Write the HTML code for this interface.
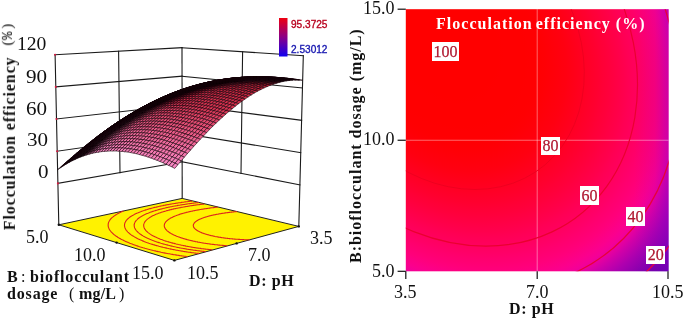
<!DOCTYPE html>
<html><head><meta charset="utf-8"><style>
html,body{margin:0;padding:0;background:#fff;}
body{width:685px;height:322px;position:relative;overflow:hidden;font-family:"Liberation Serif",serif;color:#111;}
svg{position:absolute;left:0;top:0;}
.t{position:absolute;white-space:nowrap;line-height:1;font-size:18px;will-change:transform;}
.b{font-weight:bold;}
.lab{will-change:transform;position:absolute;background:#fff;color:#b01830;-webkit-text-stroke:0.25px #b01830;font-size:16px;line-height:1;text-align:center;white-space:nowrap;}
</style></head><body>
<svg width="685" height="322" viewBox="0 0 685 322">
<defs><linearGradient id="cb" x1="0" y1="0" x2="0" y2="1"><stop offset="0" stop-color="#ee0010"/><stop offset="0.5" stop-color="#8a0088"/><stop offset="1" stop-color="#1000f0"/></linearGradient></defs>
<g stroke-linecap="square">
<line x1="57.9" y1="183.4" x2="182.2" y2="161.8" stroke="#1a1a1a" stroke-width="1.1"/>
<line x1="182.2" y1="161.8" x2="299.9" y2="184.9" stroke="#1a1a1a" stroke-width="1.1"/>
<line x1="57.2" y1="151.2" x2="182.1" y2="133.3" stroke="#1a1a1a" stroke-width="1.1"/>
<line x1="182.1" y1="133.3" x2="300.7" y2="152.6" stroke="#1a1a1a" stroke-width="1.1"/>
<line x1="56.5" y1="119" x2="182.1" y2="104.8" stroke="#1a1a1a" stroke-width="1.1"/>
<line x1="182.1" y1="104.8" x2="301.6" y2="120.3" stroke="#1a1a1a" stroke-width="1.1"/>
<line x1="55.8" y1="86.9" x2="182.1" y2="76.2" stroke="#1a1a1a" stroke-width="1.1"/>
<line x1="182.1" y1="76.2" x2="302.4" y2="88" stroke="#1a1a1a" stroke-width="1.1"/>
<line x1="55.1" y1="54.7" x2="182" y2="47.7" stroke="#1a1a1a" stroke-width="1.1"/>
<line x1="182" y1="47.7" x2="303.3" y2="55.7" stroke="#1a1a1a" stroke-width="1.1"/>
<line x1="120" y1="172.6" x2="118.6" y2="51.2" stroke="#1a1a1a" stroke-width="1.1"/>
<line x1="241" y1="173.4" x2="242.6" y2="51.7" stroke="#1a1a1a" stroke-width="1.1"/>
<line x1="58.8" y1="224.8" x2="55.1" y2="54.7" stroke="#1a1a1a" stroke-width="1.1"/>
<line x1="182.2" y1="198.4" x2="182" y2="47.7" stroke="#1a1a1a" stroke-width="1.1"/>
<line x1="298.8" y1="226.4" x2="303.3" y2="55.7" stroke="#1a1a1a" stroke-width="1.1"/>
</g>
<circle cx="57.9" cy="183.4" r="1.05" fill="#d81840"/>
<circle cx="57.2" cy="151.2" r="1.05" fill="#d81840"/>
<circle cx="56.5" cy="119" r="1.05" fill="#d81840"/>
<circle cx="55.8" cy="86.9" r="1.05" fill="#d81840"/>
<circle cx="55.1" cy="54.7" r="1.05" fill="#d81840"/>
<polygon points="58.8,224.8 174.4,260.4 298.8,226.4 182.2,198.4" fill="#fff200" stroke="#222" stroke-width="1"/>
<polyline fill="none" stroke="#dc241c" stroke-width="1.1" points="158.1,251.6 159.1,251.8 160.1,252 161.1,252.3 162.1,252.5 163.1,252.7 164.1,252.9 165.2,253.1 166.2,253.3 167.2,253.5 168.2,253.7 169.3,253.8 170.3,254 171.4,254.2 172.4,254.4 173.5,254.6 174.5,254.7 175.6,254.9 176.6,255.1 177.7,255.3 178.8,255.4 179.8,255.6 180.9,255.7 182,255.9 183.1,256 184.1,256.2 185.2,256.3 186.3,256.5 187.4,256.6"/>
<polyline fill="none" stroke="#dc241c" stroke-width="1.1" points="123.5,211 122.8,211.3 122.2,211.5 121.6,211.8 121,212.1 120.4,212.4 119.8,212.6 119.2,212.9 118.7,213.2 118.1,213.5 117.6,213.8 117.1,214.1 116.6,214.4 116.1,214.7 115.6,215 115.2,215.3 114.7,215.6 114.3,215.9 113.8,216.2 113.4,216.5 113,216.8 112.7,217.1 112.3,217.4 112,217.7 111.6,218.1 111.3,218.4 111,218.7 110.7,219 110.4,219.3 110.2,219.7 109.9,220 109.7,220.3 109.5,220.7 109.3,221 109.1,221.3 108.9,221.7 108.8,222 108.6,222.3 108.5,222.7 108.4,223 108.3,223.3 108.3,223.7 108.2,224 108.2,224.4 108.2,224.7 108.1,225.1 108.2,225.4 108.2,225.8 108.2,226.1 108.3,226.4 108.3,226.8 108.4,227.1 108.5,227.5 108.7,227.8 108.8,228.2 109,228.5 109.1,228.9 109.3,229.2 109.5,229.6 109.7,229.9 110,230.3 110.2,230.6 110.5,231 110.7,231.3 111,231.7 111.3,232 111.7,232.4 112,232.7 112.4,233.1 112.7,233.4 113.1,233.8 113.5,234.1 113.9,234.5 114.3,234.8 114.8,235.1 115.2,235.5 115.7,235.8 116.2,236.2 116.7,236.5 117.2,236.8 117.7,237.2 118.2,237.5 118.8,237.8 119.3,238.2 119.9,238.5 120.5,238.8 121.1,239.2 121.7,239.5 122.3,239.8 123,240.1 123.6,240.5 124.3,240.8 124.9,241.1 125.6,241.4 126.3,241.7 127,242 127.7,242.3 128.4,242.6 129.2,242.9 129.9,243.2 130.7,243.5 131.4,243.8 132.2,244.1 133,244.4 133.8,244.7 134.6,245 135.4,245.3 136.2,245.6 137,245.9 137.9,246.1 138.7,246.4 139.6,246.7 140.4,247 141.3,247.2 142.2,247.5 143.1,247.8 144,248 144.9,248.3 145.8,248.5 146.7,248.8 147.6,249 148.5,249.3 149.5,249.5 150.4,249.8 151.3,250 152.3,250.2 153.3,250.5 154.2,250.7 155.2,250.9 156.2,251.2 157.1,251.4 158.1,251.6"/>
<polyline fill="none" stroke="#dc241c" stroke-width="1.1" points="169.2,248.7 170.1,248.9 171,249.1 171.9,249.3 172.8,249.5 173.7,249.6 174.6,249.8 175.5,250 176.4,250.2 177.3,250.3 178.2,250.5 179.2,250.7 180.1,250.8 181,251 182,251.1 182.9,251.3 183.8,251.5 184.8,251.6 185.7,251.7 186.7,251.9 187.6,252 188.6,252.2 189.6,252.3 190.5,252.4 191.5,252.6 192.4,252.7 193.4,252.8 194.4,253 195.4,253.1 196.3,253.2 197.3,253.3 198.3,253.4 199.3,253.6"/>
<polyline fill="none" stroke="#dc241c" stroke-width="1.1" points="192,201.1 191,201.2 190.1,201.3 189.1,201.4 188.2,201.5 187.2,201.7 186.3,201.8 185.3,201.9 184.4,202 183.5,202.2 182.5,202.3 181.6,202.4 180.7,202.6 179.7,202.7 178.8,202.8 177.9,203 177,203.1 176,203.2 175.1,203.4 174.2,203.5 173.3,203.7 172.4,203.8 171.5,204 170.7,204.1 169.8,204.3 168.9,204.5 168,204.6 167.1,204.8 166.3,204.9 165.4,205.1 164.6,205.3 163.7,205.4 162.9,205.6 162,205.8 161.2,206 160.4,206.1 159.5,206.3 158.7,206.5 157.9,206.7 157.1,206.9 156.3,207.1 155.5,207.2 154.7,207.4 153.9,207.6 153.2,207.8 152.4,208 151.6,208.2 150.9,208.4 150.1,208.6 149.4,208.8 148.7,209 148,209.2 147.2,209.5 146.5,209.7 145.8,209.9 145.2,210.1 144.5,210.3 143.8,210.6 143.2,210.8 142.5,211 141.9,211.2 141.2,211.5 140.6,211.7 140,211.9 139.4,212.2 138.8,212.4 138.2,212.7 137.6,212.9 137.1,213.1 136.5,213.4 136,213.6 135.4,213.9 134.9,214.1 134.4,214.4 133.9,214.7 133.4,214.9 133,215.2 132.5,215.4 132,215.7 131.6,216 131.2,216.2 130.8,216.5 130.4,216.8 130,217.1 129.6,217.3 129.2,217.6 128.9,217.9 128.5,218.2 128.2,218.5 127.9,218.7 127.6,219 127.3,219.3 127,219.6 126.8,219.9 126.5,220.2 126.3,220.5 126.1,220.8 125.9,221.1 125.7,221.4 125.5,221.7 125.4,222 125.2,222.3 125.1,222.6 124.9,222.9 124.8,223.2 124.8,223.5 124.7,223.8 124.6,224.1 124.6,224.4 124.5,224.7 124.5,225 124.5,225.3 124.5,225.6 124.5,225.9 124.6,226.2 124.6,226.5 124.7,226.8 124.8,227.2 124.9,227.5 125,227.8 125.1,228.1 125.2,228.4 125.4,228.7 125.5,229 125.7,229.3 125.9,229.6 126.1,230 126.3,230.3 126.6,230.6 126.8,230.9 127.1,231.2 127.4,231.5 127.6,231.8 127.9,232.1 128.3,232.4 128.6,232.7 128.9,233 129.3,233.3 129.7,233.7 130,234 130.4,234.3 130.8,234.6 131.2,234.9 131.7,235.2 132.1,235.5 132.6,235.8 133,236.1 133.5,236.3 134,236.6 134.5,236.9 135,237.2 135.5,237.5 136.1,237.8 136.6,238.1 137.2,238.4 137.7,238.7 138.3,238.9 138.9,239.2 139.5,239.5 140.1,239.8 140.7,240 141.4,240.3 142,240.6 142.6,240.9 143.3,241.1 144,241.4 144.6,241.7 145.3,241.9 146,242.2 146.7,242.4 147.4,242.7 148.1,242.9 148.9,243.2 149.6,243.4 150.3,243.7 151.1,243.9 151.8,244.2 152.6,244.4 153.4,244.7 154.2,244.9 154.9,245.1 155.7,245.4 156.5,245.6 157.3,245.8 158.1,246 159,246.3 159.8,246.5 160.6,246.7 161.4,246.9 162.3,247.1 163.1,247.3 164,247.5 164.8,247.7 165.7,247.9 166.6,248.1 167.4,248.3 168.3,248.5 169.2,248.7"/>
<polyline fill="none" stroke="#dc241c" stroke-width="1.1" points="175.7,247 176.6,247.2 177.4,247.4 178.2,247.5 179.1,247.7 179.9,247.9 180.7,248 181.6,248.2 182.4,248.3 183.3,248.5 184.2,248.6 185,248.8 185.9,248.9 186.7,249.1 187.6,249.2 188.5,249.4 189.4,249.5 190.2,249.6 191.1,249.8 192,249.9 192.9,250 193.8,250.2 194.7,250.3 195.6,250.4 196.5,250.5 197.4,250.7 198.3,250.8 199.2,250.9 200.1,251 201,251.1 201.9,251.2 202.8,251.3 203.7,251.4 204.6,251.5 205.5,251.6"/>
<polyline fill="none" stroke="#dc241c" stroke-width="1.1" points="198.7,202.5 197.8,202.6 197,202.7 196.1,202.8 195.2,202.9 194.3,203 193.4,203.1 192.5,203.2 191.6,203.4 190.8,203.5 189.9,203.6 189,203.7 188.1,203.8 187.3,204 186.4,204.1 185.5,204.2 184.7,204.4 183.8,204.5 183,204.6 182.1,204.8 181.3,204.9 180.4,205 179.6,205.2 178.8,205.3 177.9,205.4 177.1,205.6 176.3,205.7 175.5,205.9 174.6,206 173.8,206.2 173,206.3 172.2,206.5 171.4,206.7 170.6,206.8 169.9,207 169.1,207.1 168.3,207.3 167.5,207.5 166.8,207.6 166,207.8 165.2,208 164.5,208.2 163.8,208.3 163,208.5 162.3,208.7 161.6,208.9 160.8,209.1 160.1,209.3 159.4,209.4 158.7,209.6 158,209.8 157.4,210 156.7,210.2 156,210.4 155.3,210.6 154.7,210.8 154,211 153.4,211.2 152.8,211.4 152.1,211.6 151.5,211.9 150.9,212.1 150.3,212.3 149.7,212.5 149.2,212.7 148.6,212.9 148,213.2 147.5,213.4 146.9,213.6 146.4,213.8 145.9,214.1 145.4,214.3 144.9,214.5 144.4,214.8 143.9,215 143.4,215.2 142.9,215.5 142.5,215.7 142.1,216 141.6,216.2 141.2,216.5 140.8,216.7 140.4,217 140,217.2 139.6,217.5 139.3,217.7 138.9,218 138.6,218.3 138.3,218.5 137.9,218.8 137.6,219 137.4,219.3 137.1,219.6 136.8,219.8 136.6,220.1 136.3,220.4 136.1,220.6 135.9,220.9 135.7,221.2 135.5,221.5 135.3,221.7 135.1,222 135,222.3 134.8,222.6 134.7,222.9 134.6,223.1 134.5,223.4 134.4,223.7 134.4,224 134.3,224.3 134.2,224.5 134.2,224.8 134.2,225.1 134.2,225.4 134.2,225.7 134.2,226 134.3,226.3 134.3,226.6 134.4,226.8 134.4,227.1 134.5,227.4 134.6,227.7 134.7,228 134.9,228.3 135,228.6 135.2,228.9 135.3,229.1 135.5,229.4 135.7,229.7 135.9,230 136.1,230.3 136.3,230.6 136.6,230.9 136.8,231.2 137.1,231.4 137.4,231.7 137.7,232 138,232.3 138.3,232.6 138.6,232.9 139,233.1 139.3,233.4 139.7,233.7 140.1,234 140.5,234.3 140.9,234.5 141.3,234.8 141.7,235.1 142.1,235.4 142.6,235.6 143,235.9 143.5,236.2 144,236.4 144.5,236.7 145,237 145.5,237.2 146,237.5 146.5,237.8 147,238 147.6,238.3 148.1,238.5 148.7,238.8 149.3,239 149.9,239.3 150.5,239.5 151.1,239.8 151.7,240 152.3,240.3 152.9,240.5 153.6,240.8 154.2,241 154.8,241.2 155.5,241.5 156.2,241.7 156.8,241.9 157.5,242.2 158.2,242.4 158.9,242.6 159.6,242.8 160.3,243.1 161,243.3 161.8,243.5 162.5,243.7 163.2,243.9 164,244.1 164.7,244.3 165.5,244.5 166.2,244.7 167,244.9 167.8,245.1 168.5,245.3 169.3,245.5 170.1,245.7 170.9,245.9 171.7,246.1 172.5,246.3 173.3,246.5 174.1,246.7 174.9,246.8 175.7,247"/>
<polyline fill="none" stroke="#dc241c" stroke-width="1.1" points="182.2,245.3 182.9,245.5 183.7,245.6 184.5,245.8 185.2,245.9 186,246.1 186.8,246.2 187.6,246.4 188.4,246.5 189.2,246.7 190,246.8 190.8,247 191.6,247.1 192.4,247.2 193.2,247.4 194,247.5 194.8,247.6 195.6,247.7 196.4,247.9 197.2,248 198,248.1 198.9,248.2 199.7,248.3 200.5,248.4 201.3,248.6 202.2,248.7 203,248.8 203.8,248.9 204.7,249 205.5,249.1 206.4,249.2 207.2,249.3 208,249.4 208.9,249.5 209.7,249.5 210.6,249.6 211.4,249.7 212.3,249.8"/>
<polyline fill="none" stroke="#dc241c" stroke-width="1.1" points="204.3,204 203.5,204.1 202.6,204.2 201.8,204.3 201,204.4 200.1,204.5 199.3,204.6 198.5,204.7 197.7,204.8 196.9,204.9 196.1,205 195.2,205.1 194.4,205.3 193.6,205.4 192.8,205.5 192,205.6 191.2,205.7 190.4,205.8 189.6,206 188.9,206.1 188.1,206.2 187.3,206.4 186.5,206.5 185.7,206.6 185,206.7 184.2,206.9 183.4,207 182.7,207.2 181.9,207.3 181.1,207.4 180.4,207.6 179.7,207.7 178.9,207.9 178.2,208 177.4,208.2 176.7,208.3 176,208.5 175.3,208.6 174.6,208.8 173.8,208.9 173.1,209.1 172.4,209.3 171.8,209.4 171.1,209.6 170.4,209.8 169.7,209.9 169,210.1 168.4,210.3 167.7,210.5 167.1,210.6 166.4,210.8 165.8,211 165.1,211.2 164.5,211.4 163.9,211.5 163.3,211.7 162.7,211.9 162.1,212.1 161.5,212.3 160.9,212.5 160.3,212.7 159.8,212.9 159.2,213.1 158.6,213.3 158.1,213.5 157.6,213.7 157,213.9 156.5,214.1 156,214.3 155.5,214.5 155,214.7 154.5,215 154,215.2 153.6,215.4 153.1,215.6 152.7,215.8 152.2,216.1 151.8,216.3 151.4,216.5 151,216.7 150.6,217 150.2,217.2 149.8,217.4 149.4,217.7 149.1,217.9 148.7,218.1 148.4,218.4 148.1,218.6 147.8,218.9 147.5,219.1 147.2,219.3 146.9,219.6 146.6,219.8 146.4,220.1 146.1,220.3 145.9,220.6 145.7,220.8 145.4,221.1 145.2,221.3 145.1,221.6 144.9,221.8 144.7,222.1 144.6,222.4 144.4,222.6 144.3,222.9 144.2,223.1 144.1,223.4 144,223.6 143.9,223.9 143.8,224.2 143.8,224.4 143.7,224.7 143.7,225 143.7,225.2 143.7,225.5 143.7,225.8 143.7,226 143.8,226.3 143.8,226.5 143.9,226.8 143.9,227.1 144,227.3 144.1,227.6 144.2,227.9 144.3,228.1 144.4,228.4 144.6,228.7 144.7,228.9 144.9,229.2 145.1,229.5 145.3,229.7 145.5,230 145.7,230.3 145.9,230.5 146.2,230.8 146.4,231.1 146.7,231.3 146.9,231.6 147.2,231.8 147.5,232.1 147.8,232.4 148.1,232.6 148.5,232.9 148.8,233.1 149.1,233.4 149.5,233.6 149.9,233.9 150.3,234.2 150.6,234.4 151.1,234.7 151.5,234.9 151.9,235.2 152.3,235.4 152.8,235.7 153.2,235.9 153.7,236.1 154.1,236.4 154.6,236.6 155.1,236.9 155.6,237.1 156.1,237.3 156.6,237.6 157.1,237.8 157.7,238 158.2,238.3 158.8,238.5 159.3,238.7 159.9,239 160.5,239.2 161,239.4 161.6,239.6 162.2,239.8 162.8,240.1 163.4,240.3 164,240.5 164.7,240.7 165.3,240.9 165.9,241.1 166.6,241.3 167.2,241.5 167.9,241.7 168.6,241.9 169.2,242.1 169.9,242.3 170.6,242.5 171.3,242.7 172,242.9 172.7,243.1 173.4,243.3 174.1,243.4 174.8,243.6 175.5,243.8 176.2,244 177,244.2 177.7,244.3 178.4,244.5 179.2,244.7 179.9,244.8 180.7,245 181.4,245.2 182.2,245.3"/>
<polyline fill="none" stroke="#dc241c" stroke-width="1.1" points="196.1,241.7 196.7,241.8 197.3,241.9 198,242.1 198.6,242.2 199.3,242.3 199.9,242.4 200.6,242.5 201.2,242.7 201.9,242.8 202.5,242.9 203.2,243 203.8,243.1 204.5,243.2 205.2,243.3 205.8,243.4 206.5,243.5 207.2,243.6 207.8,243.7 208.5,243.8 209.2,243.9 209.9,244 210.6,244.1 211.2,244.2 211.9,244.3 212.6,244.4 213.3,244.4 214,244.5 214.7,244.6 215.4,244.7 216.1,244.8 216.8,244.8 217.5,244.9 218.2,245 218.9,245.1 219.6,245.1 220.3,245.2 221,245.3 221.7,245.3 222.4,245.4 223.1,245.4 223.8,245.5 224.5,245.6 225.2,245.6 225.9,245.7 226.6,245.7 227.3,245.8"/>
<polyline fill="none" stroke="#dc241c" stroke-width="1.1" points="217.8,207.1 217.1,207.2 216.4,207.2 215.7,207.3 215,207.4 214.4,207.5 213.7,207.6 213,207.7 212.3,207.7 211.6,207.8 210.9,207.9 210.3,208 209.6,208.1 208.9,208.2 208.2,208.3 207.6,208.4 206.9,208.5 206.2,208.6 205.5,208.7 204.9,208.8 204.2,208.9 203.6,209 202.9,209.1 202.3,209.2 201.6,209.3 201,209.4 200.3,209.5 199.7,209.6 199,209.7 198.4,209.9 197.7,210 197.1,210.1 196.5,210.2 195.9,210.3 195.2,210.5 194.6,210.6 194,210.7 193.4,210.8 192.8,211 192.2,211.1 191.6,211.2 191,211.3 190.4,211.5 189.8,211.6 189.2,211.7 188.6,211.9 188,212 187.5,212.2 186.9,212.3 186.3,212.4 185.8,212.6 185.2,212.7 184.7,212.9 184.1,213 183.6,213.2 183.1,213.3 182.5,213.5 182,213.6 181.5,213.8 181,213.9 180.5,214.1 180,214.3 179.5,214.4 179,214.6 178.5,214.7 178,214.9 177.6,215.1 177.1,215.2 176.6,215.4 176.2,215.6 175.7,215.8 175.3,215.9 174.9,216.1 174.5,216.3 174,216.5 173.6,216.6 173.2,216.8 172.8,217 172.5,217.2 172.1,217.4 171.7,217.6 171.3,217.7 171,217.9 170.6,218.1 170.3,218.3 170,218.5 169.7,218.7 169.3,218.9 169,219.1 168.7,219.3 168.5,219.5 168.2,219.7 167.9,219.9 167.7,220.1 167.4,220.3 167.2,220.5 166.9,220.7 166.7,220.9 166.5,221.1 166.3,221.3 166.1,221.5 165.9,221.7 165.7,221.9 165.6,222.1 165.4,222.4 165.3,222.6 165.1,222.8 165,223 164.9,223.2 164.8,223.4 164.7,223.6 164.6,223.8 164.5,224.1 164.5,224.3 164.4,224.5 164.4,224.7 164.3,224.9 164.3,225.1 164.3,225.4 164.3,225.6 164.3,225.8 164.3,226 164.3,226.2 164.4,226.5 164.4,226.7 164.5,226.9 164.5,227.1 164.6,227.3 164.7,227.5 164.8,227.8 164.9,228 165,228.2 165.2,228.4 165.3,228.6 165.4,228.9 165.6,229.1 165.8,229.3 165.9,229.5 166.1,229.7 166.3,229.9 166.5,230.2 166.7,230.4 167,230.6 167.2,230.8 167.4,231 167.7,231.2 168,231.4 168.2,231.6 168.5,231.8 168.8,232.1 169.1,232.3 169.4,232.5 169.7,232.7 170,232.9 170.4,233.1 170.7,233.3 171.1,233.5 171.4,233.7 171.8,233.9 172.1,234.1 172.5,234.3 172.9,234.5 173.3,234.7 173.7,234.9 174.1,235.1 174.5,235.3 175,235.5 175.4,235.6 175.8,235.8 176.3,236 176.7,236.2 177.2,236.4 177.7,236.6 178.1,236.7 178.6,236.9 179.1,237.1 179.6,237.3 180.1,237.5 180.6,237.6 181.1,237.8 181.6,238 182.1,238.1 182.7,238.3 183.2,238.5 183.7,238.6 184.3,238.8 184.8,239 185.4,239.1 185.9,239.3 186.5,239.4 187.1,239.6 187.6,239.7 188.2,239.9 188.8,240 189.4,240.2 190,240.3 190.6,240.5 191.2,240.6 191.8,240.8 192.4,240.9 193,241 193.6,241.2 194.2,241.3 194.8,241.4 195.5,241.6 196.1,241.7"/>
<polyline fill="none" stroke="#dc241c" stroke-width="1.1" points="215.7,236.6 216.1,236.7 216.6,236.7 217,236.8 217.5,236.9 217.9,237 218.4,237.1 218.8,237.1 219.3,237.2 219.7,237.3 220.2,237.4 220.7,237.4 221.1,237.5 221.6,237.6 222.1,237.7 222.5,237.7 223,237.8 223.5,237.9 223.9,237.9 224.4,238 224.9,238.1 225.4,238.1 225.9,238.2 226.3,238.2 226.8,238.3 227.3,238.4 227.8,238.4 228.3,238.5 228.8,238.5 229.2,238.6 229.7,238.6 230.2,238.7 230.7,238.7 231.2,238.8 231.7,238.8 232.2,238.9 232.7,238.9 233.2,239 233.7,239 234.2,239 234.6,239.1 235.1,239.1 235.6,239.2 236.1,239.2 236.6,239.2 237.1,239.3 237.6,239.3 238.1,239.3 238.6,239.4 239.1,239.4 239.6,239.4 240.1,239.5 240.6,239.5 241.1,239.5 241.6,239.5 242.2,239.6 242.7,239.6 243.2,239.6 243.7,239.6 244.2,239.7 244.7,239.7 245.2,239.7 245.7,239.7 246.2,239.7 246.7,239.7 247.2,239.8 247.7,239.8 248.2,239.8 248.7,239.8 249.2,239.8 249.7,239.8"/>
<polyline fill="none" stroke="#dc241c" stroke-width="1.1" points="236.9,211.6 236.4,211.6 235.9,211.7 235.4,211.7 234.9,211.8 234.4,211.8 233.9,211.9 233.4,211.9 232.9,212 232.4,212 231.9,212.1 231.4,212.1 231,212.2 230.5,212.2 230,212.3 229.5,212.4 229,212.4 228.5,212.5 228,212.6 227.6,212.6 227.1,212.7 226.6,212.7 226.1,212.8 225.6,212.9 225.2,212.9 224.7,213 224.2,213.1 223.7,213.2 223.3,213.2 222.8,213.3 222.3,213.4 221.9,213.4 221.4,213.5 220.9,213.6 220.5,213.7 220,213.8 219.6,213.8 219.1,213.9 218.6,214 218.2,214.1 217.7,214.2 217.3,214.2 216.8,214.3 216.4,214.4 216,214.5 215.5,214.6 215.1,214.7 214.6,214.8 214.2,214.9 213.8,214.9 213.4,215 212.9,215.1 212.5,215.2 212.1,215.3 211.7,215.4 211.3,215.5 210.8,215.6 210.4,215.7 210,215.8 209.6,215.9 209.2,216 208.8,216.1 208.4,216.2 208,216.3 207.7,216.4 207.3,216.6 206.9,216.7 206.5,216.8 206.2,216.9 205.8,217 205.4,217.1 205.1,217.2 204.7,217.3 204.3,217.5 204,217.6 203.7,217.7 203.3,217.8 203,217.9 202.7,218 202.3,218.2 202,218.3 201.7,218.4 201.4,218.5 201.1,218.7 200.8,218.8 200.5,218.9 200.2,219 199.9,219.2 199.6,219.3 199.3,219.4 199.1,219.6 198.8,219.7 198.5,219.8 198.3,220 198,220.1 197.8,220.2 197.6,220.4 197.3,220.5 197.1,220.7 196.9,220.8 196.7,220.9 196.5,221.1 196.3,221.2 196.1,221.4 195.9,221.5 195.7,221.6 195.5,221.8 195.3,221.9 195.2,222.1 195,222.2 194.9,222.4 194.7,222.5 194.6,222.7 194.5,222.8 194.3,223 194.2,223.1 194.1,223.3 194,223.4 193.9,223.5 193.8,223.7 193.7,223.9 193.7,224 193.6,224.2 193.5,224.3 193.5,224.5 193.4,224.6 193.4,224.8 193.4,224.9 193.4,225.1 193.3,225.2 193.3,225.4 193.3,225.5 193.3,225.7 193.3,225.8 193.4,226 193.4,226.1 193.4,226.3 193.5,226.4 193.5,226.6 193.6,226.7 193.6,226.9 193.7,227 193.8,227.2 193.8,227.4 193.9,227.5 194,227.7 194.1,227.8 194.2,228 194.4,228.1 194.5,228.3 194.6,228.4 194.8,228.6 194.9,228.7 195.1,228.9 195.2,229 195.4,229.1 195.5,229.3 195.7,229.4 195.9,229.6 196.1,229.7 196.3,229.9 196.5,230 196.7,230.2 196.9,230.3 197.1,230.4 197.4,230.6 197.6,230.7 197.8,230.9 198.1,231 198.3,231.1 198.6,231.3 198.9,231.4 199.1,231.6 199.4,231.7 199.7,231.8 200,232 200.2,232.1 200.5,232.2 200.8,232.3 201.1,232.5 201.5,232.6 201.8,232.7 202.1,232.9 202.4,233 202.7,233.1 203.1,233.2 203.4,233.3 203.7,233.5 204.1,233.6 204.4,233.7 204.8,233.8 205.2,233.9 205.5,234.1 205.9,234.2 206.3,234.3 206.6,234.4 207,234.5 207.4,234.6 207.8,234.7 208.2,234.8 208.6,234.9 209,235 209.3,235.2 209.8,235.3 210.2,235.4 210.6,235.5 211,235.6 211.4,235.7 211.8,235.8 212.2,235.8 212.7,235.9 213.1,236 213.5,236.1 213.9,236.2 214.4,236.3 214.8,236.4 215.2,236.5 215.7,236.6"/>
<circle cx="58.8" cy="224.8" r="1.2" fill="#111"/>
<circle cx="116.6" cy="242.6" r="1.2" fill="#111"/>
<circle cx="174.4" cy="260.4" r="1.2" fill="#111"/>
<circle cx="236.6" cy="243.4" r="1.2" fill="#111"/>
<circle cx="298.8" cy="226.4" r="1.2" fill="#111"/>
<g stroke="#140008" stroke-width="0.58" stroke-linejoin="round">
<path d="M182.1 104.2L185.1 102.1L181.9 101.9L178.9 104z" fill="#ea5884"/>
<path d="M178.9 104L181.9 101.9L178.8 101.8L175.8 103.9z" fill="#ea5782"/>
<path d="M185.1 102.1L188.1 100.2L184.9 99.9L181.9 101.9z" fill="#e8537d"/>
<path d="M175.8 103.9L178.8 101.8L175.6 101.9L172.7 104z" fill="#e95681"/>
<path d="M181.9 101.9L184.9 99.9L181.8 99.8L178.8 101.8z" fill="#e7527b"/>
<path d="M188.1 100.2L191.1 98.3L187.9 98L184.9 99.9z" fill="#e64e76"/>
<path d="M178.8 101.8L181.8 99.8L178.6 99.9L175.6 101.9z" fill="#e7517a"/>
<path d="M184.9 99.9L187.9 98L184.8 97.9L181.8 99.8z" fill="#e54d75"/>
<path d="M172.7 104L175.6 101.9L172.5 102L169.5 104.2z" fill="#e95581"/>
<path d="M191.1 98.3L194.1 96.5L190.9 96.2L187.9 98z" fill="#e44970"/>
<path d="M169.5 104.2L172.5 102L169.4 102.3L166.4 104.4z" fill="#cb4a70"/>
<path d="M175.6 101.9L178.6 99.9L175.5 100L172.5 102z" fill="#dc4d74"/>
<path d="M181.8 99.8L184.8 97.9L181.6 97.9L178.6 99.9z" fill="#e54c73"/>
<path d="M187.9 98L190.9 96.2L187.8 96.1L184.8 97.9z" fill="#e3486e"/>
<path d="M194.1 96.5L197.1 94.7L193.9 94.5L190.9 96.2z" fill="#e24569"/>
<path d="M172.5 102L175.5 100L172.3 100.3L169.4 102.3z" fill="#b03d5d"/>
<path d="M190.9 96.2L193.9 94.5L190.8 94.4L187.8 96.1z" fill="#e14468"/>
<path d="M166.4 104.4L169.4 102.3L166.2 102.7L163.2 104.9z" fill="#a13b59"/>
<path d="M178.6 99.9L181.6 97.9L178.5 98.1L175.5 100z" fill="#c14061"/>
<path d="M184.8 97.9L187.8 96.1L184.6 96.1L181.6 97.9z" fill="#d44366"/>
<path d="M197.1 94.7L200.1 93.1L196.9 92.9L193.9 94.5z" fill="#e04164"/>
<path d="M163.2 104.9L166.2 102.7L163.1 103.2L160.1 105.4z" fill="#772c42"/>
<path d="M169.4 102.3L172.3 100.3L169.2 100.7L166.2 102.7z" fill="#852e46"/>
<path d="M175.5 100L178.5 98.1L175.3 98.3L172.3 100.3z" fill="#95314a"/>
<path d="M181.6 97.9L184.6 96.1L181.5 96.2L178.5 98.1z" fill="#a6344f"/>
<path d="M187.8 96.1L190.8 94.4L187.6 94.4L184.6 96.1z" fill="#b93755"/>
<path d="M193.9 94.5L196.9 92.9L193.8 92.7L190.8 94.4z" fill="#ce3b5a"/>
<path d="M200.1 93.1L203.1 91.6L199.9 91.3L196.9 92.9z" fill="#de3d5e"/>
<path d="M160.1 105.4L163.1 103.2L159.9 103.9L157 106z" fill="#4f1d2c"/>
<path d="M166.2 102.7L169.2 100.7L166.1 101.2L163.1 103.2z" fill="#5b2030"/>
<path d="M172.3 100.3L175.3 98.3L172.2 98.7L169.2 100.7z" fill="#692234"/>
<path d="M178.5 98.1L181.5 96.2L178.3 96.5L175.3 98.3z" fill="#792639"/>
<path d="M184.6 96.1L187.6 94.4L184.5 94.5L181.5 96.2z" fill="#8a293f"/>
<path d="M190.8 94.4L193.8 92.7L190.6 92.7L187.6 94.4z" fill="#9e2c45"/>
<path d="M196.9 92.9L199.9 91.3L196.8 91.2L193.8 92.7z" fill="#b3304b"/>
<path d="M203.1 91.6L206.1 90.1L202.9 89.9L199.9 91.3z" fill="#ca3451"/>
<path d="M163.1 103.2L166.1 101.2L162.9 101.8L159.9 103.9z" fill="#31111a"/>
<path d="M181.5 96.2L184.5 94.5L181.3 94.8L178.3 96.5z" fill="#5c1b2a"/>
<path d="M199.9 91.3L202.9 89.9L199.8 89.7L196.8 91.2z" fill="#97263c"/>
<path d="M157 106L159.9 103.9L156.8 104.6L153.8 106.8z" fill="#260e15"/>
<path d="M169.2 100.7L172.2 98.7L169 99.2L166.1 101.2z" fill="#3e141f"/>
<path d="M175.3 98.3L178.3 96.5L175.2 96.9L172.2 98.7z" fill="#4c1824"/>
<path d="M187.6 94.4L190.6 92.7L187.5 92.9L184.5 94.5z" fill="#6e1f30"/>
<path d="M193.8 92.7L196.8 91.2L193.6 91.2L190.6 92.7z" fill="#822236"/>
<path d="M206.1 90.1L209.1 88.8L205.9 88.5L202.9 89.9z" fill="#af2b43"/>
<path d="M153.8 106.8L156.8 104.6L153.7 105.5L150.7 107.6z" fill="#000000"/>
<path d="M159.9 103.9L162.9 101.8L159.8 102.6L156.8 104.6z" fill="#090305"/>
<path d="M166.1 101.2L169 99.2L165.9 99.9L162.9 101.8z" fill="#14070a"/>
<path d="M172.2 98.7L175.2 96.9L172 97.4L169 99.2z" fill="#210a10"/>
<path d="M178.3 96.5L181.3 94.8L178.2 95.1L175.2 96.9z" fill="#2f0e15"/>
<path d="M184.5 94.5L187.5 92.9L184.3 93.1L181.3 94.8z" fill="#40121b"/>
<path d="M190.6 92.7L193.6 91.2L190.5 91.3L187.5 92.9z" fill="#521622"/>
<path d="M196.8 91.2L199.8 89.7L196.6 89.7L193.6 91.2z" fill="#661928"/>
<path d="M202.9 89.9L205.9 88.5L202.8 88.4L199.8 89.7z" fill="#7c1e2f"/>
<path d="M209.1 88.8L212.1 87.5L208.9 87.2L205.9 88.5z" fill="#942337"/>
<path d="M156.8 104.6L159.8 102.6L156.6 103.4L153.7 105.5z" fill="#000000"/>
<path d="M205.9 88.5L208.9 87.2L205.8 87.1L202.8 88.4z" fill="#601623"/>
<path d="M150.7 107.6L153.7 105.5L150.5 106.4L147.6 108.6z" fill="#000000"/>
<path d="M162.9 101.8L165.9 99.9L162.7 100.6L159.8 102.6z" fill="#000000"/>
<path d="M169 99.2L172 97.4L168.9 98L165.9 99.9z" fill="#000000"/>
<path d="M175.2 96.9L178.2 95.1L175 95.6L172 97.4z" fill="#030101"/>
<path d="M181.3 94.8L184.3 93.1L181.1 93.5L178.2 95.1z" fill="#120508"/>
<path d="M187.5 92.9L190.5 91.3L187.3 91.5L184.3 93.1z" fill="#23090e"/>
<path d="M193.6 91.2L196.6 89.7L193.5 89.8L190.5 91.3z" fill="#350d15"/>
<path d="M199.8 89.7L202.8 88.4L199.6 88.3L196.6 89.7z" fill="#4a111c"/>
<path d="M212.1 87.5L215.1 86.3L212 86L208.9 87.2z" fill="#781c2c"/>
<path d="M147.6 108.6L150.5 106.4L147.4 107.5L144.4 109.7z" fill="#000000"/>
<path d="M153.7 105.5L156.6 103.4L153.5 104.4L150.5 106.4z" fill="#000000"/>
<path d="M159.8 102.6L162.7 100.6L159.6 101.5L156.6 103.4z" fill="#000000"/>
<path d="M165.9 99.9L168.9 98L165.7 98.7L162.7 100.6z" fill="#000000"/>
<path d="M172 97.4L175 95.6L171.9 96.3L168.9 98z" fill="#000000"/>
<path d="M178.2 95.1L181.1 93.5L178 94L175 95.6z" fill="#000000"/>
<path d="M184.3 93.1L187.3 91.5L184.1 91.9L181.1 93.5z" fill="#000000"/>
<path d="M190.5 91.3L193.5 89.8L190.3 90.1L187.3 91.5z" fill="#050102"/>
<path d="M196.6 89.7L199.6 88.3L196.5 88.5L193.5 89.8z" fill="#180609"/>
<path d="M202.8 88.4L205.8 87.1L202.6 87.1L199.6 88.3z" fill="#2d0a10"/>
<path d="M208.9 87.2L212 86L208.8 85.9L205.8 87.1z" fill="#440f18"/>
<path d="M215.1 86.3L218.1 85.2L215 84.9L212 86z" fill="#5d1521"/>
<path d="M150.5 106.4L153.5 104.4L150.3 105.4L147.4 107.5z" fill="#000000"/>
<path d="M156.6 103.4L159.6 101.5L156.5 102.4L153.5 104.4z" fill="#000000"/>
<path d="M162.7 100.6L165.7 98.7L162.6 99.6L159.6 101.5z" fill="#000000"/>
<path d="M168.9 98L171.9 96.3L168.7 97L165.7 98.7z" fill="#000000"/>
<path d="M175 95.6L178 94L174.8 94.6L171.9 96.3z" fill="#000000"/>
<path d="M187.3 91.5L190.3 90.1L187.1 90.4L184.1 91.9z" fill="#000000"/>
<path d="M193.5 89.8L196.5 88.5L193.3 88.7L190.3 90.1z" fill="#000000"/>
<path d="M199.6 88.3L202.6 87.1L199.5 87.2L196.5 88.5z" fill="#000000"/>
<path d="M205.8 87.1L208.8 85.9L205.6 85.8L202.6 87.1z" fill="#100406"/>
<path d="M212 86L215 84.9L211.8 84.8L208.8 85.9z" fill="#28090e"/>
<path d="M144.4 109.7L147.4 107.5L144.2 108.7L141.3 110.8z" fill="#000000"/>
<path d="M181.1 93.5L184.1 91.9L181 92.4L178 94z" fill="#000000"/>
<path d="M218.1 85.2L221.1 84.2L218 83.9L215 84.9z" fill="#410e17"/>
<path d="M147.4 107.5L150.3 105.4L147.2 106.6L144.2 108.7z" fill="#000000"/>
<path d="M165.7 98.7L168.7 97L165.6 97.8L162.6 99.6z" fill="#000000"/>
<path d="M196.5 88.5L199.5 87.2L196.3 87.4L193.3 88.7z" fill="#000000"/>
<path d="M215 84.9L218 83.9L214.8 83.7L211.8 84.8z" fill="#0b0204"/>
<path d="M141.3 110.8L144.2 108.7L141.1 109.9L138.2 112.1z" fill="#000000"/>
<path d="M153.5 104.4L156.5 102.4L153.3 103.5L150.3 105.4z" fill="#000000"/>
<path d="M159.6 101.5L162.6 99.6L159.4 100.5L156.5 102.4z" fill="#000000"/>
<path d="M171.9 96.3L174.8 94.6L171.7 95.3L168.7 97z" fill="#000000"/>
<path d="M178 94L181 92.4L177.8 93L174.8 94.6z" fill="#000000"/>
<path d="M184.1 91.9L187.1 90.4L184 90.9L181 92.4z" fill="#000000"/>
<path d="M190.3 90.1L193.3 88.7L190.1 89.1L187.1 90.4z" fill="#000000"/>
<path d="M202.6 87.1L205.6 85.8L202.5 86L199.5 87.2z" fill="#000000"/>
<path d="M208.8 85.9L211.8 84.8L208.6 84.7L205.6 85.8z" fill="#000000"/>
<path d="M221.1 84.2L224.2 83.2L221 82.9L218 83.9z" fill="#24080c"/>
<path d="M138.2 112.1L141.1 109.9L138 111.3L135 113.5z" fill="#000000"/>
<path d="M144.2 108.7L147.2 106.6L144.1 107.9L141.1 109.9z" fill="#000000"/>
<path d="M150.3 105.4L153.3 103.5L150.2 104.6L147.2 106.6z" fill="#000000"/>
<path d="M156.5 102.4L159.4 100.5L156.3 101.6L153.3 103.5z" fill="#000000"/>
<path d="M162.6 99.6L165.6 97.8L162.4 98.8L159.4 100.5z" fill="#000000"/>
<path d="M168.7 97L171.7 95.3L168.5 96.2L165.6 97.8z" fill="#000000"/>
<path d="M174.8 94.6L177.8 93L174.7 93.8L171.7 95.3z" fill="#000000"/>
<path d="M181 92.4L184 90.9L180.8 91.5L177.8 93z" fill="#000000"/>
<path d="M187.1 90.4L190.1 89.1L187 89.6L184 90.9z" fill="#000000"/>
<path d="M193.3 88.7L196.3 87.4L193.2 87.8L190.1 89.1z" fill="#000000"/>
<path d="M199.5 87.2L202.5 86L199.3 86.2L196.3 87.4z" fill="#000000"/>
<path d="M205.6 85.8L208.6 84.7L205.5 84.8L202.5 86z" fill="#000000"/>
<path d="M211.8 84.8L214.8 83.7L211.7 83.7L208.6 84.7z" fill="#000000"/>
<path d="M218 83.9L221 82.9L217.8 82.8L214.8 83.7z" fill="#000000"/>
<path d="M224.2 83.2L227.2 82.4L224 82L221 82.9z" fill="#050102"/>
<path d="M135 113.5L138 111.3L134.9 112.8L131.9 114.9z" fill="#000000"/>
<path d="M141.1 109.9L144.1 107.9L140.9 109.2L138 111.3z" fill="#000000"/>
<path d="M147.2 106.6L150.2 104.6L147 105.9L144.1 107.9z" fill="#000000"/>
<path d="M153.3 103.5L156.3 101.6L153.1 102.8L150.2 104.6z" fill="#000000"/>
<path d="M159.4 100.5L162.4 98.8L159.3 99.8L156.3 101.6z" fill="#000000"/>
<path d="M165.6 97.8L168.5 96.2L165.4 97.1L162.4 98.8z" fill="#000000"/>
<path d="M171.7 95.3L174.7 93.8L171.5 94.6L168.5 96.2z" fill="#000000"/>
<path d="M177.8 93L180.8 91.5L177.7 92.3L174.7 93.8z" fill="#000000"/>
<path d="M184 90.9L187 89.6L183.8 90.2L180.8 91.5z" fill="#000000"/>
<path d="M190.1 89.1L193.2 87.8L190 88.3L187 89.6z" fill="#000000"/>
<path d="M196.3 87.4L199.3 86.2L196.2 86.6L193.2 87.8z" fill="#000000"/>
<path d="M202.5 86L205.5 84.8L202.3 85.1L199.3 86.2z" fill="#000000"/>
<path d="M208.6 84.7L211.7 83.7L208.5 83.8L205.5 84.8z" fill="#000000"/>
<path d="M214.8 83.7L217.8 82.8L214.7 82.7L211.7 83.7z" fill="#000000"/>
<path d="M221 82.9L224 82L220.9 81.9L217.8 82.8z" fill="#000000"/>
<path d="M227.2 82.4L230.2 81.6L227 81.2L224 82z" fill="#000000"/>
<path d="M131.9 114.9L134.9 112.8L131.7 114.3L128.8 116.5z" fill="#000000"/>
<path d="M138 111.3L140.9 109.2L137.8 110.7L134.9 112.8z" fill="#000000"/>
<path d="M144.1 107.9L147 105.9L143.9 107.3L140.9 109.2z" fill="#000000"/>
<path d="M150.2 104.6L153.1 102.8L150 104L147 105.9z" fill="#000000"/>
<path d="M156.3 101.6L159.3 99.8L156.1 101L153.1 102.8z" fill="#000000"/>
<path d="M162.4 98.8L165.4 97.1L162.2 98.2L159.3 99.8z" fill="#000000"/>
<path d="M168.5 96.2L171.5 94.6L168.4 95.5L165.4 97.1z" fill="#000000"/>
<path d="M174.7 93.8L177.7 92.3L174.5 93.1L171.5 94.6z" fill="#000000"/>
<path d="M180.8 91.5L183.8 90.2L180.7 90.9L177.7 92.3z" fill="#000000"/>
<path d="M187 89.6L190 88.3L186.8 88.9L183.8 90.2z" fill="#000000"/>
<path d="M193.2 87.8L196.2 86.6L193 87L190 88.3z" fill="#000000"/>
<path d="M199.3 86.2L202.3 85.1L199.2 85.4L196.2 86.6z" fill="#000000"/>
<path d="M205.5 84.8L208.5 83.8L205.3 84L202.3 85.1z" fill="#000000"/>
<path d="M211.7 83.7L214.7 82.7L211.5 82.8L208.5 83.8z" fill="#000000"/>
<path d="M217.8 82.8L220.9 81.9L217.7 81.8L214.7 82.7z" fill="#000000"/>
<path d="M224 82L227 81.2L223.9 81.1L220.9 81.9z" fill="#000000"/>
<path d="M230.2 81.6L233.2 80.8L230.1 80.5L227 81.2z" fill="#000000"/>
<path d="M134.9 112.8L137.8 110.7L134.7 112.2L131.7 114.3z" fill="#000000"/>
<path d="M140.9 109.2L143.9 107.3L140.8 108.7L137.8 110.7z" fill="#000000"/>
<path d="M153.1 102.8L156.1 101L153 102.3L150 104z" fill="#000000"/>
<path d="M171.5 94.6L174.5 93.1L171.4 94.1L168.4 95.5z" fill="#000000"/>
<path d="M177.7 92.3L180.7 90.9L177.5 91.7L174.5 93.1z" fill="#000000"/>
<path d="M183.8 90.2L186.8 88.9L183.7 89.6L180.7 90.9z" fill="#000000"/>
<path d="M190 88.3L193 87L189.8 87.7L186.8 88.9z" fill="#000000"/>
<path d="M208.5 83.8L211.5 82.8L208.4 83.1L205.3 84z" fill="#000000"/>
<path d="M220.9 81.9L223.9 81.1L220.7 81L217.7 81.8z" fill="#000000"/>
<path d="M227 81.2L230.1 80.5L226.9 80.3L223.9 81.1z" fill="#000000"/>
<path d="M128.8 116.5L131.7 114.3L128.6 115.9L125.7 118.1z" fill="#000000"/>
<path d="M147 105.9L150 104L146.9 105.4L143.9 107.3z" fill="#000000"/>
<path d="M159.3 99.8L162.2 98.2L159.1 99.3L156.1 101z" fill="#000000"/>
<path d="M165.4 97.1L168.4 95.5L165.2 96.6L162.2 98.2z" fill="#000000"/>
<path d="M196.2 86.6L199.2 85.4L196 85.9L193 87z" fill="#000000"/>
<path d="M202.3 85.1L205.3 84L202.2 84.4L199.2 85.4z" fill="#000000"/>
<path d="M214.7 82.7L217.7 81.8L214.5 82L211.5 82.8z" fill="#000000"/>
<path d="M233.2 80.8L236.2 80.2L233.1 79.9L230.1 80.5z" fill="#000000"/>
<path d="M131.7 114.3L134.7 112.2L131.5 113.9L128.6 115.9z" fill="#000000"/>
<path d="M150 104L153 102.3L149.8 103.6L146.9 105.4z" fill="#000000"/>
<path d="M180.7 90.9L183.7 89.6L180.5 90.4L177.5 91.7z" fill="#000000"/>
<path d="M211.5 82.8L214.5 82L211.4 82.2L208.4 83.1z" fill="#000000"/>
<path d="M230.1 80.5L233.1 79.9L229.9 79.7L226.9 80.3z" fill="#000000"/>
<path d="M125.7 118.1L128.6 115.9L125.5 117.7L122.5 119.8z" fill="#000000"/>
<path d="M137.8 110.7L140.8 108.7L137.6 110.3L134.7 112.2z" fill="#000000"/>
<path d="M143.9 107.3L146.9 105.4L143.7 106.9L140.8 108.7z" fill="#000000"/>
<path d="M156.1 101L159.1 99.3L156 100.6L153 102.3z" fill="#000000"/>
<path d="M162.2 98.2L165.2 96.6L162.1 97.8L159.1 99.3z" fill="#000000"/>
<path d="M168.4 95.5L171.4 94.1L168.2 95.1L165.2 96.6z" fill="#000000"/>
<path d="M174.5 93.1L177.5 91.7L174.4 92.7L171.4 94.1z" fill="#000000"/>
<path d="M186.8 88.9L189.8 87.7L186.7 88.4L183.7 89.6z" fill="#000000"/>
<path d="M193 87L196 85.9L192.8 86.5L189.8 87.7z" fill="#000000"/>
<path d="M199.2 85.4L202.2 84.4L199 84.9L196 85.9z" fill="#000000"/>
<path d="M205.3 84L208.4 83.1L205.2 83.4L202.2 84.4z" fill="#000000"/>
<path d="M217.7 81.8L220.7 81L217.5 81.1L214.5 82z" fill="#000000"/>
<path d="M223.9 81.1L226.9 80.3L223.7 80.3L220.7 81z" fill="#000000"/>
<path d="M236.2 80.2L239.3 79.6L236.1 79.3L233.1 79.9z" fill="#000000"/>
<path d="M122.5 119.8L125.5 117.7L122.4 119.5L119.4 121.6z" fill="#000000"/>
<path d="M128.6 115.9L131.5 113.9L128.4 115.6L125.5 117.7z" fill="#000000"/>
<path d="M134.7 112.2L137.6 110.3L134.5 111.9L131.5 113.9z" fill="#000000"/>
<path d="M146.9 105.4L149.8 103.6L146.7 105.1L143.7 106.9z" fill="#000000"/>
<path d="M153 102.3L156 100.6L152.8 102L149.8 103.6z" fill="#000000"/>
<path d="M165.2 96.6L168.2 95.1L165.1 96.3L162.1 97.8z" fill="#000000"/>
<path d="M177.5 91.7L180.5 90.4L177.4 91.4L174.4 92.7z" fill="#000000"/>
<path d="M183.7 89.6L186.7 88.4L183.5 89.2L180.5 90.4z" fill="#000000"/>
<path d="M196 85.9L199 84.9L195.8 85.5L192.8 86.5z" fill="#000000"/>
<path d="M208.4 83.1L211.4 82.2L208.2 82.6L205.2 83.4z" fill="#000000"/>
<path d="M214.5 82L217.5 81.1L214.4 81.4L211.4 82.2z" fill="#000000"/>
<path d="M226.9 80.3L229.9 79.7L226.7 79.7L223.7 80.3z" fill="#000000"/>
<path d="M233.1 79.9L236.1 79.3L232.9 79.1L229.9 79.7z" fill="#000000"/>
<path d="M239.3 79.6L242.3 79.1L239.1 78.8L236.1 79.3z" fill="#000000"/>
<path d="M140.8 108.7L143.7 106.9L140.6 108.4L137.6 110.3z" fill="#000000"/>
<path d="M159.1 99.3L162.1 97.8L158.9 99L156 100.6z" fill="#000000"/>
<path d="M171.4 94.1L174.4 92.7L171.2 93.8L168.2 95.1z" fill="#000000"/>
<path d="M189.8 87.7L192.8 86.5L189.7 87.3L186.7 88.4z" fill="#000000"/>
<path d="M202.2 84.4L205.2 83.4L202 83.9L199 84.9z" fill="#000000"/>
<path d="M220.7 81L223.7 80.3L220.6 80.4L217.5 81.1z" fill="#000000"/>
<path d="M119.4 121.6L122.4 119.5L119.2 121.3L116.3 123.5z" fill="#000000"/>
<path d="M125.5 117.7L128.4 115.6L125.3 117.4L122.4 119.5z" fill="#000000"/>
<path d="M131.5 113.9L134.5 111.9L131.4 113.6L128.4 115.6z" fill="#000000"/>
<path d="M137.6 110.3L140.6 108.4L137.5 110.1L134.5 111.9z" fill="#000000"/>
<path d="M143.7 106.9L146.7 105.1L143.6 106.7L140.6 108.4z" fill="#000000"/>
<path d="M149.8 103.6L152.8 102L149.7 103.4L146.7 105.1z" fill="#000000"/>
<path d="M156 100.6L158.9 99L155.8 100.4L152.8 102z" fill="#000000"/>
<path d="M162.1 97.8L165.1 96.3L161.9 97.6L158.9 99z" fill="#000000"/>
<path d="M168.2 95.1L171.2 93.8L168.1 94.9L165.1 96.3z" fill="#000000"/>
<path d="M174.4 92.7L177.4 91.4L174.2 92.5L171.2 93.8z" fill="#000000"/>
<path d="M180.5 90.4L183.5 89.2L180.4 90.2L177.4 91.4z" fill="#000000"/>
<path d="M186.7 88.4L189.7 87.3L186.5 88.1L183.5 89.2z" fill="#000000"/>
<path d="M192.8 86.5L195.8 85.5L192.7 86.2L189.7 87.3z" fill="#000000"/>
<path d="M199 84.9L202 83.9L198.9 84.5L195.8 85.5z" fill="#000000"/>
<path d="M205.2 83.4L208.2 82.6L205 83L202 83.9z" fill="#000000"/>
<path d="M211.4 82.2L214.4 81.4L211.2 81.8L208.2 82.6z" fill="#000000"/>
<path d="M217.5 81.1L220.6 80.4L217.4 80.7L214.4 81.4z" fill="#000000"/>
<path d="M223.7 80.3L226.7 79.7L223.6 79.8L220.6 80.4z" fill="#000000"/>
<path d="M229.9 79.7L232.9 79.1L229.8 79.1L226.7 79.7z" fill="#000000"/>
<path d="M236.1 79.3L239.1 78.8L236 78.6L232.9 79.1z" fill="#000000"/>
<path d="M242.3 79.1L245.3 78.6L242.1 78.3L239.1 78.8z" fill="#000000"/>
<path d="M122.4 119.5L125.3 117.4L122.2 119.3L119.2 121.3z" fill="#000000"/>
<path d="M239.1 78.8L242.1 78.3L239 78.2L236 78.6z" fill="#000000"/>
<path d="M116.3 123.5L119.2 121.3L116.1 123.3L113.2 125.5z" fill="#000000"/>
<path d="M128.4 115.6L131.4 113.6L128.2 115.4L125.3 117.4z" fill="#000000"/>
<path d="M134.5 111.9L137.5 110.1L134.3 111.8L131.4 113.6z" fill="#000000"/>
<path d="M140.6 108.4L143.6 106.7L140.4 108.3L137.5 110.1z" fill="#000000"/>
<path d="M146.7 105.1L149.7 103.4L146.5 105L143.6 106.7z" fill="#000000"/>
<path d="M152.8 102L155.8 100.4L152.6 101.9L149.7 103.4z" fill="#000000"/>
<path d="M158.9 99L161.9 97.6L158.8 99L155.8 100.4z" fill="#000000"/>
<path d="M165.1 96.3L168.1 94.9L164.9 96.2L161.9 97.6z" fill="#000000"/>
<path d="M171.2 93.8L174.2 92.5L171 93.6L168.1 94.9z" fill="#000000"/>
<path d="M177.4 91.4L180.4 90.2L177.2 91.3L174.2 92.5z" fill="#000000"/>
<path d="M183.5 89.2L186.5 88.1L183.4 89.1L180.4 90.2z" fill="#000000"/>
<path d="M189.7 87.3L192.7 86.2L189.5 87.1L186.5 88.1z" fill="#000000"/>
<path d="M195.8 85.5L198.9 84.5L195.7 85.3L192.7 86.2z" fill="#000000"/>
<path d="M202 83.9L205 83L201.9 83.7L198.9 84.5z" fill="#000000"/>
<path d="M208.2 82.6L211.2 81.8L208 82.2L205 83z" fill="#000000"/>
<path d="M214.4 81.4L217.4 80.7L214.2 81L211.2 81.8z" fill="#000000"/>
<path d="M220.6 80.4L223.6 79.8L220.4 80L217.4 80.7z" fill="#000000"/>
<path d="M226.7 79.7L229.8 79.1L226.6 79.2L223.6 79.8z" fill="#000000"/>
<path d="M232.9 79.1L236 78.6L232.8 78.6L229.8 79.1z" fill="#000000"/>
<path d="M245.3 78.6L248.3 78.2L245.2 77.9L242.1 78.3z" fill="#000000"/>
<path d="M119.2 121.3L122.2 119.3L119.1 121.2L116.1 123.3z" fill="#000000"/>
<path d="M125.3 117.4L128.2 115.4L125.1 117.3L122.2 119.3z" fill="#000000"/>
<path d="M137.5 110.1L140.4 108.3L137.3 110L134.3 111.8z" fill="#000000"/>
<path d="M155.8 100.4L158.8 99L155.6 100.4L152.6 101.9z" fill="#000000"/>
<path d="M168.1 94.9L171 93.6L167.9 94.9L164.9 96.2z" fill="#000000"/>
<path d="M192.7 86.2L195.7 85.3L192.5 86.1L189.5 87.1z" fill="#000000"/>
<path d="M205 83L208 82.2L204.9 82.9L201.9 83.7z" fill="#000000"/>
<path d="M223.6 79.8L226.6 79.2L223.4 79.4L220.4 80z" fill="#000000"/>
<path d="M236 78.6L239 78.2L235.8 78.1L232.8 78.6z" fill="#000000"/>
<path d="M242.1 78.3L245.2 77.9L242 77.8L239 78.2z" fill="#000000"/>
<path d="M113.2 125.5L116.1 123.3L113 125.3L110.1 127.5z" fill="#000000"/>
<path d="M131.4 113.6L134.3 111.8L131.2 113.6L128.2 115.4z" fill="#000000"/>
<path d="M143.6 106.7L146.5 105L143.4 106.7L140.4 108.3z" fill="#000000"/>
<path d="M149.7 103.4L152.6 101.9L149.5 103.4L146.5 105z" fill="#000000"/>
<path d="M161.9 97.6L164.9 96.2L161.7 97.6L158.8 99z" fill="#000000"/>
<path d="M174.2 92.5L177.2 91.3L174 92.4L171 93.6z" fill="#000000"/>
<path d="M180.4 90.2L183.4 89.1L180.2 90.1L177.2 91.3z" fill="#000000"/>
<path d="M186.5 88.1L189.5 87.1L186.4 88L183.4 89.1z" fill="#000000"/>
<path d="M198.9 84.5L201.9 83.7L198.7 84.4L195.7 85.3z" fill="#000000"/>
<path d="M211.2 81.8L214.2 81L211.1 81.5L208 82.2z" fill="#000000"/>
<path d="M217.4 80.7L220.4 80L217.2 80.4L214.2 81z" fill="#000000"/>
<path d="M229.8 79.1L232.8 78.6L229.6 78.7L226.6 79.2z" fill="#000000"/>
<path d="M248.3 78.2L251.3 77.9L248.2 77.6L245.2 77.9z" fill="#000000"/>
<path d="M134.3 111.8L137.3 110L134.1 111.9L131.2 113.6z" fill="#000000"/>
<path d="M164.9 96.2L167.9 94.9L164.7 96.3L161.7 97.6z" fill="#000000"/>
<path d="M195.7 85.3L198.7 84.4L195.5 85.3L192.5 86.1z" fill="#000000"/>
<path d="M226.6 79.2L229.6 78.7L226.4 78.9L223.4 79.4z" fill="#000000"/>
<path d="M116.1 123.3L119.1 121.2L115.9 123.3L113 125.3z" fill="#000000"/>
<path d="M122.2 119.3L125.1 117.3L122 119.3L119.1 121.2z" fill="#000000"/>
<path d="M128.2 115.4L131.2 113.6L128.1 115.5L125.1 117.3z" fill="#000000"/>
<path d="M140.4 108.3L143.4 106.7L140.2 108.4L137.3 110z" fill="#000000"/>
<path d="M152.6 101.9L155.6 100.4L152.5 102L149.5 103.4z" fill="#000000"/>
<path d="M158.8 99L161.7 97.6L158.6 99.1L155.6 100.4z" fill="#000000"/>
<path d="M171 93.6L174 92.4L170.9 93.7L167.9 94.9z" fill="#000000"/>
<path d="M189.5 87.1L192.5 86.1L189.4 87.1L186.4 88z" fill="#000000"/>
<path d="M201.9 83.7L204.9 82.9L201.7 83.6L198.7 84.4z" fill="#000000"/>
<path d="M208 82.2L211.1 81.5L207.9 82.2L204.9 82.9z" fill="#000000"/>
<path d="M220.4 80L223.4 79.4L220.3 79.8L217.2 80.4z" fill="#000000"/>
<path d="M232.8 78.6L235.8 78.1L232.6 78.2L229.6 78.7z" fill="#000000"/>
<path d="M239 78.2L242 77.8L238.8 77.7L235.8 78.1z" fill="#000000"/>
<path d="M245.2 77.9L248.2 77.6L245 77.5L242 77.8z" fill="#000000"/>
<path d="M110.1 127.5L113 125.3L109.9 127.4L107 129.6z" fill="#000000"/>
<path d="M146.5 105L149.5 103.4L146.4 105.1L143.4 106.7z" fill="#000000"/>
<path d="M177.2 91.3L180.2 90.1L177 91.3L174 92.4z" fill="#000000"/>
<path d="M183.4 89.1L186.4 88L183.2 89.1L180.2 90.1z" fill="#000000"/>
<path d="M214.2 81L217.2 80.4L214.1 80.9L211.1 81.5z" fill="#000000"/>
<path d="M251.3 77.9L254.4 77.7L251.2 77.4L248.2 77.6z" fill="#000000"/>
<path d="M131.2 113.6L134.1 111.9L131 113.8L128.1 115.5z" fill="#000000"/>
<path d="M137.3 110L140.2 108.4L137.1 110.2L134.1 111.9z" fill="#000000"/>
<path d="M149.5 103.4L152.5 102L149.3 103.6L146.4 105.1z" fill="#000000"/>
<path d="M161.7 97.6L164.7 96.3L161.6 97.8L158.6 99.1z" fill="#000000"/>
<path d="M167.9 94.9L170.9 93.7L167.7 95.1L164.7 96.3z" fill="#000000"/>
<path d="M192.5 86.1L195.5 85.3L192.4 86.2L189.4 87.1z" fill="#000000"/>
<path d="M198.7 84.4L201.7 83.6L198.5 84.5L195.5 85.3z" fill="#000000"/>
<path d="M211.1 81.5L214.1 80.9L210.9 81.5L207.9 82.2z" fill="#000000"/>
<path d="M223.4 79.4L226.4 78.9L223.3 79.3L220.3 79.8z" fill="#000000"/>
<path d="M229.6 78.7L232.6 78.2L229.5 78.5L226.4 78.9z" fill="#000000"/>
<path d="M107 129.6L109.9 127.4L106.8 129.6L103.9 131.7z" fill="#000000"/>
<path d="M113 125.3L115.9 123.3L112.8 125.4L109.9 127.4z" fill="#000000"/>
<path d="M119.1 121.2L122 119.3L118.9 121.3L115.9 123.3z" fill="#000000"/>
<path d="M125.1 117.3L128.1 115.5L124.9 117.5L122 119.3z" fill="#000000"/>
<path d="M143.4 106.7L146.4 105.1L143.2 106.8L140.2 108.4z" fill="#000000"/>
<path d="M155.6 100.4L158.6 99.1L155.4 100.6L152.5 102z" fill="#000000"/>
<path d="M174 92.4L177 91.3L173.9 92.6L170.9 93.7z" fill="#000000"/>
<path d="M180.2 90.1L183.2 89.1L180 90.3L177 91.3z" fill="#000000"/>
<path d="M186.4 88L189.4 87.1L186.2 88.2L183.2 89.1z" fill="#000000"/>
<path d="M204.9 82.9L207.9 82.2L204.7 82.9L201.7 83.6z" fill="#000000"/>
<path d="M217.2 80.4L220.3 79.8L217.1 80.3L214.1 80.9z" fill="#000000"/>
<path d="M235.8 78.1L238.8 77.7L235.7 77.9L232.6 78.2z" fill="#000000"/>
<path d="M242 77.8L245 77.5L241.8 77.4L238.8 77.7z" fill="#000000"/>
<path d="M248.2 77.6L251.2 77.4L248 77.2L245 77.5z" fill="#000000"/>
<path d="M254.4 77.7L257.4 77.5L254.2 77.2L251.2 77.4z" fill="#000000"/>
<path d="M103.9 131.7L106.8 129.6L103.7 131.8L100.8 134z" fill="#000000"/>
<path d="M109.9 127.4L112.8 125.4L109.7 127.5L106.8 129.6z" fill="#000000"/>
<path d="M128.1 115.5L131 113.8L127.9 115.7L124.9 117.5z" fill="#000000"/>
<path d="M134.1 111.9L137.1 110.2L134 112.1L131 113.8z" fill="#000000"/>
<path d="M140.2 108.4L143.2 106.8L140.1 108.7L137.1 110.2z" fill="#000000"/>
<path d="M146.4 105.1L149.3 103.6L146.2 105.4L143.2 106.8z" fill="#000000"/>
<path d="M152.5 102L155.4 100.6L152.3 102.3L149.3 103.6z" fill="#000000"/>
<path d="M158.6 99.1L161.6 97.8L158.4 99.4L155.4 100.6z" fill="#000000"/>
<path d="M164.7 96.3L167.7 95.1L164.6 96.6L161.6 97.8z" fill="#000000"/>
<path d="M170.9 93.7L173.9 92.6L170.7 94L167.7 95.1z" fill="#000000"/>
<path d="M177 91.3L180 90.3L176.9 91.6L173.9 92.6z" fill="#000000"/>
<path d="M183.2 89.1L186.2 88.2L183 89.4L180 90.3z" fill="#000000"/>
<path d="M189.4 87.1L192.4 86.2L189.2 87.3L186.2 88.2z" fill="#000000"/>
<path d="M195.5 85.3L198.5 84.5L195.4 85.5L192.4 86.2z" fill="#000000"/>
<path d="M201.7 83.6L204.7 82.9L201.5 83.8L198.5 84.5z" fill="#000000"/>
<path d="M207.9 82.2L210.9 81.5L207.7 82.3L204.7 82.9z" fill="#000000"/>
<path d="M214.1 80.9L217.1 80.3L213.9 81L210.9 81.5z" fill="#000000"/>
<path d="M220.3 79.8L223.3 79.3L220.1 79.8L217.1 80.3z" fill="#000000"/>
<path d="M226.4 78.9L229.5 78.5L226.3 78.9L223.3 79.3z" fill="#000000"/>
<path d="M232.6 78.2L235.7 77.9L232.5 78.1L229.5 78.5z" fill="#000000"/>
<path d="M251.2 77.4L254.2 77.2L251.1 77L248 77.2z" fill="#000000"/>
<path d="M257.4 77.5L260.4 77.3L257.2 77L254.2 77.2z" fill="#000000"/>
<path d="M115.9 123.3L118.9 121.3L115.8 123.4L112.8 125.4z" fill="#000000"/>
<path d="M122 119.3L124.9 117.5L121.8 119.5L118.9 121.3z" fill="#000000"/>
<path d="M238.8 77.7L241.8 77.4L238.7 77.6L235.7 77.9z" fill="#000000"/>
<path d="M245 77.5L248 77.2L244.9 77.2L241.8 77.4z" fill="#000000"/>
<path d="M106.8 129.6L109.7 127.5L106.6 129.8L103.7 131.8z" fill="#000000"/>
<path d="M254.2 77.2L257.2 77L254.1 76.9L251.1 77z" fill="#000000"/>
<path d="M100.8 134L103.7 131.8L100.6 134.1L97.7 136.2z" fill="#000000"/>
<path d="M112.8 125.4L115.8 123.4L112.6 125.6L109.7 127.5z" fill="#000000"/>
<path d="M124.9 117.5L127.9 115.7L124.8 117.8L121.8 119.5z" fill="#000000"/>
<path d="M131 113.8L134 112.1L130.8 114.1L127.9 115.7z" fill="#000000"/>
<path d="M137.1 110.2L140.1 108.7L136.9 110.6L134 112.1z" fill="#000000"/>
<path d="M143.2 106.8L146.2 105.4L143 107.2L140.1 108.7z" fill="#000000"/>
<path d="M149.3 103.6L152.3 102.3L149.2 104L146.2 105.4z" fill="#000000"/>
<path d="M155.4 100.6L158.4 99.4L155.3 101L152.3 102.3z" fill="#000000"/>
<path d="M161.6 97.8L164.6 96.6L161.4 98.2L158.4 99.4z" fill="#000000"/>
<path d="M167.7 95.1L170.7 94L167.6 95.5L164.6 96.6z" fill="#000000"/>
<path d="M173.9 92.6L176.9 91.6L173.7 93L170.7 94z" fill="#000000"/>
<path d="M180 90.3L183 89.4L179.9 90.7L176.9 91.6z" fill="#000000"/>
<path d="M186.2 88.2L189.2 87.3L186 88.5L183 89.4z" fill="#000000"/>
<path d="M192.4 86.2L195.4 85.5L192.2 86.6L189.2 87.3z" fill="#000000"/>
<path d="M198.5 84.5L201.5 83.8L198.4 84.8L195.4 85.5z" fill="#000000"/>
<path d="M204.7 82.9L207.7 82.3L204.6 83.1L201.5 83.8z" fill="#000000"/>
<path d="M210.9 81.5L213.9 81L210.7 81.7L207.7 82.3z" fill="#000000"/>
<path d="M217.1 80.3L220.1 79.8L216.9 80.5L213.9 81z" fill="#000000"/>
<path d="M223.3 79.3L226.3 78.9L223.1 79.4L220.1 79.8z" fill="#000000"/>
<path d="M229.5 78.5L232.5 78.1L229.3 78.5L226.3 78.9z" fill="#000000"/>
<path d="M235.7 77.9L238.7 77.6L235.5 77.8L232.5 78.1z" fill="#000000"/>
<path d="M248 77.2L251.1 77L247.9 77L244.9 77.2z" fill="#000000"/>
<path d="M260.4 77.3L263.4 77.2L260.3 76.9L257.2 77z" fill="#000000"/>
<path d="M118.9 121.3L121.8 119.5L118.7 121.6L115.8 123.4z" fill="#000000"/>
<path d="M241.8 77.4L244.9 77.2L241.7 77.3L238.7 77.6z" fill="#000000"/>
<path d="M103.7 131.8L106.6 129.8L103.5 132.1L100.6 134.1z" fill="#000000"/>
<path d="M109.7 127.5L112.6 125.6L109.5 127.9L106.6 129.8z" fill="#000000"/>
<path d="M140.1 108.7L143 107.2L139.9 109.1L136.9 110.6z" fill="#000000"/>
<path d="M152.3 102.3L155.3 101L152.1 102.8L149.2 104z" fill="#000000"/>
<path d="M207.7 82.3L210.7 81.7L207.6 82.6L204.6 83.1z" fill="#000000"/>
<path d="M220.1 79.8L223.1 79.4L219.9 80L216.9 80.5z" fill="#000000"/>
<path d="M251.1 77L254.1 76.9L250.9 76.9L247.9 77z" fill="#000000"/>
<path d="M257.2 77L260.3 76.9L257.1 76.8L254.1 76.9z" fill="#000000"/>
<path d="M97.7 136.2L100.6 134.1L97.5 136.4L94.6 138.6z" fill="#000000"/>
<path d="M115.8 123.4L118.7 121.6L115.6 123.8L112.6 125.6z" fill="#000000"/>
<path d="M121.8 119.5L124.8 117.8L121.6 119.9L118.7 121.6z" fill="#000000"/>
<path d="M127.9 115.7L130.8 114.1L127.7 116.2L124.8 117.8z" fill="#000000"/>
<path d="M134 112.1L136.9 110.6L133.8 112.6L130.8 114.1z" fill="#000000"/>
<path d="M146.2 105.4L149.2 104L146 105.9L143 107.2z" fill="#000000"/>
<path d="M158.4 99.4L161.4 98.2L158.3 99.9L155.3 101z" fill="#000000"/>
<path d="M164.6 96.6L167.6 95.5L164.4 97.1L161.4 98.2z" fill="#000000"/>
<path d="M170.7 94L173.7 93L170.5 94.5L167.6 95.5z" fill="#000000"/>
<path d="M176.9 91.6L179.9 90.7L176.7 92.1L173.7 93z" fill="#000000"/>
<path d="M183 89.4L186 88.5L182.9 89.8L179.9 90.7z" fill="#000000"/>
<path d="M189.2 87.3L192.2 86.6L189 87.8L186 88.5z" fill="#000000"/>
<path d="M195.4 85.5L198.4 84.8L195.2 85.9L192.2 86.6z" fill="#000000"/>
<path d="M201.5 83.8L204.6 83.1L201.4 84.1L198.4 84.8z" fill="#000000"/>
<path d="M213.9 81L216.9 80.5L213.8 81.2L210.7 81.7z" fill="#000000"/>
<path d="M226.3 78.9L229.3 78.5L226.1 79L223.1 79.4z" fill="#000000"/>
<path d="M232.5 78.1L235.5 77.8L232.3 78.2L229.3 78.5z" fill="#000000"/>
<path d="M238.7 77.6L241.7 77.3L238.5 77.6L235.5 77.8z" fill="#000000"/>
<path d="M244.9 77.2L247.9 77L244.7 77.1L241.7 77.3z" fill="#000000"/>
<path d="M263.4 77.2L266.4 77.2L263.3 76.9L260.3 76.9z" fill="#000000"/>
<path d="M149.2 104L152.1 102.8L149 104.6L146 105.9z" fill="#000000"/>
<path d="M210.7 81.7L213.8 81.2L210.6 82.1L207.6 82.6z" fill="#000000"/>
<path d="M100.6 134.1L103.5 132.1L100.4 134.4L97.5 136.4z" fill="#000000"/>
<path d="M106.6 129.8L109.5 127.9L106.4 130.2L103.5 132.1z" fill="#000000"/>
<path d="M112.6 125.6L115.6 123.8L112.5 126.1L109.5 127.9z" fill="#000000"/>
<path d="M118.7 121.6L121.6 119.9L118.5 122.1L115.6 123.8z" fill="#000000"/>
<path d="M136.9 110.6L139.9 109.1L136.8 111.1L133.8 112.6z" fill="#000000"/>
<path d="M143 107.2L146 105.9L142.9 107.8L139.9 109.1z" fill="#000000"/>
<path d="M155.3 101L158.3 99.9L155.1 101.6L152.1 102.8z" fill="#000000"/>
<path d="M173.7 93L176.7 92.1L173.5 93.6L170.5 94.5z" fill="#000000"/>
<path d="M179.9 90.7L182.9 89.8L179.7 91.3L176.7 92.1z" fill="#000000"/>
<path d="M186 88.5L189 87.8L185.9 89.1L182.9 89.8z" fill="#000000"/>
<path d="M204.6 83.1L207.6 82.6L204.4 83.6L201.4 84.1z" fill="#000000"/>
<path d="M216.9 80.5L219.9 80L216.8 80.8L213.8 81.2z" fill="#000000"/>
<path d="M223.1 79.4L226.1 79L223 79.7L219.9 80z" fill="#000000"/>
<path d="M241.7 77.3L244.7 77.1L241.5 77.4L238.5 77.6z" fill="#000000"/>
<path d="M247.9 77L250.9 76.9L247.7 77L244.7 77.1z" fill="#000000"/>
<path d="M254.1 76.9L257.1 76.8L253.9 76.8L250.9 76.9z" fill="#000000"/>
<path d="M260.3 76.9L263.3 76.9L260.1 76.8L257.1 76.8z" fill="#000000"/>
<path d="M94.6 138.6L97.5 136.4L94.4 138.8L91.5 141z" fill="#000000"/>
<path d="M124.8 117.8L127.7 116.2L124.6 118.3L121.6 119.9z" fill="#000000"/>
<path d="M130.8 114.1L133.8 112.6L130.7 114.6L127.7 116.2z" fill="#000000"/>
<path d="M161.4 98.2L164.4 97.1L161.2 98.8L158.3 99.9z" fill="#000000"/>
<path d="M167.6 95.5L170.5 94.5L167.4 96.1L164.4 97.1z" fill="#000000"/>
<path d="M192.2 86.6L195.2 85.9L192 87.1L189 87.8z" fill="#000000"/>
<path d="M198.4 84.8L201.4 84.1L198.2 85.3L195.2 85.9z" fill="#000000"/>
<path d="M229.3 78.5L232.3 78.2L229.1 78.7L226.1 79z" fill="#000000"/>
<path d="M235.5 77.8L238.5 77.6L235.3 78L232.3 78.2z" fill="#000000"/>
<path d="M266.4 77.2L269.5 77.2L266.3 76.9L263.3 76.9z" fill="#000000"/>
<path d="M115.6 123.8L118.5 122.1L115.4 124.3L112.5 126.1z" fill="#000000"/>
<path d="M146 105.9L149 104.6L145.8 106.6L142.9 107.8z" fill="#000000"/>
<path d="M213.8 81.2L216.8 80.8L213.6 81.7L210.6 82.1z" fill="#000000"/>
<path d="M244.7 77.1L247.7 77L244.6 77.3L241.5 77.4z" fill="#000000"/>
<path d="M152.1 102.8L155.1 101.6L152 103.5L149 104.6z" fill="#000000"/>
<path d="M176.7 92.1L179.7 91.3L176.5 92.8L173.5 93.6z" fill="#000000"/>
<path d="M182.9 89.8L185.9 89.1L182.7 90.5L179.7 91.3z" fill="#000000"/>
<path d="M207.6 82.6L210.6 82.1L207.4 83.1L204.4 83.6z" fill="#000000"/>
<path d="M91.5 141L94.4 138.8L91.3 141.3L88.4 143.4z" fill="#000000"/>
<path d="M97.5 136.4L100.4 134.4L97.3 136.8L94.4 138.8z" fill="#000000"/>
<path d="M103.5 132.1L106.4 130.2L103.3 132.5L100.4 134.4z" fill="#000000"/>
<path d="M109.5 127.9L112.5 126.1L109.4 128.4L106.4 130.2z" fill="#000000"/>
<path d="M121.6 119.9L124.6 118.3L121.5 120.5L118.5 122.1z" fill="#000000"/>
<path d="M133.8 112.6L136.8 111.1L133.6 113.2L130.7 114.6z" fill="#000000"/>
<path d="M139.9 109.1L142.9 107.8L139.7 109.8L136.8 111.1z" fill="#000000"/>
<path d="M158.3 99.9L161.2 98.8L158.1 100.6L155.1 101.6z" fill="#000000"/>
<path d="M164.4 97.1L167.4 96.1L164.2 97.8L161.2 98.8z" fill="#000000"/>
<path d="M170.5 94.5L173.5 93.6L170.4 95.2L167.4 96.1z" fill="#000000"/>
<path d="M189 87.8L192 87.1L188.9 88.4L185.9 89.1z" fill="#000000"/>
<path d="M195.2 85.9L198.2 85.3L195 86.5L192 87.1z" fill="#000000"/>
<path d="M201.4 84.1L204.4 83.6L201.2 84.7L198.2 85.3z" fill="#000000"/>
<path d="M219.9 80L223 79.7L219.8 80.5L216.8 80.8z" fill="#000000"/>
<path d="M226.1 79L229.1 78.7L226 79.4L223 79.7z" fill="#000000"/>
<path d="M238.5 77.6L241.5 77.4L238.4 77.8L235.3 78z" fill="#000000"/>
<path d="M250.9 76.9L253.9 76.8L250.7 76.9L247.7 77z" fill="#000000"/>
<path d="M257.1 76.8L260.1 76.8L256.9 76.8L253.9 76.8z" fill="#000000"/>
<path d="M263.3 76.9L266.3 76.9L263.1 76.8L260.1 76.8z" fill="#000000"/>
<path d="M269.5 77.2L272.5 77.3L269.3 77L266.3 76.9z" fill="#000000"/>
<path d="M127.7 116.2L130.7 114.6L127.5 116.8L124.6 118.3z" fill="#000000"/>
<path d="M232.3 78.2L235.3 78L232.2 78.5L229.1 78.7z" fill="#000000"/>
<path d="M88.4 143.4L91.3 141.3L88.2 143.8L85.3 145.9z" fill="#000000"/>
<path d="M94.4 138.8L97.3 136.8L94.2 139.3L91.3 141.3z" fill="#000000"/>
<path d="M112.5 126.1L115.4 124.3L112.3 126.7L109.4 128.4z" fill="#000000"/>
<path d="M118.5 122.1L121.5 120.5L118.3 122.8L115.4 124.3z" fill="#000000"/>
<path d="M142.9 107.8L145.8 106.6L142.7 108.6L139.7 109.8z" fill="#000000"/>
<path d="M149 104.6L152 103.5L148.8 105.4L145.8 106.6z" fill="#000000"/>
<path d="M179.7 91.3L182.7 90.5L179.5 92L176.5 92.8z" fill="#000000"/>
<path d="M210.6 82.1L213.6 81.7L210.4 82.7L207.4 83.1z" fill="#000000"/>
<path d="M216.8 80.8L219.8 80.5L216.6 81.4L213.6 81.7z" fill="#000000"/>
<path d="M241.5 77.4L244.6 77.3L241.4 77.7L238.4 77.8z" fill="#000000"/>
<path d="M247.7 77L250.7 76.9L247.6 77.2L244.6 77.3z" fill="#000000"/>
<path d="M266.3 76.9L269.3 77L266.2 76.9L263.1 76.8z" fill="#000000"/>
<path d="M272.5 77.3L275.5 77.4L272.3 77.1L269.3 77z" fill="#000000"/>
<path d="M155.1 101.6L158.1 100.6L154.9 102.4L152 103.5z" fill="#000000"/>
<path d="M161.2 98.8L164.2 97.8L161.1 99.6L158.1 100.6z" fill="#000000"/>
<path d="M167.4 96.1L170.4 95.2L167.2 96.9L164.2 97.8z" fill="#000000"/>
<path d="M173.5 93.6L176.5 92.8L173.4 94.4L170.4 95.2z" fill="#000000"/>
<path d="M185.9 89.1L188.9 88.4L185.7 89.8L182.7 90.5z" fill="#000000"/>
<path d="M192 87.1L195 86.5L191.9 87.8L188.9 88.4z" fill="#000000"/>
<path d="M198.2 85.3L201.2 84.7L198 86L195 86.5z" fill="#000000"/>
<path d="M204.4 83.6L207.4 83.1L204.2 84.3L201.2 84.7z" fill="#000000"/>
<path d="M100.4 134.4L103.3 132.5L100.2 134.9L97.3 136.8z" fill="#000000"/>
<path d="M106.4 130.2L109.4 128.4L106.2 130.7L103.3 132.5z" fill="#000000"/>
<path d="M124.6 118.3L127.5 116.8L124.4 119L121.5 120.5z" fill="#000000"/>
<path d="M130.7 114.6L133.6 113.2L130.5 115.4L127.5 116.8z" fill="#000000"/>
<path d="M136.8 111.1L139.7 109.8L136.6 111.9L133.6 113.2z" fill="#000000"/>
<path d="M223 79.7L226 79.4L222.8 80.2L219.8 80.5z" fill="#000000"/>
<path d="M229.1 78.7L232.2 78.5L229 79.2L226 79.4z" fill="#000000"/>
<path d="M235.3 78L238.4 77.8L235.2 78.4L232.2 78.5z" fill="#000000"/>
<path d="M253.9 76.8L256.9 76.8L253.8 76.9L250.7 76.9z" fill="#000000"/>
<path d="M260.1 76.8L263.1 76.8L260 76.8L256.9 76.8z" fill="#000000"/>
<path d="M91.3 141.3L94.2 139.3L91.1 141.8L88.2 143.8z" fill="#000000"/>
<path d="M269.3 77L272.3 77.1L269.2 77L266.2 76.9z" fill="#000000"/>
<path d="M85.3 145.9L88.2 143.8L85.1 146.3L82.2 148.4z" fill="#000000"/>
<path d="M97.3 136.8L100.2 134.9L97.1 137.4L94.2 139.3z" fill="#000000"/>
<path d="M109.4 128.4L112.3 126.7L109.2 129L106.2 130.7z" fill="#000000"/>
<path d="M115.4 124.3L118.3 122.8L115.2 125.1L112.3 126.7z" fill="#000000"/>
<path d="M121.5 120.5L124.4 119L121.3 121.3L118.3 122.8z" fill="#000000"/>
<path d="M127.5 116.8L130.5 115.4L127.4 117.6L124.4 119z" fill="#000000"/>
<path d="M139.7 109.8L142.7 108.6L139.6 110.7L136.6 111.9z" fill="#000000"/>
<path d="M145.8 106.6L148.8 105.4L145.7 107.5L142.7 108.6z" fill="#000000"/>
<path d="M152 103.5L154.9 102.4L151.8 104.4L148.8 105.4z" fill="#000000"/>
<path d="M158.1 100.6L161.1 99.6L157.9 101.5L154.9 102.4z" fill="#000000"/>
<path d="M164.2 97.8L167.2 96.9L164.1 98.7L161.1 99.6z" fill="#000000"/>
<path d="M170.4 95.2L173.4 94.4L170.2 96.1L167.2 96.9z" fill="#000000"/>
<path d="M176.5 92.8L179.5 92L176.4 93.7L173.4 94.4z" fill="#000000"/>
<path d="M182.7 90.5L185.7 89.8L182.5 91.4L179.5 92z" fill="#000000"/>
<path d="M188.9 88.4L191.9 87.8L188.7 89.3L185.7 89.8z" fill="#000000"/>
<path d="M195 86.5L198 86L194.9 87.3L191.9 87.8z" fill="#000000"/>
<path d="M201.2 84.7L204.2 84.3L201 85.5L198 86z" fill="#000000"/>
<path d="M207.4 83.1L210.4 82.7L207.2 83.9L204.2 84.3z" fill="#000000"/>
<path d="M213.6 81.7L216.6 81.4L213.4 82.4L210.4 82.7z" fill="#000000"/>
<path d="M219.8 80.5L222.8 80.2L219.6 81.1L216.6 81.4z" fill="#000000"/>
<path d="M232.2 78.5L235.2 78.4L232 79L229 79.2z" fill="#000000"/>
<path d="M238.4 77.8L241.4 77.7L238.2 78.3L235.2 78.4z" fill="#000000"/>
<path d="M244.6 77.3L247.6 77.2L244.4 77.7L241.4 77.7z" fill="#000000"/>
<path d="M250.7 76.9L253.8 76.9L250.6 77.2L247.6 77.2z" fill="#000000"/>
<path d="M263.1 76.8L266.2 76.9L263 76.9L260 76.8z" fill="#000000"/>
<path d="M275.5 77.4L278.5 77.6L275.4 77.3L272.3 77.1z" fill="#000000"/>
<path d="M103.3 132.5L106.2 130.7L103.1 133.2L100.2 134.9z" fill="#000000"/>
<path d="M133.6 113.2L136.6 111.9L133.5 114.1L130.5 115.4z" fill="#000000"/>
<path d="M226 79.4L229 79.2L225.8 80L222.8 80.2z" fill="#000000"/>
<path d="M256.9 76.8L260 76.8L256.8 77L253.8 76.9z" fill="#000000"/>
<path d="M88.2 143.8L91.1 141.8L88 144.3L85.1 146.3z" fill="#000000"/>
<path d="M94.2 139.3L97.1 137.4L94 139.9L91.1 141.8z" fill="#000000"/>
<path d="M124.4 119L127.4 117.6L124.2 119.9L121.3 121.3z" fill="#000000"/>
<path d="M235.2 78.4L238.2 78.3L235 78.9L232 79z" fill="#000000"/>
<path d="M266.2 76.9L269.2 77L266 77L263 76.9z" fill="#000000"/>
<path d="M272.3 77.1L275.4 77.3L272.2 77.2L269.2 77z" fill="#000000"/>
<path d="M154.9 102.4L157.9 101.5L154.8 103.4L151.8 104.4z" fill="#000000"/>
<path d="M161.1 99.6L164.1 98.7L160.9 100.6L157.9 101.5z" fill="#000000"/>
<path d="M167.2 96.9L170.2 96.1L167 97.9L164.1 98.7z" fill="#000000"/>
<path d="M173.4 94.4L176.4 93.7L173.2 95.4L170.2 96.1z" fill="#000000"/>
<path d="M185.7 89.8L188.7 89.3L185.5 90.8L182.5 91.4z" fill="#000000"/>
<path d="M191.9 87.8L194.9 87.3L191.7 88.8L188.7 89.3z" fill="#000000"/>
<path d="M198 86L201 85.5L197.9 86.9L194.9 87.3z" fill="#000000"/>
<path d="M204.2 84.3L207.2 83.9L204.1 85.1L201 85.5z" fill="#000000"/>
<path d="M82.2 148.4L85.1 146.3L82 148.9L79.1 151z" fill="#000000"/>
<path d="M100.2 134.9L103.1 133.2L100 135.6L97.1 137.4z" fill="#000000"/>
<path d="M106.2 130.7L109.2 129L106.1 131.5L103.1 133.2z" fill="#000000"/>
<path d="M112.3 126.7L115.2 125.1L112.1 127.5L109.2 129z" fill="#000000"/>
<path d="M118.3 122.8L121.3 121.3L118.2 123.6L115.2 125.1z" fill="#000000"/>
<path d="M130.5 115.4L133.5 114.1L130.3 116.3L127.4 117.6z" fill="#000000"/>
<path d="M136.6 111.9L139.6 110.7L136.4 112.9L133.5 114.1z" fill="#000000"/>
<path d="M142.7 108.6L145.7 107.5L142.5 109.6L139.6 110.7z" fill="#000000"/>
<path d="M148.8 105.4L151.8 104.4L148.6 106.4L145.7 107.5z" fill="#000000"/>
<path d="M179.5 92L182.5 91.4L179.4 93L176.4 93.7z" fill="#000000"/>
<path d="M210.4 82.7L213.4 82.4L210.2 83.6L207.2 83.9z" fill="#000000"/>
<path d="M216.6 81.4L219.6 81.1L216.4 82.1L213.4 82.4z" fill="#000000"/>
<path d="M222.8 80.2L225.8 80L222.6 80.9L219.6 81.1z" fill="#000000"/>
<path d="M229 79.2L232 79L228.8 79.8L225.8 80z" fill="#000000"/>
<path d="M241.4 77.7L244.4 77.7L241.2 78.2L238.2 78.3z" fill="#000000"/>
<path d="M247.6 77.2L250.6 77.2L247.4 77.7L244.4 77.7z" fill="#000000"/>
<path d="M253.8 76.9L256.8 77L253.6 77.3L250.6 77.2z" fill="#000000"/>
<path d="M260 76.8L263 76.9L259.8 77.1L256.8 77z" fill="#000000"/>
<path d="M278.5 77.6L281.5 77.8L278.4 77.5L275.4 77.3z" fill="#000000"/>
<path d="M85.1 146.3L88 144.3L84.9 146.9L82 148.9z" fill="#000000"/>
<path d="M91.1 141.8L94 139.9L90.9 142.5L88 144.3z" fill="#000000"/>
<path d="M97.1 137.4L100 135.6L96.9 138.1L94 139.9z" fill="#000000"/>
<path d="M103.1 133.2L106.1 131.5L103 134L100 135.6z" fill="#000000"/>
<path d="M121.3 121.3L124.2 119.9L121.1 122.2L118.2 123.6z" fill="#000000"/>
<path d="M127.4 117.6L130.3 116.3L127.2 118.6L124.2 119.9z" fill="#000000"/>
<path d="M133.5 114.1L136.4 112.9L133.3 115.1L130.3 116.3z" fill="#000000"/>
<path d="M157.9 101.5L160.9 100.6L157.8 102.6L154.8 103.4z" fill="#000000"/>
<path d="M164.1 98.7L167 97.9L163.9 99.8L160.9 100.6z" fill="#000000"/>
<path d="M170.2 96.1L173.2 95.4L170 97.2L167 97.9z" fill="#000000"/>
<path d="M188.7 89.3L191.7 88.8L188.5 90.3L185.5 90.8z" fill="#000000"/>
<path d="M194.9 87.3L197.9 86.9L194.7 88.3L191.7 88.8z" fill="#000000"/>
<path d="M201 85.5L204.1 85.1L200.9 86.5L197.9 86.9z" fill="#000000"/>
<path d="M225.8 80L228.8 79.8L225.6 80.8L222.6 80.9z" fill="#000000"/>
<path d="M232 79L235 78.9L231.8 79.8L228.8 79.8z" fill="#000000"/>
<path d="M238.2 78.3L241.2 78.2L238 78.9L235 78.9z" fill="#000000"/>
<path d="M256.8 77L259.8 77.1L256.6 77.4L253.6 77.3z" fill="#000000"/>
<path d="M263 76.9L266 77L262.8 77.2L259.8 77.1z" fill="#000000"/>
<path d="M269.2 77L272.2 77.2L269 77.2L266 77z" fill="#000000"/>
<path d="M275.4 77.3L278.4 77.5L275.2 77.4L272.2 77.2z" fill="#000000"/>
<path d="M151.8 104.4L154.8 103.4L151.6 105.5L148.6 106.4z" fill="#000000"/>
<path d="M176.4 93.7L179.4 93L176.2 94.8L173.2 95.4z" fill="#000000"/>
<path d="M182.5 91.4L185.5 90.8L182.4 92.5L179.4 93z" fill="#000000"/>
<path d="M207.2 83.9L210.2 83.6L207.1 84.8L204.1 85.1z" fill="#000000"/>
<path d="M79.1 151L82 148.9L78.9 151.5L76 153.6z" fill="#000000"/>
<path d="M109.2 129L112.1 127.5L109 129.9L106.1 131.5z" fill="#000000"/>
<path d="M115.2 125.1L118.2 123.6L115 126L112.1 127.5z" fill="#000000"/>
<path d="M139.6 110.7L142.5 109.6L139.4 111.8L136.4 112.9z" fill="#000000"/>
<path d="M145.7 107.5L148.6 106.4L145.5 108.5L142.5 109.6z" fill="#000000"/>
<path d="M213.4 82.4L216.4 82.1L213.3 83.3L210.2 83.6z" fill="#000000"/>
<path d="M219.6 81.1L222.6 80.9L219.4 82L216.4 82.1z" fill="#000000"/>
<path d="M244.4 77.7L247.4 77.7L244.2 78.2L241.2 78.2z" fill="#000000"/>
<path d="M250.6 77.2L253.6 77.3L250.4 77.7L247.4 77.7z" fill="#000000"/>
<path d="M281.5 77.8L284.6 78L281.4 77.8L278.4 77.5z" fill="#000000"/>
<path d="M100 135.6L103 134L99.8 136.5L96.9 138.1z" fill="#000000"/>
<path d="M130.3 116.3L133.3 115.1L130.2 117.4L127.2 118.6z" fill="#000000"/>
<path d="M228.8 79.8L231.8 79.8L228.6 80.7L225.6 80.8z" fill="#000000"/>
<path d="M259.8 77.1L262.8 77.2L259.6 77.5L256.6 77.4z" fill="#000000"/>
<path d="M160.9 100.6L163.9 99.8L160.7 101.8L157.8 102.6z" fill="#000000"/>
<path d="M167 97.9L170 97.2L166.9 99.1L163.9 99.8z" fill="#000000"/>
<path d="M191.7 88.8L194.7 88.3L191.5 89.9L188.5 90.3z" fill="#000000"/>
<path d="M197.9 86.9L200.9 86.5L197.7 88L194.7 88.3z" fill="#000000"/>
<path d="M76 153.6L78.9 151.5L75.8 154.2L73 156.2z" fill="#000000"/>
<path d="M82 148.9L84.9 146.9L81.8 149.5L78.9 151.5z" fill="#000000"/>
<path d="M88 144.3L90.9 142.5L87.8 145.1L84.9 146.9z" fill="#000000"/>
<path d="M94 139.9L96.9 138.1L93.8 140.7L90.9 142.5z" fill="#000000"/>
<path d="M106.1 131.5L109 129.9L105.9 132.4L103 134z" fill="#000000"/>
<path d="M118.2 123.6L121.1 122.2L118 124.6L115 126z" fill="#000000"/>
<path d="M124.2 119.9L127.2 118.6L124.1 121L121.1 122.2z" fill="#000000"/>
<path d="M136.4 112.9L139.4 111.8L136.2 114L133.3 115.1z" fill="#000000"/>
<path d="M154.8 103.4L157.8 102.6L154.6 104.6L151.6 105.5z" fill="#000000"/>
<path d="M173.2 95.4L176.2 94.8L173 96.6L170 97.2z" fill="#000000"/>
<path d="M179.4 93L182.4 92.5L179.2 94.2L176.2 94.8z" fill="#000000"/>
<path d="M185.5 90.8L188.5 90.3L185.4 92L182.4 92.5z" fill="#000000"/>
<path d="M204.1 85.1L207.1 84.8L203.9 86.2L200.9 86.5z" fill="#000000"/>
<path d="M222.6 80.9L225.6 80.8L222.5 81.8L219.4 82z" fill="#000000"/>
<path d="M235 78.9L238 78.9L234.8 79.7L231.8 79.8z" fill="#000000"/>
<path d="M241.2 78.2L244.2 78.2L241 78.9L238 78.9z" fill="#000000"/>
<path d="M253.6 77.3L256.6 77.4L253.4 77.8L250.4 77.7z" fill="#000000"/>
<path d="M266 77L269 77.2L265.8 77.4L262.8 77.2z" fill="#000000"/>
<path d="M272.2 77.2L275.2 77.4L272 77.5L269 77.2z" fill="#000000"/>
<path d="M278.4 77.5L281.4 77.8L278.2 77.7L275.2 77.4z" fill="#000000"/>
<path d="M284.6 78L287.6 78.3L284.4 78.1L281.4 77.8z" fill="#000000"/>
<path d="M148.6 106.4L151.6 105.5L148.5 107.6L145.5 108.5z" fill="#000000"/>
<path d="M210.2 83.6L213.3 83.3L210.1 84.6L207.1 84.8z" fill="#000000"/>
<path d="M112.1 127.5L115 126L111.9 128.5L109 129.9z" fill="#000000"/>
<path d="M142.5 109.6L145.5 108.5L142.4 110.7L139.4 111.8z" fill="#000000"/>
<path d="M216.4 82.1L219.4 82L216.3 83.1L213.3 83.3z" fill="#000000"/>
<path d="M247.4 77.7L250.4 77.7L247.2 78.3L244.2 78.2z" fill="#000000"/>
<path d="M73 156.2L75.8 154.2L72.8 156.8L69.9 158.9z" fill="#000000"/>
<path d="M78.9 151.5L81.8 149.5L78.7 152.2L75.8 154.2z" fill="#000000"/>
<path d="M96.9 138.1L99.8 136.5L96.7 139.1L93.8 140.7z" fill="#000000"/>
<path d="M103 134L105.9 132.4L102.8 135L99.8 136.5z" fill="#000000"/>
<path d="M127.2 118.6L130.2 117.4L127 119.8L124.1 121z" fill="#000000"/>
<path d="M133.3 115.1L136.2 114L133.1 116.3L130.2 117.4z" fill="#000000"/>
<path d="M163.9 99.8L166.9 99.1L163.7 101.1L160.7 101.8z" fill="#000000"/>
<path d="M194.7 88.3L197.7 88L194.5 89.5L191.5 89.9z" fill="#000000"/>
<path d="M225.6 80.8L228.6 80.7L225.5 81.8L222.5 81.8z" fill="#000000"/>
<path d="M231.8 79.8L234.8 79.7L231.7 80.7L228.6 80.7z" fill="#000000"/>
<path d="M256.6 77.4L259.6 77.5L256.5 78L253.4 77.8z" fill="#000000"/>
<path d="M262.8 77.2L265.8 77.4L262.6 77.7L259.6 77.5z" fill="#000000"/>
<path d="M281.4 77.8L284.4 78.1L281.2 78L278.2 77.7z" fill="#000000"/>
<path d="M287.6 78.3L290.6 78.6L287.4 78.4L284.4 78.1z" fill="#000000"/>
<path d="M157.8 102.6L160.7 101.8L157.6 103.9L154.6 104.6z" fill="#000000"/>
<path d="M170 97.2L173 96.6L169.9 98.5L166.9 99.1z" fill="#000000"/>
<path d="M176.2 94.8L179.2 94.2L176 96.1L173 96.6z" fill="#000000"/>
<path d="M182.4 92.5L185.4 92L182.2 93.7L179.2 94.2z" fill="#000000"/>
<path d="M188.5 90.3L191.5 89.9L188.4 91.6L185.4 92z" fill="#000000"/>
<path d="M200.9 86.5L203.9 86.2L200.7 87.7L197.7 88z" fill="#000000"/>
<path d="M84.9 146.9L87.8 145.1L84.7 147.7L81.8 149.5z" fill="#000000"/>
<path d="M90.9 142.5L93.8 140.7L90.7 143.3L87.8 145.1z" fill="#000000"/>
<path d="M109 129.9L111.9 128.5L108.8 131L105.9 132.4z" fill="#000000"/>
<path d="M115 126L118 124.6L114.9 127.1L111.9 128.5z" fill="#000000"/>
<path d="M121.1 122.2L124.1 121L120.9 123.4L118 124.6z" fill="#000000"/>
<path d="M139.4 111.8L142.4 110.7L139.2 113L136.2 114z" fill="#000000"/>
<path d="M151.6 105.5L154.6 104.6L151.4 106.8L148.5 107.6z" fill="#000000"/>
<path d="M207.1 84.8L210.1 84.6L206.9 86L203.9 86.2z" fill="#000000"/>
<path d="M219.4 82L222.5 81.8L219.3 83L216.3 83.1z" fill="#000000"/>
<path d="M238 78.9L241 78.9L237.9 79.8L234.8 79.7z" fill="#000000"/>
<path d="M244.2 78.2L247.2 78.3L244.1 79L241 78.9z" fill="#000000"/>
<path d="M250.4 77.7L253.4 77.8L250.3 78.4L247.2 78.3z" fill="#000000"/>
<path d="M269 77.2L272 77.5L268.8 77.6L265.8 77.4z" fill="#000000"/>
<path d="M275.2 77.4L278.2 77.7L275 77.7L272 77.5z" fill="#000000"/>
<path d="M145.5 108.5L148.5 107.6L145.3 109.8L142.4 110.7z" fill="#000000"/>
<path d="M213.3 83.3L216.3 83.1L213.1 84.4L210.1 84.6z" fill="#000000"/>
<path d="M75.8 154.2L78.7 152.2L75.7 154.9L72.8 156.8z" fill="#000000"/>
<path d="M284.4 78.1L287.4 78.4L284.2 78.3L281.2 78z" fill="#000000"/>
<path d="M69.9 158.9L72.8 156.8L69.7 159.5L66.8 161.6z" fill="#000000"/>
<path d="M81.8 149.5L84.7 147.7L81.6 150.4L78.7 152.2z" fill="#000000"/>
<path d="M93.8 140.7L96.7 139.1L93.6 141.7L90.7 143.3z" fill="#000000"/>
<path d="M99.8 136.5L102.8 135L99.7 137.5L96.7 139.1z" fill="#000000"/>
<path d="M105.9 132.4L108.8 131L105.7 133.5L102.8 135z" fill="#000000"/>
<path d="M111.9 128.5L114.9 127.1L111.8 129.6L108.8 131z" fill="#000000"/>
<path d="M124.1 121L127 119.8L123.9 122.2L120.9 123.4z" fill="#000000"/>
<path d="M130.2 117.4L133.1 116.3L130 118.7L127 119.8z" fill="#000000"/>
<path d="M136.2 114L139.2 113L136.1 115.3L133.1 116.3z" fill="#000000"/>
<path d="M160.7 101.8L163.7 101.1L160.6 103.2L157.6 103.9z" fill="#000000"/>
<path d="M166.9 99.1L169.9 98.5L166.7 100.5L163.7 101.1z" fill="#000000"/>
<path d="M173 96.6L176 96.1L172.9 98L169.9 98.5z" fill="#000000"/>
<path d="M179.2 94.2L182.2 93.7L179 95.6L176 96.1z" fill="#000000"/>
<path d="M185.4 92L188.4 91.6L185.2 93.3L182.2 93.7z" fill="#000000"/>
<path d="M191.5 89.9L194.5 89.5L191.4 91.2L188.4 91.6z" fill="#000000"/>
<path d="M197.7 88L200.7 87.7L197.5 89.3L194.5 89.5z" fill="#000000"/>
<path d="M222.5 81.8L225.5 81.8L222.3 83L219.3 83z" fill="#000000"/>
<path d="M228.6 80.7L231.7 80.7L228.5 81.8L225.5 81.8z" fill="#000000"/>
<path d="M234.8 79.7L237.9 79.8L234.7 80.7L231.7 80.7z" fill="#000000"/>
<path d="M247.2 78.3L250.3 78.4L247.1 79.2L244.1 79z" fill="#000000"/>
<path d="M253.4 77.8L256.5 78L253.3 78.6L250.3 78.4z" fill="#000000"/>
<path d="M259.6 77.5L262.6 77.7L259.5 78.2L256.5 78z" fill="#000000"/>
<path d="M265.8 77.4L268.8 77.6L265.7 78L262.6 77.7z" fill="#000000"/>
<path d="M278.2 77.7L281.2 78L278.1 78L275 77.7z" fill="#000000"/>
<path d="M290.6 78.6L293.6 79L290.4 78.8L287.4 78.4z" fill="#000000"/>
<path d="M142.4 110.7L145.3 109.8L142.2 112.1L139.2 113z" fill="#000000"/>
<path d="M154.6 104.6L157.6 103.9L154.4 106L151.4 106.8z" fill="#000000"/>
<path d="M203.9 86.2L206.9 86L203.7 87.5L200.7 87.7z" fill="#000000"/>
<path d="M216.3 83.1L219.3 83L216.1 84.3L213.1 84.4z" fill="#000000"/>
<path d="M87.8 145.1L90.7 143.3L87.6 146L84.7 147.7z" fill="#000000"/>
<path d="M118 124.6L120.9 123.4L117.8 125.9L114.9 127.1z" fill="#000000"/>
<path d="M148.5 107.6L151.4 106.8L148.3 109L145.3 109.8z" fill="#000000"/>
<path d="M210.1 84.6L213.1 84.4L209.9 85.8L206.9 86z" fill="#000000"/>
<path d="M241 78.9L244.1 79L240.9 79.9L237.9 79.8z" fill="#000000"/>
<path d="M272 77.5L275 77.7L271.9 77.9L268.8 77.6z" fill="#000000"/>
<path d="M72.8 156.8L75.7 154.9L72.6 157.6L69.7 159.5z" fill="#000000"/>
<path d="M78.7 152.2L81.6 150.4L78.6 153.1L75.7 154.9z" fill="#000000"/>
<path d="M108.8 131L111.8 129.6L108.6 132.2L105.7 133.5z" fill="#000000"/>
<path d="M250.3 78.4L253.3 78.6L250.1 79.3L247.1 79.2z" fill="#000000"/>
<path d="M281.2 78L284.2 78.3L281.1 78.4L278.1 78z" fill="#000000"/>
<path d="M287.4 78.4L290.4 78.8L287.3 78.7L284.2 78.3z" fill="#000000"/>
<path d="M139.2 113L142.2 112.1L139 114.4L136.1 115.3z" fill="#000000"/>
<path d="M169.9 98.5L172.9 98L169.7 100L166.7 100.5z" fill="#050102"/>
<path d="M176 96.1L179 95.6L175.8 97.5L172.9 98z" fill="#090203"/>
<path d="M182.2 93.7L185.2 93.3L182 95.2L179 95.6z" fill="#0b0204"/>
<path d="M188.4 91.6L191.4 91.2L188.2 93L185.2 93.3z" fill="#0b0204"/>
<path d="M219.3 83L222.3 83L219.1 84.3L216.1 84.3z" fill="#000000"/>
<path d="M66.8 161.6L69.7 159.5L66.6 162.2L63.7 164.3z" fill="#000000"/>
<path d="M84.7 147.7L87.6 146L84.5 148.6L81.6 150.4z" fill="#000000"/>
<path d="M90.7 143.3L93.6 141.7L90.5 144.3L87.6 146z" fill="#000000"/>
<path d="M96.7 139.1L99.7 137.5L96.6 140.2L93.6 141.7z" fill="#000000"/>
<path d="M102.8 135L105.7 133.5L102.6 136.1L99.7 137.5z" fill="#000000"/>
<path d="M114.9 127.1L117.8 125.9L114.7 128.4L111.8 129.6z" fill="#000000"/>
<path d="M120.9 123.4L123.9 122.2L120.8 124.7L117.8 125.9z" fill="#000000"/>
<path d="M127 119.8L130 118.7L126.8 121.2L123.9 122.2z" fill="#000000"/>
<path d="M133.1 116.3L136.1 115.3L132.9 117.7L130 118.7z" fill="#000000"/>
<path d="M145.3 109.8L148.3 109L145.2 111.3L142.2 112.1z" fill="#000000"/>
<path d="M157.6 103.9L160.6 103.2L157.4 105.4L154.4 106z" fill="#000000"/>
<path d="M163.7 101.1L166.7 100.5L163.5 102.6L160.6 103.2z" fill="#000000"/>
<path d="M194.5 89.5L197.5 89.3L194.4 91L191.4 91.2z" fill="#090203"/>
<path d="M200.7 87.7L203.7 87.5L200.5 89.1L197.5 89.3z" fill="#040101"/>
<path d="M213.1 84.4L216.1 84.3L212.9 85.7L209.9 85.8z" fill="#000000"/>
<path d="M225.5 81.8L228.5 81.8L225.3 83L222.3 83z" fill="#000000"/>
<path d="M231.7 80.7L234.7 80.7L231.5 81.8L228.5 81.8z" fill="#000000"/>
<path d="M237.9 79.8L240.9 79.9L237.7 80.8L234.7 80.7z" fill="#000000"/>
<path d="M244.1 79L247.1 79.2L243.9 80L240.9 79.9z" fill="#000000"/>
<path d="M256.5 78L259.5 78.2L256.3 78.8L253.3 78.6z" fill="#000000"/>
<path d="M262.6 77.7L265.7 78L262.5 78.5L259.5 78.2z" fill="#000000"/>
<path d="M268.8 77.6L271.9 77.9L268.7 78.3L265.7 78z" fill="#000000"/>
<path d="M275 77.7L278.1 78L274.9 78.2L271.9 77.9z" fill="#000000"/>
<path d="M293.6 79L296.6 79.4L293.4 79.2L290.4 78.8z" fill="#000000"/>
<path d="M151.4 106.8L154.4 106L151.3 108.3L148.3 109z" fill="#000000"/>
<path d="M206.9 86L209.9 85.8L206.7 87.3L203.7 87.5z" fill="#000000"/>
<path d="M69.7 159.5L72.6 157.6L69.5 160.3L66.6 162.2z" fill="#000000"/>
<path d="M75.7 154.9L78.6 153.1L75.5 155.8L72.6 157.6z" fill="#000000"/>
<path d="M81.6 150.4L84.5 148.6L81.5 151.4L78.6 153.1z" fill="#000000"/>
<path d="M87.6 146L90.5 144.3L87.5 147L84.5 148.6z" fill="#000000"/>
<path d="M105.7 133.5L108.6 132.2L105.5 134.8L102.6 136.1z" fill="#000000"/>
<path d="M111.8 129.6L114.7 128.4L111.6 131L108.6 132.2z" fill="#000000"/>
<path d="M117.8 125.9L120.8 124.7L117.6 127.3L114.7 128.4z" fill="#000000"/>
<path d="M142.2 112.1L145.2 111.3L142 113.7L139 114.4z" fill="#000000"/>
<path d="M172.9 98L175.8 97.5L172.7 99.6L169.7 100z" fill="#26090e"/>
<path d="M179 95.6L182 95.2L178.8 97.2L175.8 97.5z" fill="#2a090f"/>
<path d="M185.2 93.3L188.2 93L185 94.9L182 95.2z" fill="#2b090f"/>
<path d="M216.1 84.3L219.1 84.3L215.9 85.7L212.9 85.7z" fill="#100305"/>
<path d="M240.9 79.9L243.9 80L240.7 81L237.7 80.8z" fill="#000000"/>
<path d="M247.1 79.2L250.1 79.3L246.9 80.2L243.9 80z" fill="#000000"/>
<path d="M253.3 78.6L256.3 78.8L253.1 79.6L250.1 79.3z" fill="#000000"/>
<path d="M271.9 77.9L274.9 78.2L271.7 78.6L268.7 78.3z" fill="#000000"/>
<path d="M278.1 78L281.1 78.4L277.9 78.6L274.9 78.2z" fill="#000000"/>
<path d="M284.2 78.3L287.3 78.7L284.1 78.8L281.1 78.4z" fill="#000000"/>
<path d="M290.4 78.8L293.4 79.2L290.3 79.1L287.3 78.7z" fill="#000000"/>
<path d="M136.1 115.3L139 114.4L135.9 116.9L132.9 117.7z" fill="#000000"/>
<path d="M148.3 109L151.3 108.3L148.1 110.6L145.2 111.3z" fill="#040102"/>
<path d="M166.7 100.5L169.7 100L166.5 102.1L163.5 102.6z" fill="#21080d"/>
<path d="M191.4 91.2L194.4 91L191.2 92.8L188.2 93z" fill="#2a090e"/>
<path d="M209.9 85.8L212.9 85.7L209.7 87.3L206.7 87.3z" fill="#1a0508"/>
<path d="M222.3 83L225.3 83L222.1 84.3L219.1 84.3z" fill="#030101"/>
<path d="M63.7 164.3L66.6 162.2L63.5 165L60.7 167z" fill="#000000"/>
<path d="M93.6 141.7L96.6 140.2L93.5 142.8L90.5 144.3z" fill="#000000"/>
<path d="M99.7 137.5L102.6 136.1L99.5 138.8L96.6 140.2z" fill="#000000"/>
<path d="M123.9 122.2L126.8 121.2L123.7 123.7L120.8 124.7z" fill="#000000"/>
<path d="M130 118.7L132.9 117.7L129.8 120.2L126.8 121.2z" fill="#000000"/>
<path d="M154.4 106L157.4 105.4L154.3 107.6L151.3 108.3z" fill="#100507"/>
<path d="M160.6 103.2L163.5 102.6L160.4 104.8L157.4 105.4z" fill="#1a070b"/>
<path d="M197.5 89.3L200.5 89.1L197.4 90.8L194.4 91z" fill="#27080d"/>
<path d="M203.7 87.5L206.7 87.3L203.5 89L200.5 89.1z" fill="#22070b"/>
<path d="M228.5 81.8L231.5 81.8L228.3 83.1L225.3 83z" fill="#000000"/>
<path d="M234.7 80.7L237.7 80.8L234.5 82L231.5 81.8z" fill="#000000"/>
<path d="M259.5 78.2L262.5 78.5L259.3 79.1L256.3 78.8z" fill="#000000"/>
<path d="M265.7 78L268.7 78.3L265.5 78.8L262.5 78.5z" fill="#000000"/>
<path d="M296.6 79.4L299.6 79.8L296.5 79.6L293.4 79.2z" fill="#000000"/>
<path d="M84.5 148.6L87.5 147L84.4 149.8L81.5 151.4z" fill="#000000"/>
<path d="M114.7 128.4L117.6 127.3L114.5 129.9L111.6 131z" fill="#000000"/>
<path d="M243.9 80L246.9 80.2L243.7 81.2L240.7 81z" fill="#000000"/>
<path d="M274.9 78.2L277.9 78.6L274.7 79L271.7 78.6z" fill="#000000"/>
<path d="M145.2 111.3L148.1 110.6L145 112.9L142 113.7z" fill="#1c090e"/>
<path d="M175.8 97.5L178.8 97.2L175.7 99.2L172.7 99.6z" fill="#47111a"/>
<path d="M182 95.2L185 94.9L181.8 96.9L178.8 97.2z" fill="#4a111a"/>
<path d="M212.9 85.7L215.9 85.7L212.7 87.3L209.7 87.3z" fill="#360a11"/>
<path d="M60.7 167L63.5 165L60.5 167.7L57.6 169.7z" fill="#000000"/>
<path d="M66.6 162.2L69.5 160.3L66.4 163.1L63.5 165z" fill="#000000"/>
<path d="M72.6 157.6L75.5 155.8L72.4 158.5L69.5 160.3z" fill="#000000"/>
<path d="M78.6 153.1L81.5 151.4L78.4 154.1L75.5 155.8z" fill="#000000"/>
<path d="M90.5 144.3L93.5 142.8L90.4 145.5L87.5 147z" fill="#000000"/>
<path d="M102.6 136.1L105.5 134.8L102.4 137.5L99.5 138.8z" fill="#000000"/>
<path d="M108.6 132.2L111.6 131L108.5 133.6L105.5 134.8z" fill="#000000"/>
<path d="M120.8 124.7L123.7 123.7L120.6 126.2L117.6 127.3z" fill="#000000"/>
<path d="M139 114.4L142 113.7L138.9 116.1L135.9 116.9z" fill="#0d0507"/>
<path d="M151.3 108.3L154.3 107.6L151.1 109.9L148.1 110.6z" fill="#290d13"/>
<path d="M169.7 100L172.7 99.6L169.5 101.7L166.5 102.1z" fill="#43101a"/>
<path d="M188.2 93L191.2 92.8L188 94.7L185 94.9z" fill="#4a101a"/>
<path d="M206.7 87.3L209.7 87.3L206.5 88.9L203.5 89z" fill="#3f0c14"/>
<path d="M219.1 84.3L222.1 84.3L218.9 85.7L215.9 85.7z" fill="#2c080d"/>
<path d="M237.7 80.8L240.7 81L237.5 82.1L234.5 82z" fill="#000000"/>
<path d="M250.1 79.3L253.1 79.6L249.9 80.5L246.9 80.2z" fill="#000000"/>
<path d="M256.3 78.8L259.3 79.1L256.1 79.9L253.1 79.6z" fill="#000000"/>
<path d="M268.7 78.3L271.7 78.6L268.5 79.1L265.5 78.8z" fill="#000000"/>
<path d="M281.1 78.4L284.1 78.8L280.9 79L277.9 78.6z" fill="#000000"/>
<path d="M287.3 78.7L290.3 79.1L287.1 79.2L284.1 78.8z" fill="#000000"/>
<path d="M293.4 79.2L296.5 79.6L293.3 79.5L290.3 79.1z" fill="#000000"/>
<path d="M299.6 79.8L302.6 80.2L299.5 80L296.5 79.6z" fill="#000000"/>
<path d="M132.9 117.7L135.9 116.9L132.8 119.3L129.8 120.2z" fill="#000000"/>
<path d="M163.5 102.6L166.5 102.1L163.4 104.3L160.4 104.8z" fill="#3c1019"/>
<path d="M194.4 91L197.4 90.8L194.2 92.6L191.2 92.8z" fill="#490f18"/>
<path d="M225.3 83L228.3 83.1L225.1 84.4L222.1 84.3z" fill="#1e0509"/>
<path d="M96.6 140.2L99.5 138.8L96.4 141.4L93.5 142.8z" fill="#000000"/>
<path d="M126.8 121.2L129.8 120.2L126.7 122.7L123.7 123.7z" fill="#000000"/>
<path d="M157.4 105.4L160.4 104.8L157.2 107.1L154.3 107.6z" fill="#340f17"/>
<path d="M200.5 89.1L203.5 89L200.4 90.7L197.4 90.8z" fill="#450e17"/>
<path d="M231.5 81.8L234.5 82L231.3 83.2L228.3 83.1z" fill="#0e0204"/>
<path d="M262.5 78.5L265.5 78.8L262.3 79.4L259.3 79.1z" fill="#000000"/>
<path d="M63.5 165L66.4 163.1L63.4 165.8L60.5 167.7z" fill="#000000"/>
<path d="M81.5 151.4L84.4 149.8L81.3 152.5L78.4 154.1z" fill="#000000"/>
<path d="M87.5 147L90.4 145.5L87.3 148.3L84.4 149.8z" fill="#000000"/>
<path d="M111.6 131L114.5 129.9L111.4 132.5L108.5 133.6z" fill="#000000"/>
<path d="M117.6 127.3L120.6 126.2L117.5 128.8L114.5 129.9z" fill="#000000"/>
<path d="M148.1 110.6L151.1 109.9L148 112.3L145 112.9z" fill="#411520"/>
<path d="M178.8 97.2L181.8 96.9L178.7 99L175.7 99.2z" fill="#671826"/>
<path d="M209.7 87.3L212.7 87.3L209.5 88.9L206.5 88.9z" fill="#5b121d"/>
<path d="M240.7 81L243.7 81.2L240.5 82.4L237.5 82.1z" fill="#140306"/>
<path d="M246.9 80.2L249.9 80.5L246.7 81.5L243.7 81.2z" fill="#000000"/>
<path d="M271.7 78.6L274.7 79L271.5 79.5L268.5 79.1z" fill="#000000"/>
<path d="M277.9 78.6L280.9 79L277.7 79.4L274.7 79z" fill="#000000"/>
<path d="M296.5 79.6L299.5 80L296.3 80L293.3 79.5z" fill="#000000"/>
<path d="M142 113.7L145 112.9L141.8 115.4L138.9 116.1z" fill="#33111a"/>
<path d="M172.7 99.6L175.7 99.2L172.5 101.4L169.5 101.7z" fill="#631825"/>
<path d="M185 94.9L188 94.7L184.8 96.7L181.8 96.9z" fill="#691725"/>
<path d="M215.9 85.7L218.9 85.7L215.7 87.3L212.7 87.3z" fill="#520f19"/>
<path d="M69.5 160.3L72.4 158.5L69.3 161.3L66.4 163.1z" fill="#000000"/>
<path d="M75.5 155.8L78.4 154.1L75.3 156.8L72.4 158.5z" fill="#000000"/>
<path d="M93.5 142.8L96.4 141.4L93.3 144.2L90.4 145.5z" fill="#000000"/>
<path d="M99.5 138.8L102.4 137.5L99.3 140.2L96.4 141.4z" fill="#000000"/>
<path d="M105.5 134.8L108.5 133.6L105.4 136.3L102.4 137.5z" fill="#000000"/>
<path d="M123.7 123.7L126.7 122.7L123.5 125.3L120.6 126.2z" fill="#000000"/>
<path d="M135.9 116.9L138.9 116.1L135.7 118.6L132.8 119.3z" fill="#230d13"/>
<path d="M154.3 107.6L157.2 107.1L154.1 109.4L151.1 109.9z" fill="#4c1723"/>
<path d="M166.5 102.1L169.5 101.7L166.4 103.9L163.4 104.3z" fill="#5e1826"/>
<path d="M191.2 92.8L194.2 92.6L191 94.5L188 94.7z" fill="#691624"/>
<path d="M203.5 89L206.5 88.9L203.4 90.6L200.4 90.7z" fill="#621420"/>
<path d="M222.1 84.3L225.1 84.4L221.9 85.9L218.9 85.7z" fill="#460d15"/>
<path d="M234.5 82L237.5 82.1L234.3 83.4L231.3 83.2z" fill="#27070b"/>
<path d="M253.1 79.6L256.1 79.9L252.9 80.8L249.9 80.5z" fill="#000000"/>
<path d="M259.3 79.1L262.3 79.4L259.1 80.2L256.1 79.9z" fill="#000000"/>
<path d="M265.5 78.8L268.5 79.1L265.3 79.8L262.3 79.4z" fill="#000000"/>
<path d="M284.1 78.8L287.1 79.2L283.9 79.4L280.9 79z" fill="#000000"/>
<path d="M290.3 79.1L293.3 79.5L290.1 79.6L287.1 79.2z" fill="#000000"/>
<path d="M129.8 120.2L132.8 119.3L129.6 121.9L126.7 122.7z" fill="#11070a"/>
<path d="M160.4 104.8L163.4 104.3L160.2 106.6L157.2 107.1z" fill="#561825"/>
<path d="M197.4 90.8L200.4 90.7L197.2 92.5L194.2 92.6z" fill="#661522"/>
<path d="M228.3 83.1L231.3 83.2L228.1 84.5L225.1 84.4z" fill="#380a11"/>
<path d="M66.4 163.1L69.3 161.3L66.2 164.1L63.4 165.8z" fill="#000000"/>
<path d="M78.4 154.1L81.3 152.5L78.2 155.3L75.3 156.8z" fill="#000000"/>
<path d="M84.4 149.8L87.3 148.3L84.2 151L81.3 152.5z" fill="#000000"/>
<path d="M90.4 145.5L93.3 144.2L90.2 146.9L87.3 148.3z" fill="#000000"/>
<path d="M96.4 141.4L99.3 140.2L96.2 142.9L93.3 144.2z" fill="#000000"/>
<path d="M108.5 133.6L111.4 132.5L108.3 135.2L105.4 136.3z" fill="#000000"/>
<path d="M114.5 129.9L117.5 128.8L114.3 131.5L111.4 132.5z" fill="#000000"/>
<path d="M120.6 126.2L123.5 125.3L120.4 127.9L117.5 128.8z" fill="#10070a"/>
<path d="M145 112.9L148 112.3L144.8 114.8L141.8 115.4z" fill="#581d2d"/>
<path d="M151.1 109.9L154.1 109.4L150.9 111.8L148 112.3z" fill="#641f30"/>
<path d="M175.7 99.2L178.7 99L175.5 101.1L172.5 101.4z" fill="#831f31"/>
<path d="M181.8 96.9L184.8 96.7L181.7 98.8L178.7 99z" fill="#861f31"/>
<path d="M206.5 88.9L209.5 88.9L206.4 90.7L203.4 90.6z" fill="#7e1929"/>
<path d="M212.7 87.3L215.7 87.3L212.5 89L209.5 88.9z" fill="#761725"/>
<path d="M237.5 82.1L240.5 82.4L237.3 83.6L234.3 83.4z" fill="#400b13"/>
<path d="M243.7 81.2L246.7 81.5L243.5 82.6L240.5 82.4z" fill="#2b080d"/>
<path d="M249.9 80.5L252.9 80.8L249.7 81.8L246.7 81.5z" fill="#140306"/>
<path d="M262.3 79.4L265.3 79.8L262.1 80.6L259.1 80.2z" fill="#000000"/>
<path d="M268.5 79.1L271.5 79.5L268.3 80.2L265.3 79.8z" fill="#000000"/>
<path d="M274.7 79L277.7 79.4L274.5 79.9L271.5 79.5z" fill="#000000"/>
<path d="M280.9 79L283.9 79.4L280.7 79.8L277.7 79.4z" fill="#000000"/>
<path d="M293.3 79.5L296.3 80L293.1 80.1L290.1 79.6z" fill="#000000"/>
<path d="M126.7 122.7L129.6 121.9L126.5 124.5L123.5 125.3z" fill="#250f16"/>
<path d="M138.9 116.1L141.8 115.4L138.7 117.9L135.7 118.6z" fill="#491a27"/>
<path d="M157.2 107.1L160.2 106.6L157.1 109L154.1 109.4z" fill="#6f2032"/>
<path d="M169.5 101.7L172.5 101.4L169.3 103.6L166.4 103.9z" fill="#7e2032"/>
<path d="M188 94.7L191 94.5L187.8 96.5L184.8 96.7z" fill="#871e30"/>
<path d="M200.4 90.7L203.4 90.6L200.2 92.5L197.2 92.5z" fill="#831b2b"/>
<path d="M218.9 85.7L221.9 85.9L218.7 87.4L215.7 87.3z" fill="#6d1421"/>
<path d="M231.3 83.2L234.3 83.4L231.1 84.7L228.1 84.5z" fill="#510e18"/>
<path d="M72.4 158.5L75.3 156.8L72.2 159.6L69.3 161.3z" fill="#000000"/>
<path d="M102.4 137.5L105.4 136.3L102.2 139L99.3 140.2z" fill="#000000"/>
<path d="M132.8 119.3L135.7 118.6L132.6 121.1L129.6 121.9z" fill="#381520"/>
<path d="M163.4 104.3L166.4 103.9L163.2 106.2L160.2 106.6z" fill="#782133"/>
<path d="M194.2 92.6L197.2 92.5L194 94.4L191 94.5z" fill="#861c2e"/>
<path d="M225.1 84.4L228.1 84.5L224.9 86L221.9 85.9z" fill="#60111d"/>
<path d="M256.1 79.9L259.1 80.2L255.9 81.1L252.9 80.8z" fill="#000000"/>
<path d="M287.1 79.2L290.1 79.6L286.9 79.9L283.9 79.4z" fill="#000000"/>
<path d="M93.3 144.2L96.2 142.9L93.1 145.7L90.2 146.9z" fill="#000000"/>
<path d="M265.3 79.8L268.3 80.2L265.1 81L262.1 80.6z" fill="#000000"/>
<path d="M123.5 125.3L126.5 124.5L123.4 127.1L120.4 127.9z" fill="#381723"/>
<path d="M154.1 109.4L157.1 109L153.9 111.4L150.9 111.8z" fill="#87293f"/>
<path d="M203.4 90.6L206.4 90.7L203.2 92.5L200.2 92.5z" fill="#9f2034"/>
<path d="M234.3 83.4L237.3 83.6L234.1 85L231.1 84.7z" fill="#6a131f"/>
<path d="M69.3 161.3L72.2 159.6L69.1 162.4L66.2 164.1z" fill="#000000"/>
<path d="M75.3 156.8L78.2 155.3L75.1 158.1L72.2 159.6z" fill="#000000"/>
<path d="M81.3 152.5L84.2 151L81.1 153.8L78.2 155.3z" fill="#000000"/>
<path d="M87.3 148.3L90.2 146.9L87.1 149.7L84.2 151z" fill="#000000"/>
<path d="M99.3 140.2L102.2 139L99.1 141.7L96.2 142.9z" fill="#000000"/>
<path d="M105.4 136.3L108.3 135.2L105.2 137.9L102.2 139z" fill="#000000"/>
<path d="M111.4 132.5L114.3 131.5L111.2 134.2L108.3 135.2z" fill="#090406"/>
<path d="M117.5 128.8L120.4 127.9L117.3 130.6L114.3 131.5z" fill="#210f16"/>
<path d="M129.6 121.9L132.6 121.1L129.5 123.7L126.5 124.5z" fill="#4c1e2d"/>
<path d="M141.8 115.4L144.8 114.8L141.7 117.3L138.7 117.9z" fill="#6e263a"/>
<path d="M148 112.3L150.9 111.8L147.8 114.3L144.8 114.8z" fill="#7b283d"/>
<path d="M160.2 106.6L163.2 106.2L160 108.6L157.1 109z" fill="#912940"/>
<path d="M172.5 101.4L175.5 101.1L172.3 103.4L169.3 103.6z" fill="#9e273d"/>
<path d="M178.7 99L181.7 98.8L178.5 100.9L175.5 101.1z" fill="#a2263c"/>
<path d="M184.8 96.7L187.8 96.5L184.6 98.6L181.7 98.8z" fill="#a5253b"/>
<path d="M197.2 92.5L200.2 92.5L197 94.4L194 94.4z" fill="#a32237"/>
<path d="M209.5 88.9L212.5 89L209.4 90.8L206.4 90.7z" fill="#991e31"/>
<path d="M215.7 87.3L218.7 87.4L215.5 89.1L212.5 89z" fill="#911c2d"/>
<path d="M228.1 84.5L231.1 84.7L227.9 86.2L224.9 86z" fill="#791624"/>
<path d="M240.5 82.4L243.5 82.6L240.3 83.9L237.3 83.6z" fill="#570f19"/>
<path d="M246.7 81.5L249.7 81.8L246.5 83L243.5 82.6z" fill="#420c13"/>
<path d="M252.9 80.8L255.9 81.1L252.7 82.1L249.7 81.8z" fill="#2a070c"/>
<path d="M259.1 80.2L262.1 80.6L258.9 81.5L255.9 81.1z" fill="#0e0204"/>
<path d="M271.5 79.5L274.5 79.9L271.3 80.6L268.3 80.2z" fill="#000000"/>
<path d="M277.7 79.4L280.7 79.8L277.5 80.4L274.5 79.9z" fill="#000000"/>
<path d="M283.9 79.4L286.9 79.9L283.7 80.3L280.7 79.8z" fill="#000000"/>
<path d="M290.1 79.6L293.1 80.1L289.9 80.4L286.9 79.9z" fill="#000000"/>
<path d="M135.7 118.6L138.7 117.9L135.6 120.5L132.6 121.1z" fill="#5e2334"/>
<path d="M166.4 103.9L169.3 103.6L166.2 105.9L163.2 106.2z" fill="#99293f"/>
<path d="M191 94.5L194 94.4L190.8 96.5L187.8 96.5z" fill="#a52439"/>
<path d="M221.9 85.9L224.9 86L221.7 87.6L218.7 87.4z" fill="#861929"/>
<path d="M72.2 159.6L75.1 158.1L72 160.9L69.1 162.4z" fill="#000000"/>
<path d="M90.2 146.9L93.1 145.7L90 148.5L87.1 149.7z" fill="#000000"/>
<path d="M96.2 142.9L99.1 141.7L96 144.5L93.1 145.7z" fill="#000000"/>
<path d="M102.2 139L105.2 137.9L102.1 140.7L99.1 141.7z" fill="#000000"/>
<path d="M126.5 124.5L129.5 123.7L126.3 126.4L123.4 127.1z" fill="#5f273a"/>
<path d="M157.1 109L160 108.6L156.9 111L153.9 111.4z" fill="#a9334e"/>
<path d="M200.2 92.5L203.2 92.5L200 94.5L197 94.4z" fill="#bf2840"/>
<path d="M231.1 84.7L234.1 85L230.9 86.5L227.9 86.2z" fill="#921a2c"/>
<path d="M255.9 81.1L258.9 81.5L255.7 82.5L252.7 82.1z" fill="#3f0b12"/>
<path d="M262.1 80.6L265.1 81L261.9 81.9L258.9 81.5z" fill="#23060a"/>
<path d="M268.3 80.2L271.3 80.6L268.1 81.4L265.1 81z" fill="#030001"/>
<path d="M286.9 79.9L289.9 80.4L286.7 80.8L283.7 80.3z" fill="#000000"/>
<path d="M120.4 127.9L123.4 127.1L120.2 129.8L117.3 130.6z" fill="#4a2030"/>
<path d="M132.6 121.1L135.6 120.5L132.4 123.1L129.5 123.7z" fill="#722c42"/>
<path d="M150.9 111.8L153.9 111.4L150.8 113.9L147.8 114.3z" fill="#9e334d"/>
<path d="M163.2 106.2L166.2 105.9L163 108.3L160 108.6z" fill="#b2324d"/>
<path d="M194 94.4L197 94.4L193.8 96.5L190.8 96.5z" fill="#c22a43"/>
<path d="M206.4 90.7L209.4 90.8L206.2 92.6L203.2 92.5z" fill="#bb263d"/>
<path d="M224.9 86L227.9 86.2L224.7 87.8L221.7 87.6z" fill="#a01e31"/>
<path d="M237.3 83.6L240.3 83.9L237.1 85.3L234.1 85z" fill="#811726"/>
<path d="M78.2 155.3L81.1 153.8L78 156.6L75.1 158.1z" fill="#000000"/>
<path d="M84.2 151L87.1 149.7L84 152.5L81.1 153.8z" fill="#000000"/>
<path d="M108.3 135.2L111.2 134.2L108.1 137L105.2 137.9z" fill="#190c12"/>
<path d="M114.3 131.5L117.3 130.6L114.2 133.3L111.2 134.2z" fill="#321722"/>
<path d="M138.7 117.9L141.7 117.3L138.5 119.9L135.6 120.5z" fill="#832f48"/>
<path d="M144.8 114.8L147.8 114.3L144.6 116.8L141.7 117.3z" fill="#92324b"/>
<path d="M169.3 103.6L172.3 103.4L169.2 105.7L166.2 105.9z" fill="#b9304b"/>
<path d="M175.5 101.1L178.5 100.9L175.3 103.2L172.3 103.4z" fill="#bd2e48"/>
<path d="M181.7 98.8L184.6 98.6L181.5 100.8L178.5 100.9z" fill="#c12d47"/>
<path d="M187.8 96.5L190.8 96.5L187.6 98.6L184.6 98.6z" fill="#c22b45"/>
<path d="M212.5 89L215.5 89.1L212.4 90.9L209.4 90.8z" fill="#b42339"/>
<path d="M218.7 87.4L221.7 87.6L218.5 89.3L215.5 89.1z" fill="#ab2135"/>
<path d="M243.5 82.6L246.5 83L243.3 84.2L240.3 83.9z" fill="#6e1320"/>
<path d="M249.7 81.8L252.7 82.1L249.5 83.3L246.5 83z" fill="#590f1a"/>
<path d="M274.5 79.9L277.5 80.4L274.3 81.1L271.3 80.6z" fill="#000000"/>
<path d="M280.7 79.8L283.7 80.3L280.5 80.9L277.5 80.4z" fill="#000000"/>
<path d="M99.1 141.7L102.1 140.7L99 143.5L96 144.5z" fill="#0b0608"/>
<path d="M258.9 81.5L261.9 81.9L258.7 83L255.7 82.5z" fill="#540f18"/>
<path d="M129.5 123.7L132.4 123.1L129.3 125.8L126.3 126.4z" fill="#863550"/>
<path d="M160 108.6L163 108.3L159.9 110.8L156.9 111z" fill="#ca3b5b"/>
<path d="M197 94.4L200 94.5L196.8 96.6L193.8 96.5z" fill="#d52e4a"/>
<path d="M227.9 86.2L230.9 86.5L227.7 88.1L224.7 87.8z" fill="#b82238"/>
<path d="M75.1 158.1L78 156.6L74.9 159.5L72 160.9z" fill="#000000"/>
<path d="M87.1 149.7L90 148.5L86.9 151.3L84 152.5z" fill="#000000"/>
<path d="M93.1 145.7L96 144.5L92.9 147.3L90 148.5z" fill="#000000"/>
<path d="M105.2 137.9L108.1 137L105 139.7L102.1 140.7z" fill="#28141d"/>
<path d="M123.4 127.1L126.3 126.4L123.2 129.1L120.2 129.8z" fill="#713048"/>
<path d="M135.6 120.5L138.5 119.9L135.4 122.6L132.4 123.1z" fill="#983956"/>
<path d="M153.9 111.4L156.9 111L153.7 113.5L150.8 113.9z" fill="#c03c5c"/>
<path d="M166.2 105.9L169.2 105.7L166 108.1L163 108.3z" fill="#d23a59"/>
<path d="M190.8 96.5L193.8 96.5L190.6 98.6L187.6 98.6z" fill="#d7304c"/>
<path d="M203.2 92.5L206.2 92.6L203 94.6L200 94.5z" fill="#d42c47"/>
<path d="M221.7 87.6L224.7 87.8L221.5 89.6L218.5 89.3z" fill="#c4253d"/>
<path d="M234.1 85L237.1 85.3L233.9 86.8L230.9 86.5z" fill="#a91e33"/>
<path d="M252.7 82.1L255.7 82.5L252.5 83.7L249.5 83.3z" fill="#6e1320"/>
<path d="M265.1 81L268.1 81.4L264.9 82.4L261.9 81.9z" fill="#370a10"/>
<path d="M271.3 80.6L274.3 81.1L271.1 81.9L268.1 81.4z" fill="#160406"/>
<path d="M283.7 80.3L286.7 80.8L283.5 81.4L280.5 80.9z" fill="#000000"/>
<path d="M117.3 130.6L120.2 129.8L117.1 132.5L114.2 133.3z" fill="#5b293d"/>
<path d="M147.8 114.3L150.8 113.9L147.6 116.4L144.6 116.8z" fill="#b53c5c"/>
<path d="M209.4 90.8L212.4 90.9L209.2 92.8L206.2 92.6z" fill="#d32a45"/>
<path d="M240.3 83.9L243.3 84.2L240.1 85.7L237.1 85.3z" fill="#981b2d"/>
<path d="M81.1 153.8L84 152.5L80.9 155.3L78 156.6z" fill="#000000"/>
<path d="M111.2 134.2L114.2 133.3L111.1 136.1L108.1 137z" fill="#43202f"/>
<path d="M141.7 117.3L144.6 116.8L141.5 119.4L138.5 119.9z" fill="#a73b5a"/>
<path d="M172.3 103.4L175.3 103.2L172.1 105.6L169.2 105.7z" fill="#d83756"/>
<path d="M178.5 100.9L181.5 100.8L178.3 103.1L175.3 103.2z" fill="#da3452"/>
<path d="M184.6 98.6L187.6 98.6L184.5 100.8L181.5 100.8z" fill="#d8324f"/>
<path d="M215.5 89.1L218.5 89.3L215.4 91.1L212.4 90.9z" fill="#ce2842"/>
<path d="M246.5 83L249.5 83.3L246.3 84.6L243.3 84.2z" fill="#851727"/>
<path d="M277.5 80.4L280.5 80.9L277.3 81.6L274.3 81.1z" fill="#000000"/>
<path d="M96 144.5L99 143.5L95.9 146.3L92.9 147.3z" fill="#180d13"/>
<path d="M102.1 140.7L105 139.7L101.9 142.6L99 143.5z" fill="#361c29"/>
<path d="M132.4 123.1L135.4 122.6L132.2 125.3L129.3 125.8z" fill="#ab4364"/>
<path d="M163 108.3L166 108.1L162.8 110.6L159.9 110.8z" fill="#e04164"/>
<path d="M193.8 96.5L196.8 96.6L193.6 98.7L190.6 98.6z" fill="#d72f4c"/>
<path d="M224.7 87.8L227.7 88.1L224.5 89.9L221.5 89.6z" fill="#d12741"/>
<path d="M255.7 82.5L258.7 83L255.5 84.2L252.5 83.7z" fill="#831726"/>
<path d="M261.9 81.9L264.9 82.4L261.7 83.5L258.7 83z" fill="#68121e"/>
<path d="M126.3 126.4L129.3 125.8L126.2 128.5L123.2 129.1z" fill="#983f5e"/>
<path d="M156.9 111L159.9 110.8L156.7 113.3L153.7 113.5z" fill="#e1466b"/>
<path d="M200 94.5L203 94.6L199.8 96.7L196.8 96.6z" fill="#d52e49"/>
<path d="M230.9 86.5L233.9 86.8L230.7 88.5L227.7 88.1z" fill="#d0263f"/>
<path d="M78 156.6L80.9 155.3L77.8 158.2L74.9 159.5z" fill="#000000"/>
<path d="M84 152.5L86.9 151.3L83.8 154.1L80.9 155.3z" fill="#000000"/>
<path d="M90 148.5L92.9 147.3L89.8 150.2L86.9 151.3z" fill="#000000"/>
<path d="M108.1 137L111.1 136.1L107.9 138.9L105 139.7z" fill="#52283b"/>
<path d="M120.2 129.8L123.2 129.1L120.1 131.9L117.1 132.5z" fill="#833a55"/>
<path d="M138.5 119.9L141.5 119.4L138.3 122.1L135.4 122.6z" fill="#bc4569"/>
<path d="M150.8 113.9L153.7 113.5L150.6 116.1L147.6 116.4z" fill="#d7476c"/>
<path d="M169.2 105.7L172.1 105.6L169 108L166 108.1z" fill="#de3c5d"/>
<path d="M187.6 98.6L190.6 98.6L187.5 100.9L184.5 100.8z" fill="#d8314e"/>
<path d="M206.2 92.6L209.2 92.8L206 94.8L203 94.6z" fill="#d42c47"/>
<path d="M218.5 89.3L221.5 89.6L218.4 91.4L215.4 91.1z" fill="#d22943"/>
<path d="M237.1 85.3L240.1 85.7L236.9 87.2L233.9 86.8z" fill="#c02339"/>
<path d="M249.5 83.3L252.5 83.7L249.3 85.1L246.3 84.6z" fill="#9a1b2d"/>
<path d="M268.1 81.4L271.1 81.9L267.9 82.9L264.9 82.4z" fill="#4a0d15"/>
<path d="M274.3 81.1L277.3 81.6L274.2 82.4L271.1 81.9z" fill="#28070c"/>
<path d="M280.5 80.9L283.5 81.4L280.4 82.1L277.3 81.6z" fill="#020001"/>
<path d="M114.2 133.3L117.1 132.5L114 135.3L111.1 136.1z" fill="#6b324a"/>
<path d="M144.6 116.8L147.6 116.4L144.5 119.1L141.5 119.4z" fill="#ca476b"/>
<path d="M212.4 90.9L215.4 91.1L212.2 93L209.2 92.8z" fill="#d32a45"/>
<path d="M243.3 84.2L246.3 84.6L243.1 86.1L240.1 85.7z" fill="#ae1f33"/>
<path d="M175.3 103.2L178.3 103.1L175.1 105.5L172.1 105.6z" fill="#db3757"/>
<path d="M181.5 100.8L184.5 100.8L181.3 103.1L178.3 103.1z" fill="#da3351"/>
<path d="M80.9 155.3L83.8 154.1L80.7 157L77.8 158.2z" fill="#000000"/>
<path d="M92.9 147.3L95.9 146.3L92.8 149.2L89.8 150.2z" fill="#24131c"/>
<path d="M99 143.5L101.9 142.6L98.8 145.4L95.9 146.3z" fill="#442434"/>
<path d="M105 139.7L107.9 138.9L104.8 141.7L101.9 142.6z" fill="#613148"/>
<path d="M129.3 125.8L132.2 125.3L129.1 128L126.2 128.5z" fill="#be4d74"/>
<path d="M135.4 122.6L138.3 122.1L135.2 124.8L132.2 125.3z" fill="#d05078"/>
<path d="M159.9 110.8L162.8 110.6L159.7 113.1L156.7 113.3z" fill="#e14569"/>
<path d="M166 108.1L169 108L165.8 110.5L162.8 110.6z" fill="#df4062"/>
<path d="M190.6 98.6L193.6 98.7L190.4 101L187.5 100.9z" fill="#d8314e"/>
<path d="M196.8 96.6L199.8 96.7L196.6 98.9L193.6 98.7z" fill="#d62f4b"/>
<path d="M221.5 89.6L224.5 89.9L221.4 91.7L218.4 91.4z" fill="#d22943"/>
<path d="M227.7 88.1L230.7 88.5L227.5 90.2L224.5 89.9z" fill="#d12741"/>
<path d="M252.5 83.7L255.5 84.2L252.3 85.5L249.3 85.1z" fill="#af1f33"/>
<path d="M258.7 83L261.7 83.5L258.5 84.7L255.5 84.2z" fill="#961a2c"/>
<path d="M264.9 82.4L267.9 82.9L264.8 84L261.7 83.5z" fill="#7b1524"/>
<path d="M277.3 81.6L280.4 82.1L277.2 83L274.2 82.4z" fill="#390a11"/>
<path d="M111.1 136.1L114 135.3L110.9 138.2L107.9 138.9z" fill="#7b3c57"/>
<path d="M123.2 129.1L126.2 128.5L123 131.3L120.1 131.9z" fill="#aa496d"/>
<path d="M141.5 119.4L144.5 119.1L141.3 121.7L138.3 122.1z" fill="#df517a"/>
<path d="M153.7 113.5L156.7 113.3L153.5 115.9L150.6 116.1z" fill="#e44a70"/>
<path d="M203 94.6L206 94.8L202.8 96.9L199.8 96.7z" fill="#d52d49"/>
<path d="M215.4 91.1L218.4 91.4L215.2 93.3L212.2 93z" fill="#d32a44"/>
<path d="M233.9 86.8L236.9 87.2L233.7 88.9L230.7 88.5z" fill="#d0263f"/>
<path d="M246.3 84.6L249.3 85.1L246.1 86.5L243.1 86.1z" fill="#c42339"/>
<path d="M86.9 151.3L89.8 150.2L86.7 153L83.8 154.1z" fill="#020102"/>
<path d="M117.1 132.5L120.1 131.9L116.9 134.7L114 135.3z" fill="#934463"/>
<path d="M147.6 116.4L150.6 116.1L147.4 118.8L144.5 119.1z" fill="#e64f78"/>
<path d="M172.1 105.6L175.1 105.5L172 107.9L169 108z" fill="#dd3b5c"/>
<path d="M184.5 100.8L187.5 100.9L184.3 103.2L181.3 103.1z" fill="#d93351"/>
<path d="M209.2 92.8L212.2 93L209 95.1L206 94.8z" fill="#d42c47"/>
<path d="M240.1 85.7L243.1 86.1L239.9 87.6L236.9 87.2z" fill="#cf253e"/>
<path d="M271.1 81.9L274.2 82.4L271 83.4L267.9 82.9z" fill="#5c101b"/>
<path d="M178.3 103.1L181.3 103.1L178.1 105.5L175.1 105.5z" fill="#db3655"/>
<path d="M107.9 138.9L110.9 138.2L107.8 141L104.8 141.7z" fill="#8a4565"/>
<path d="M138.3 122.1L141.3 121.7L138.2 124.5L135.2 124.8z" fill="#eb5986"/>
<path d="M218.4 91.4L221.4 91.7L218.2 93.7L215.2 93.3z" fill="#d32a44"/>
<path d="M249.3 85.1L252.3 85.5L249.1 87L246.1 86.5z" fill="#ce243d"/>
<path d="M83.8 154.1L86.7 153L83.6 155.9L80.7 157z" fill="#0c070a"/>
<path d="M89.8 150.2L92.8 149.2L89.7 152L86.7 153z" fill="#2f1925"/>
<path d="M95.9 146.3L98.8 145.4L95.7 148.3L92.8 149.2z" fill="#502b3f"/>
<path d="M101.9 142.6L104.8 141.7L101.7 144.6L98.8 145.4z" fill="#6e3a54"/>
<path d="M114 135.3L116.9 134.7L113.8 137.5L110.9 138.2z" fill="#a34e72"/>
<path d="M126.2 128.5L129.1 128L126 130.8L123 131.3z" fill="#d05883"/>
<path d="M132.2 125.3L135.2 124.8L132.1 127.6L129.1 128z" fill="#e35b88"/>
<path d="M144.5 119.1L147.4 118.8L144.3 121.5L141.3 121.7z" fill="#e8537e"/>
<path d="M156.7 113.3L159.7 113.1L156.5 115.8L153.5 115.9z" fill="#e3486f"/>
<path d="M162.8 110.6L165.8 110.5L162.7 113L159.7 113.1z" fill="#e14368"/>
<path d="M169 108L172 107.9L168.8 110.5L165.8 110.5z" fill="#df3f61"/>
<path d="M187.5 100.9L190.4 101L187.3 103.3L184.3 103.2z" fill="#d93350"/>
<path d="M193.6 98.7L196.6 98.9L193.4 101.1L190.4 101z" fill="#d8314e"/>
<path d="M199.8 96.7L202.8 96.9L199.6 99.1L196.6 98.9z" fill="#d62f4b"/>
<path d="M212.2 93L215.2 93.3L212 95.4L209 95.1z" fill="#d42c46"/>
<path d="M224.5 89.9L227.5 90.2L224.4 92.1L221.4 91.7z" fill="#d22943"/>
<path d="M230.7 88.5L233.7 88.9L230.5 90.6L227.5 90.2z" fill="#d12741"/>
<path d="M243.1 86.1L246.1 86.5L242.9 88.1L239.9 87.6z" fill="#cf253e"/>
<path d="M255.5 84.2L258.5 84.7L255.3 86.1L252.3 85.5z" fill="#c22239"/>
<path d="M261.7 83.5L264.8 84L261.6 85.2L258.5 84.7z" fill="#a91e31"/>
<path d="M267.9 82.9L271 83.4L267.8 84.5L264.8 84z" fill="#8d1929"/>
<path d="M274.2 82.4L277.2 83L274 84L271 83.4z" fill="#6d1320"/>
<path d="M120.1 131.9L123 131.3L119.9 134.1L116.9 134.7z" fill="#ba547c"/>
<path d="M150.6 116.1L153.5 115.9L150.4 118.6L147.4 118.8z" fill="#e64e76"/>
<path d="M206 94.8L209 95.1L205.8 97.2L202.8 96.9z" fill="#d52d49"/>
<path d="M236.9 87.2L239.9 87.6L236.7 89.3L233.7 88.9z" fill="#d0263f"/>
<path d="M175.1 105.5L178.1 105.5L174.9 108L172 107.9z" fill="#dd3a5a"/>
<path d="M181.3 103.1L184.3 103.2L181.1 105.6L178.1 105.5z" fill="#db3654"/>
<path d="M86.7 153L89.7 152L86.6 154.9L83.6 155.9z" fill="#391e2d"/>
<path d="M110.9 138.2L113.8 137.5L110.7 140.4L107.8 141z" fill="#b35880"/>
<path d="M141.3 121.7L144.3 121.5L141.1 124.2L138.2 124.5z" fill="#ea5783"/>
<path d="M215.2 93.3L218.2 93.7L215 95.7L212 95.4z" fill="#d42c46"/>
<path d="M246.1 86.5L249.1 87L245.9 88.6L242.9 88.1z" fill="#cf253e"/>
<path d="M271 83.4L274 84L270.8 85.1L267.8 84.5z" fill="#9e1c2e"/>
<path d="M104.8 141.7L107.8 141L104.7 143.9L101.7 144.6z" fill="#984f72"/>
<path d="M116.9 134.7L119.9 134.1L116.8 137L113.8 137.5z" fill="#cb5f8b"/>
<path d="M135.2 124.8L138.2 124.5L135 127.3L132.1 127.6z" fill="#ec5d8b"/>
<path d="M147.4 118.8L150.4 118.6L147.2 121.3L144.3 121.5z" fill="#e7527c"/>
<path d="M209 95.1L212 95.4L208.8 97.5L205.8 97.2z" fill="#d52d49"/>
<path d="M221.4 91.7L224.4 92.1L221.2 94.1L218.2 93.7z" fill="#d32a44"/>
<path d="M239.9 87.6L242.9 88.1L239.7 89.8L236.7 89.3z" fill="#d0263f"/>
<path d="M252.3 85.5L255.3 86.1L252.1 87.5L249.1 87z" fill="#ce253d"/>
<path d="M92.8 149.2L95.7 148.3L92.6 151.2L89.7 152z" fill="#5b3148"/>
<path d="M98.8 145.4L101.7 144.6L98.6 147.5L95.7 148.3z" fill="#7c4361"/>
<path d="M123 131.3L126 130.8L122.8 133.6L119.9 134.1z" fill="#e16393"/>
<path d="M129.1 128L132.1 127.6L128.9 130.4L126 130.8z" fill="#ee6394"/>
<path d="M153.5 115.9L156.5 115.8L153.4 118.4L150.4 118.6z" fill="#e54c74"/>
<path d="M159.7 113.1L162.7 113L159.5 115.7L156.5 115.8z" fill="#e3476d"/>
<path d="M165.8 110.5L168.8 110.5L165.6 113L162.7 113z" fill="#e14266"/>
<path d="M172 107.9L174.9 108L171.8 110.5L168.8 110.5z" fill="#de3e60"/>
<path d="M178.1 105.5L181.1 105.6L177.9 108.1L174.9 108z" fill="#dc3959"/>
<path d="M184.3 103.2L187.3 103.3L184.1 105.7L181.1 105.6z" fill="#da3553"/>
<path d="M190.4 101L193.4 101.1L190.3 103.5L187.3 103.3z" fill="#d93250"/>
<path d="M196.6 98.9L199.6 99.1L196.4 101.4L193.4 101.1z" fill="#d7314d"/>
<path d="M202.8 96.9L205.8 97.2L202.6 99.4L199.6 99.1z" fill="#d62f4b"/>
<path d="M227.5 90.2L230.5 90.6L227.3 92.5L224.4 92.1z" fill="#d22943"/>
<path d="M233.7 88.9L236.7 89.3L233.5 91.1L230.5 90.6z" fill="#d12841"/>
<path d="M258.5 84.7L261.6 85.2L258.3 86.6L255.3 86.1z" fill="#ce243c"/>
<path d="M264.8 84L267.8 84.5L264.6 85.8L261.6 85.2z" fill="#bb2137"/>
<path d="M113.8 137.5L116.8 137L113.7 139.9L110.7 140.4z" fill="#da699a"/>
<path d="M144.3 121.5L147.2 121.3L144.1 124.1L141.1 124.2z" fill="#e95682"/>
<path d="M212 95.4L215 95.7L211.8 97.9L208.8 97.5z" fill="#d52d48"/>
<path d="M242.9 88.1L245.9 88.6L242.7 90.3L239.7 89.8z" fill="#d02740"/>
<path d="M89.7 152L92.6 151.2L89.5 154.1L86.6 154.9z" fill="#66364f"/>
<path d="M107.8 141L110.7 140.4L107.6 143.3L104.7 143.9z" fill="#c1628f"/>
<path d="M119.9 134.1L122.8 133.6L119.7 136.5L116.8 137z" fill="#f16fa3"/>
<path d="M138.2 124.5L141.1 124.2L138 127L135 127.3z" fill="#ec5c89"/>
<path d="M150.4 118.6L153.4 118.4L150.2 121.2L147.2 121.3z" fill="#e7517a"/>
<path d="M174.9 108L177.9 108.1L174.8 110.6L171.8 110.5z" fill="#de3d5f"/>
<path d="M181.1 105.6L184.1 105.7L180.9 108.2L177.9 108.1z" fill="#dc3959"/>
<path d="M205.8 97.2L208.8 97.5L205.6 99.7L202.6 99.4z" fill="#d62f4b"/>
<path d="M218.2 93.7L221.2 94.1L218 96.1L215 95.7z" fill="#d42c46"/>
<path d="M236.7 89.3L239.7 89.8L236.5 91.6L233.5 91.1z" fill="#d12841"/>
<path d="M249.1 87L252.1 87.5L248.9 89.2L245.9 88.6z" fill="#cf263e"/>
<path d="M267.8 84.5L270.8 85.1L267.6 86.4L264.6 85.8z" fill="#cd243c"/>
<path d="M95.7 148.3L98.6 147.5L95.5 150.4L92.6 151.2z" fill="#87496a"/>
<path d="M101.7 144.6L104.7 143.9L101.5 146.8L98.6 147.5z" fill="#a65880"/>
<path d="M126 130.8L128.9 130.4L125.8 133.3L122.8 133.6z" fill="#ef689a"/>
<path d="M132.1 127.6L135 127.3L131.9 130.1L128.9 130.4z" fill="#ee6292"/>
<path d="M156.5 115.8L159.5 115.7L156.3 118.4L153.4 118.4z" fill="#e54b73"/>
<path d="M162.7 113L165.6 113L162.5 115.7L159.5 115.7z" fill="#e2466c"/>
<path d="M168.8 110.5L171.8 110.5L168.6 113.1L165.6 113z" fill="#e04265"/>
<path d="M187.3 103.3L190.3 103.5L187.1 106L184.1 105.7z" fill="#da3553"/>
<path d="M193.4 101.1L196.4 101.4L193.2 103.8L190.3 103.5z" fill="#d93250"/>
<path d="M199.6 99.1L202.6 99.4L199.4 101.7L196.4 101.4z" fill="#d7304d"/>
<path d="M224.4 92.1L227.3 92.5L224.2 94.5L221.2 94.1z" fill="#d32a44"/>
<path d="M230.5 90.6L233.5 91.1L230.3 93L227.3 92.5z" fill="#d22943"/>
<path d="M255.3 86.1L258.3 86.6L255.1 88.1L252.1 87.5z" fill="#cf253d"/>
<path d="M261.6 85.2L264.6 85.8L261.3 87.2L258.3 86.6z" fill="#ce243c"/>
<path d="M110.7 140.4L113.7 139.9L110.5 142.8L107.6 143.3z" fill="#e974aa"/>
<path d="M116.8 137L119.7 136.5L116.6 139.4L113.7 139.9z" fill="#f373a9"/>
<path d="M141.1 124.2L144.1 124.1L141 126.9L138 127z" fill="#eb5a88"/>
<path d="M147.2 121.3L150.2 121.2L147.1 124L144.1 124.1z" fill="#e95580"/>
<path d="M177.9 108.1L180.9 108.2L177.7 110.8L174.8 110.6z" fill="#de3d5e"/>
<path d="M208.8 97.5L211.8 97.9L208.6 100.1L205.6 99.7z" fill="#d62f4b"/>
<path d="M215 95.7L218 96.1L214.8 98.3L211.8 97.9z" fill="#d52d48"/>
<path d="M239.7 89.8L242.7 90.3L239.5 92.2L236.5 91.6z" fill="#d12841"/>
<path d="M245.9 88.6L248.9 89.2L245.7 90.9L242.7 90.3z" fill="#d02740"/>
<path d="M92.6 151.2L95.5 150.4L92.4 153.3L89.5 154.1z" fill="#924e72"/>
<path d="M104.7 143.9L107.6 143.3L104.5 146.2L101.5 146.8z" fill="#cf6c9d"/>
<path d="M122.8 133.6L125.8 133.3L122.7 136.2L119.7 136.5z" fill="#f16da0"/>
<path d="M135 127.3L138 127L134.8 129.9L131.9 130.1z" fill="#ed608f"/>
<path d="M153.4 118.4L156.3 118.4L153.2 121.2L150.2 121.2z" fill="#e65079"/>
<path d="M171.8 110.5L174.8 110.6L171.6 113.3L168.6 113.1z" fill="#e04164"/>
<path d="M184.1 105.7L187.1 106L183.9 108.5L180.9 108.2z" fill="#dc3858"/>
<path d="M202.6 99.4L205.6 99.7L202.4 102.1L199.4 101.7z" fill="#d7304d"/>
<path d="M221.2 94.1L224.2 94.5L221 96.6L218 96.1z" fill="#d42c46"/>
<path d="M233.5 91.1L236.5 91.6L233.3 93.5L230.3 93z" fill="#d22943"/>
<path d="M252.1 87.5L255.1 88.1L251.9 89.8L248.9 89.2z" fill="#cf263f"/>
<path d="M264.6 85.8L267.6 86.4L264.3 87.8L261.3 87.2z" fill="#ce243c"/>
<path d="M98.6 147.5L101.5 146.8L98.4 149.7L95.5 150.4z" fill="#b2618c"/>
<path d="M128.9 130.4L131.9 130.1L128.8 133L125.8 133.3z" fill="#ef6698"/>
<path d="M159.5 115.7L162.5 115.7L159.3 118.4L156.3 118.4z" fill="#e44a71"/>
<path d="M165.6 113L168.6 113.1L165.4 115.8L162.5 115.7z" fill="#e2466b"/>
<path d="M190.3 103.5L193.2 103.8L190.1 106.2L187.1 106z" fill="#da3452"/>
<path d="M196.4 101.4L199.4 101.7L196.2 104.1L193.2 103.8z" fill="#d93250"/>
<path d="M227.3 92.5L230.3 93L227.1 95L224.2 94.5z" fill="#d32a45"/>
<path d="M258.3 86.6L261.3 87.2L258.1 88.7L255.1 88.1z" fill="#cf253d"/>
<path d="M95.5 150.4L98.4 149.7L95.3 152.7L92.4 153.3z" fill="#bd6694"/>
<path d="M107.6 143.3L110.5 142.8L107.4 145.7L104.5 146.2z" fill="#f67fb8"/>
<path d="M113.7 139.9L116.6 139.4L113.5 142.4L110.5 142.8z" fill="#f478af"/>
<path d="M119.7 136.5L122.7 136.2L119.5 139.1L116.6 139.4z" fill="#f272a7"/>
<path d="M125.8 133.3L128.8 133L125.6 135.9L122.7 136.2z" fill="#f06b9e"/>
<path d="M138 127L141 126.9L137.8 129.8L134.8 129.9z" fill="#ed5f8e"/>
<path d="M144.1 124.1L147.1 124L143.9 126.8L141 126.9z" fill="#eb5986"/>
<path d="M150.2 121.2L153.2 121.2L150 124L147.1 124z" fill="#e8547e"/>
<path d="M174.8 110.6L177.7 110.8L174.6 113.5L171.6 113.3z" fill="#e04063"/>
<path d="M180.9 108.2L183.9 108.5L180.7 111.1L177.7 110.8z" fill="#de3c5d"/>
<path d="M205.6 99.7L208.6 100.1L205.4 102.5L202.4 102.1z" fill="#d7304d"/>
<path d="M211.8 97.9L214.8 98.3L211.6 100.6L208.6 100.1z" fill="#d62f4b"/>
<path d="M218 96.1L221 96.6L217.8 98.8L214.8 98.3z" fill="#d52d49"/>
<path d="M230.3 93L233.3 93.5L230.1 95.6L227.1 95z" fill="#d32a45"/>
<path d="M236.5 91.6L239.5 92.2L236.3 94.1L233.3 93.5z" fill="#d22943"/>
<path d="M242.7 90.3L245.7 90.9L242.5 92.8L239.5 92.2z" fill="#d12841"/>
<path d="M248.9 89.2L251.9 89.8L248.7 91.5L245.7 90.9z" fill="#d02740"/>
<path d="M261.3 87.2L264.3 87.8L261.1 89.4L258.1 88.7z" fill="#cf253e"/>
<path d="M101.5 146.8L104.5 146.2L101.4 149.2L98.4 149.7z" fill="#dc77ac"/>
<path d="M131.9 130.1L134.8 129.9L131.7 132.8L128.8 133z" fill="#ee6596"/>
<path d="M156.3 118.4L159.3 118.4L156.2 121.2L153.2 121.2z" fill="#e64f77"/>
<path d="M168.6 113.1L171.6 113.3L168.4 116L165.4 115.8z" fill="#e2456a"/>
<path d="M187.1 106L190.1 106.2L186.9 108.8L183.9 108.5z" fill="#dc3858"/>
<path d="M199.4 101.7L202.4 102.1L199.2 104.5L196.2 104.1z" fill="#d9324f"/>
<path d="M224.2 94.5L227.1 95L223.9 97.1L221 96.6z" fill="#d42c47"/>
<path d="M255.1 88.1L258.1 88.7L254.9 90.4L251.9 89.8z" fill="#d0263f"/>
<path d="M162.5 115.7L165.4 115.8L162.3 118.6L159.3 118.4z" fill="#e44a70"/>
<path d="M193.2 103.8L196.2 104.1L193 106.6L190.1 106.2z" fill="#da3452"/>
<path d="M98.4 149.7L101.4 149.2L98.3 152.2L95.3 152.7z" fill="#e77db5"/>
<path d="M104.5 146.2L107.4 145.7L104.3 148.7L101.4 149.2z" fill="#f784bf"/>
<path d="M110.5 142.8L113.5 142.4L110.4 145.4L107.4 145.7z" fill="#f57db6"/>
<path d="M116.6 139.4L119.5 139.1L116.4 142.1L113.5 142.4z" fill="#f376ad"/>
<path d="M122.7 136.2L125.6 135.9L122.5 138.9L119.5 139.1z" fill="#f270a4"/>
<path d="M128.8 133L131.7 132.8L128.6 135.8L125.6 135.9z" fill="#f06a9c"/>
<path d="M134.8 129.9L137.8 129.8L134.7 132.7L131.7 132.8z" fill="#ee6394"/>
<path d="M141 126.9L143.9 126.8L140.8 129.7L137.8 129.8z" fill="#ec5e8c"/>
<path d="M147.1 124L150 124L146.9 126.9L143.9 126.8z" fill="#ea5884"/>
<path d="M153.2 121.2L156.2 121.2L153 124.1L150 124z" fill="#e8537d"/>
<path d="M171.6 113.3L174.6 113.5L171.4 116.2L168.4 116z" fill="#e14469"/>
<path d="M177.7 110.8L180.7 111.1L177.6 113.8L174.6 113.5z" fill="#df4063"/>
<path d="M183.9 108.5L186.9 108.8L183.7 111.4L180.7 111.1z" fill="#de3c5d"/>
<path d="M202.4 102.1L205.4 102.5L202.2 105L199.2 104.5z" fill="#d9324f"/>
<path d="M208.6 100.1L211.6 100.6L208.4 103L205.4 102.5z" fill="#d7304d"/>
<path d="M214.8 98.3L217.8 98.8L214.6 101.1L211.6 100.6z" fill="#d62f4b"/>
<path d="M221 96.6L223.9 97.1L220.8 99.4L217.8 98.8z" fill="#d52d49"/>
<path d="M227.1 95L230.1 95.6L226.9 97.7L223.9 97.1z" fill="#d42c47"/>
<path d="M233.3 93.5L236.3 94.1L233.1 96.2L230.1 95.6z" fill="#d32a45"/>
<path d="M239.5 92.2L242.5 92.8L239.3 94.7L236.3 94.1z" fill="#d22943"/>
<path d="M245.7 90.9L248.7 91.5L245.5 93.4L242.5 92.8z" fill="#d12842"/>
<path d="M251.9 89.8L254.9 90.4L251.7 92.2L248.7 91.5z" fill="#d02740"/>
<path d="M258.1 88.7L261.1 89.4L257.9 91L254.9 90.4z" fill="#d0263f"/>
<path d="M159.3 118.4L162.3 118.6L159.1 121.4L156.2 121.2z" fill="#e64e76"/>
<path d="M165.4 115.8L168.4 116L165.3 118.7L162.3 118.6z" fill="#e34970"/>
<path d="M190.1 106.2L193 106.6L189.9 109.2L186.9 108.8z" fill="#dc3857"/>
<path d="M196.2 104.1L199.2 104.5L196 107L193 106.6z" fill="#da3452"/>
<path d="M125.6 135.9L128.6 135.8L125.4 138.7L122.5 138.9z" fill="#f16ea2"/>
<path d="M230.1 95.6L233.1 96.2L229.9 98.3L226.9 97.7z" fill="#d42c47"/>
<path d="M101.4 149.2L104.3 148.7L101.2 151.7L98.3 152.2z" fill="#f886c3"/>
<path d="M107.4 145.7L110.4 145.4L107.2 148.4L104.3 148.7z" fill="#f782bc"/>
<path d="M113.5 142.4L116.4 142.1L113.3 145.1L110.4 145.4z" fill="#f57bb3"/>
<path d="M119.5 139.1L122.5 138.9L119.4 141.9L116.4 142.1z" fill="#f375ab"/>
<path d="M131.7 132.8L134.7 132.7L131.5 135.7L128.6 135.8z" fill="#ef689a"/>
<path d="M137.8 129.8L140.8 129.7L137.6 132.7L134.7 132.7z" fill="#ee6292"/>
<path d="M143.9 126.8L146.9 126.9L143.7 129.8L140.8 129.7z" fill="#ec5c8b"/>
<path d="M150 124L153 124.1L149.8 127L146.9 126.9z" fill="#ea5783"/>
<path d="M156.2 121.2L159.1 121.4L156 124.2L153 124.1z" fill="#e8527c"/>
<path d="M162.3 118.6L165.3 118.7L162.1 121.6L159.1 121.4z" fill="#e54d75"/>
<path d="M168.4 116L171.4 116.2L168.2 119L165.3 118.7z" fill="#e3496f"/>
<path d="M174.6 113.5L177.6 113.8L174.4 116.5L171.4 116.2z" fill="#e14469"/>
<path d="M180.7 111.1L183.7 111.4L180.5 114.1L177.6 113.8z" fill="#df4062"/>
<path d="M186.9 108.8L189.9 109.2L186.7 111.8L183.7 111.4z" fill="#dd3c5d"/>
<path d="M193 106.6L196 107L192.9 109.6L189.9 109.2z" fill="#dc3857"/>
<path d="M199.2 104.5L202.2 105L199 107.5L196 107z" fill="#da3452"/>
<path d="M205.4 102.5L208.4 103L205.2 105.5L202.2 105z" fill="#d9324f"/>
<path d="M211.6 100.6L214.6 101.1L211.4 103.5L208.4 103z" fill="#d7304d"/>
<path d="M217.8 98.8L220.8 99.4L217.6 101.7L214.6 101.1z" fill="#d62f4b"/>
<path d="M223.9 97.1L226.9 97.7L223.7 100L220.8 99.4z" fill="#d52d49"/>
<path d="M236.3 94.1L239.3 94.7L236.1 96.8L233.1 96.2z" fill="#d32b45"/>
<path d="M242.5 92.8L245.5 93.4L242.3 95.4L239.3 94.7z" fill="#d22a44"/>
<path d="M248.7 91.5L251.7 92.2L248.5 94.1L245.5 93.4z" fill="#d12842"/>
<path d="M254.9 90.4L257.9 91L254.7 92.8L251.7 92.2z" fill="#d12741"/>
<path d="M128.6 135.8L131.5 135.7L128.4 138.7L125.4 138.7z" fill="#f16da1"/>
<path d="M226.9 97.7L229.9 98.3L226.7 100.6L223.7 100z" fill="#d52e49"/>
<path d="M104.3 148.7L107.2 148.4L104.1 151.4L101.2 151.7z" fill="#f887c3"/>
<path d="M122.5 138.9L125.4 138.7L122.3 141.8L119.4 141.9z" fill="#f273a9"/>
<path d="M134.7 132.7L137.6 132.7L134.5 135.7L131.5 135.7z" fill="#ef6799"/>
<path d="M159.1 121.4L162.1 121.6L158.9 124.5L156 124.2z" fill="#e7527b"/>
<path d="M165.3 118.7L168.2 119L165.1 121.9L162.1 121.6z" fill="#e54d75"/>
<path d="M189.9 109.2L192.9 109.6L189.7 112.3L186.7 111.8z" fill="#dd3c5d"/>
<path d="M196 107L199 107.5L195.8 110.1L192.9 109.6z" fill="#dc3857"/>
<path d="M220.8 99.4L223.7 100L220.5 102.3L217.6 101.7z" fill="#d62f4b"/>
<path d="M233.1 96.2L236.1 96.8L232.9 99L229.9 98.3z" fill="#d42c47"/>
<path d="M251.7 92.2L254.7 92.8L251.5 94.8L248.5 94.1z" fill="#d22942"/>
<path d="M110.4 145.4L113.3 145.1L110.2 148.1L107.2 148.4z" fill="#f680ba"/>
<path d="M116.4 142.1L119.4 141.9L116.2 144.9L113.3 145.1z" fill="#f47ab1"/>
<path d="M140.8 129.7L143.7 129.8L140.6 132.8L137.6 132.7z" fill="#ed6191"/>
<path d="M146.9 126.9L149.8 127L146.7 129.9L143.7 129.8z" fill="#ec5c89"/>
<path d="M153 124.1L156 124.2L152.8 127.2L149.8 127z" fill="#ea5682"/>
<path d="M171.4 116.2L174.4 116.5L171.2 119.3L168.2 119z" fill="#e3486e"/>
<path d="M177.6 113.8L180.5 114.1L177.4 116.9L174.4 116.5z" fill="#e14468"/>
<path d="M183.7 111.4L186.7 111.8L183.5 114.6L180.5 114.1z" fill="#df4062"/>
<path d="M202.2 105L205.2 105.5L202 108L199 107.5z" fill="#da3452"/>
<path d="M208.4 103L211.4 103.5L208.2 106L205.2 105.5z" fill="#d93250"/>
<path d="M214.6 101.1L217.6 101.7L214.4 104.1L211.4 103.5z" fill="#d7314d"/>
<path d="M239.3 94.7L242.3 95.4L239.1 97.5L236.1 96.8z" fill="#d32b46"/>
<path d="M245.5 93.4L248.5 94.1L245.3 96.1L242.3 95.4z" fill="#d22a44"/>
<path d="M125.4 138.7L128.4 138.7L125.3 141.7L122.3 141.8z" fill="#f272a7"/>
<path d="M131.5 135.7L134.5 135.7L131.4 138.7L128.4 138.7z" fill="#f06c9f"/>
<path d="M162.1 121.6L165.1 121.9L161.9 124.8L158.9 124.5z" fill="#e7517b"/>
<path d="M192.9 109.6L195.8 110.1L192.7 112.8L189.7 112.3z" fill="#dd3c5d"/>
<path d="M223.7 100L226.7 100.6L223.5 103L220.5 102.3z" fill="#d62f4b"/>
<path d="M229.9 98.3L232.9 99L229.7 101.3L226.7 100.6z" fill="#d52e49"/>
<path d="M107.2 148.4L110.2 148.1L107.1 151.2L104.1 151.4z" fill="#f785c0"/>
<path d="M119.4 141.9L122.3 141.8L119.2 144.8L116.2 144.9z" fill="#f478af"/>
<path d="M137.6 132.7L140.6 132.8L137.4 135.8L134.5 135.7z" fill="#ef6697"/>
<path d="M156 124.2L158.9 124.5L155.8 127.4L152.8 127.2z" fill="#e95682"/>
<path d="M168.2 119L171.2 119.3L168 122.2L165.1 121.9z" fill="#e54c74"/>
<path d="M186.7 111.8L189.7 112.3L186.5 115L183.5 114.6z" fill="#df4062"/>
<path d="M199 107.5L202 108L198.8 110.7L195.8 110.1z" fill="#dc3857"/>
<path d="M217.6 101.7L220.5 102.3L217.3 104.8L214.4 104.1z" fill="#d8314e"/>
<path d="M236.1 96.8L239.1 97.5L235.9 99.7L232.9 99z" fill="#d42c48"/>
<path d="M248.5 94.1L251.5 94.8L248.3 96.8L245.3 96.1z" fill="#d32a44"/>
<path d="M113.3 145.1L116.2 144.9L113.1 147.9L110.2 148.1z" fill="#f67eb8"/>
<path d="M143.7 129.8L146.7 129.9L143.6 132.9L140.6 132.8z" fill="#ed6090"/>
<path d="M149.8 127L152.8 127.2L149.7 130.1L146.7 129.9z" fill="#ec5b88"/>
<path d="M174.4 116.5L177.4 116.9L174.2 119.8L171.2 119.3z" fill="#e3486e"/>
<path d="M180.5 114.1L183.5 114.6L180.3 117.4L177.4 116.9z" fill="#e14468"/>
<path d="M205.2 105.5L208.2 106L205 108.6L202 108z" fill="#da3452"/>
<path d="M211.4 103.5L214.4 104.1L211.2 106.6L208.2 106z" fill="#d93250"/>
<path d="M242.3 95.4L245.3 96.1L242.1 98.2L239.1 97.5z" fill="#d32b46"/>
<path d="M110.2 148.1L113.1 147.9L110 151L107.1 151.2z" fill="#f783be"/>
<path d="M122.3 141.8L125.3 141.7L122.1 144.8L119.2 144.8z" fill="#f377ad"/>
<path d="M128.4 138.7L131.4 138.7L128.2 141.8L125.3 141.7z" fill="#f271a6"/>
<path d="M134.5 135.7L137.4 135.8L134.3 138.9L131.4 138.7z" fill="#f06b9e"/>
<path d="M158.9 124.5L161.9 124.8L158.8 127.8L155.8 127.4z" fill="#e95681"/>
<path d="M165.1 121.9L168 122.2L164.9 125.2L161.9 124.8z" fill="#e7517a"/>
<path d="M189.7 112.3L192.7 112.8L189.5 115.6L186.5 115z" fill="#df4062"/>
<path d="M195.8 110.1L198.8 110.7L195.6 113.4L192.7 112.8z" fill="#dd3c5d"/>
<path d="M220.5 102.3L223.5 103L220.3 105.5L217.3 104.8z" fill="#d8314e"/>
<path d="M226.7 100.6L229.7 101.3L226.5 103.7L223.5 103z" fill="#d72f4c"/>
<path d="M232.9 99L235.9 99.7L232.7 102L229.7 101.3z" fill="#d62e4a"/>
<path d="M245.3 96.1L248.3 96.8L245.1 99L242.1 98.2z" fill="#d42c46"/>
<path d="M116.2 144.9L119.2 144.8L116.1 147.9L113.1 147.9z" fill="#f57db6"/>
<path d="M140.6 132.8L143.6 132.9L140.4 136L137.4 135.8z" fill="#ef6596"/>
<path d="M152.8 127.2L155.8 127.4L152.6 130.4L149.7 130.1z" fill="#eb5a88"/>
<path d="M171.2 119.3L174.2 119.8L171 122.7L168 122.2z" fill="#e54c74"/>
<path d="M183.5 114.6L186.5 115L183.3 117.9L180.3 117.4z" fill="#e14468"/>
<path d="M202 108L205 108.6L201.8 111.3L198.8 110.7z" fill="#dc3858"/>
<path d="M214.4 104.1L217.3 104.8L214.2 107.3L211.2 106.6z" fill="#d93350"/>
<path d="M239.1 97.5L242.1 98.2L238.9 100.4L235.9 99.7z" fill="#d52d48"/>
<path d="M146.7 129.9L149.7 130.1L146.5 133.2L143.6 132.9z" fill="#ed608f"/>
<path d="M177.4 116.9L180.3 117.4L177.2 120.2L174.2 119.8z" fill="#e3486e"/>
<path d="M208.2 106L211.2 106.6L208 109.3L205 108.6z" fill="#da3453"/>
<path d="M113.1 147.9L116.1 147.9L112.9 151L110 151z" fill="#f782bc"/>
<path d="M119.2 144.8L122.1 144.8L119 147.9L116.1 147.9z" fill="#f57cb4"/>
<path d="M125.3 141.7L128.2 141.8L125.1 144.9L122.1 144.8z" fill="#f376ac"/>
<path d="M131.4 138.7L134.3 138.9L131.2 141.9L128.2 141.8z" fill="#f270a4"/>
<path d="M137.4 135.8L140.4 136L137.3 139.1L134.3 138.9z" fill="#f06a9d"/>
<path d="M155.8 127.4L158.8 127.8L155.6 130.8L152.6 130.4z" fill="#eb5a87"/>
<path d="M161.9 124.8L164.9 125.2L161.7 128.2L158.8 127.8z" fill="#e95581"/>
<path d="M168 122.2L171 122.7L167.9 125.6L164.9 125.2z" fill="#e7517a"/>
<path d="M186.5 115L189.5 115.6L186.3 118.5L183.3 117.9z" fill="#e14468"/>
<path d="M192.7 112.8L195.6 113.4L192.4 116.2L189.5 115.6z" fill="#df4062"/>
<path d="M198.8 110.7L201.8 111.3L198.6 114L195.6 113.4z" fill="#de3c5d"/>
<path d="M217.3 104.8L220.3 105.5L217.1 108L214.2 107.3z" fill="#d93350"/>
<path d="M223.5 103L226.5 103.7L223.3 106.2L220.3 105.5z" fill="#d8314e"/>
<path d="M229.7 101.3L232.7 102L229.5 104.5L226.5 103.7z" fill="#d7304c"/>
<path d="M235.9 99.7L238.9 100.4L235.7 102.8L232.7 102z" fill="#d62e4a"/>
<path d="M242.1 98.2L245.1 99L241.9 101.2L238.9 100.4z" fill="#d52d48"/>
<path d="M143.6 132.9L146.5 133.2L143.4 136.2L140.4 136z" fill="#ee6595"/>
<path d="M149.7 130.1L152.6 130.4L149.5 133.5L146.5 133.2z" fill="#ed5f8e"/>
<path d="M174.2 119.8L177.2 120.2L174 123.2L171 122.7z" fill="#e54c74"/>
<path d="M180.3 117.4L183.3 117.9L180.1 120.8L177.2 120.2z" fill="#e3486e"/>
<path d="M205 108.6L208 109.3L204.8 112L201.8 111.3z" fill="#dc3858"/>
<path d="M211.2 106.6L214.2 107.3L211 110L208 109.3z" fill="#da3553"/>
<path d="M116.1 147.9L119 147.9L115.9 151L112.9 151z" fill="#f681bb"/>
<path d="M122.1 144.8L125.1 144.9L122 148L119 147.9z" fill="#f57bb3"/>
<path d="M128.2 141.8L131.2 141.9L128 145.1L125.1 144.9z" fill="#f375ab"/>
<path d="M134.3 138.9L137.3 139.1L134.1 142.2L131.2 141.9z" fill="#f16fa3"/>
<path d="M140.4 136L143.4 136.2L140.2 139.4L137.3 139.1z" fill="#f0699c"/>
<path d="M146.5 133.2L149.5 133.5L146.3 136.6L143.4 136.2z" fill="#ee6495"/>
<path d="M152.6 130.4L155.6 130.8L152.4 133.9L149.5 133.5z" fill="#ed5f8e"/>
<path d="M158.8 127.8L161.7 128.2L158.6 131.2L155.6 130.8z" fill="#eb5a87"/>
<path d="M164.9 125.2L167.9 125.6L164.7 128.7L161.7 128.2z" fill="#e95580"/>
<path d="M171 122.7L174 123.2L170.8 126.2L167.9 125.6z" fill="#e7517a"/>
<path d="M177.2 120.2L180.1 120.8L177 123.7L174 123.2z" fill="#e54c74"/>
<path d="M183.3 117.9L186.3 118.5L183.1 121.4L180.1 120.8z" fill="#e3486e"/>
<path d="M189.5 115.6L192.4 116.2L189.3 119.1L186.3 118.5z" fill="#e14468"/>
<path d="M195.6 113.4L198.6 114L195.4 116.9L192.4 116.2z" fill="#df4063"/>
<path d="M201.8 111.3L204.8 112L201.6 114.7L198.6 114z" fill="#de3c5e"/>
<path d="M208 109.3L211 110L207.8 112.7L204.8 112z" fill="#dc3959"/>
<path d="M214.2 107.3L217.1 108L213.9 110.7L211 110z" fill="#db3554"/>
<path d="M220.3 105.5L223.3 106.2L220.1 108.8L217.1 108z" fill="#d93351"/>
<path d="M226.5 103.7L229.5 104.5L226.3 107L223.3 106.2z" fill="#d8314f"/>
<path d="M232.7 102L235.7 102.8L232.5 105.2L229.5 104.5z" fill="#d7304d"/>
<path d="M238.9 100.4L241.9 101.2L238.7 103.6L235.7 102.8z" fill="#d62f4b"/>
<path d="M119 147.9L122 148L118.8 151.2L115.9 151z" fill="#f680b9"/>
<path d="M143.4 136.2L146.3 136.6L143.2 139.7L140.2 139.4z" fill="#f0699b"/>
<path d="M149.5 133.5L152.4 133.9L149.3 137L146.3 136.6z" fill="#ee6494"/>
<path d="M174 123.2L177 123.7L173.8 126.8L170.8 126.2z" fill="#e7517a"/>
<path d="M180.1 120.8L183.1 121.4L179.9 124.4L177 123.7z" fill="#e54c74"/>
<path d="M204.8 112L207.8 112.7L204.6 115.5L201.6 114.7z" fill="#de3d5e"/>
<path d="M211 110L213.9 110.7L210.7 113.4L207.8 112.7z" fill="#dc3959"/>
<path d="M235.7 102.8L238.7 103.6L235.5 106.1L232.5 105.2z" fill="#d7304d"/>
<path d="M125.1 144.9L128 145.1L124.9 148.2L122 148z" fill="#f47ab1"/>
<path d="M131.2 141.9L134.1 142.2L131 145.3L128 145.1z" fill="#f374aa"/>
<path d="M137.3 139.1L140.2 139.4L137.1 142.5L134.1 142.2z" fill="#f16ea2"/>
<path d="M155.6 130.8L158.6 131.2L155.4 134.4L152.4 133.9z" fill="#ed5e8d"/>
<path d="M161.7 128.2L164.7 128.7L161.5 131.8L158.6 131.2z" fill="#eb5a87"/>
<path d="M167.9 125.6L170.8 126.2L167.7 129.2L164.7 128.7z" fill="#e95580"/>
<path d="M186.3 118.5L189.3 119.1L186.1 122L183.1 121.4z" fill="#e3486e"/>
<path d="M192.4 116.2L195.4 116.9L192.2 119.8L189.3 119.1z" fill="#e14469"/>
<path d="M198.6 114L201.6 114.7L198.4 117.6L195.4 116.9z" fill="#e04063"/>
<path d="M217.1 108L220.1 108.8L216.9 111.5L213.9 110.7z" fill="#db3655"/>
<path d="M223.3 106.2L226.3 107L223.1 109.6L220.1 108.8z" fill="#da3351"/>
<path d="M229.5 104.5L232.5 105.2L229.3 107.8L226.3 107z" fill="#d8324f"/>
<path d="M146.3 136.6L149.3 137L146.1 140.2L143.2 139.7z" fill="#f0699b"/>
<path d="M177 123.7L179.9 124.4L176.8 127.4L173.8 126.8z" fill="#e7517a"/>
<path d="M207.8 112.7L210.7 113.4L207.5 116.3L204.6 115.5z" fill="#de3d5f"/>
<path d="M122 148L124.9 148.2L121.8 151.4L118.8 151.2z" fill="#f67fb8"/>
<path d="M128 145.1L131 145.3L127.9 148.5L124.9 148.2z" fill="#f479b0"/>
<path d="M134.1 142.2L137.1 142.5L133.9 145.7L131 145.3z" fill="#f373a9"/>
<path d="M140.2 139.4L143.2 139.7L140 142.9L137.1 142.5z" fill="#f16ea2"/>
<path d="M152.4 133.9L155.4 134.4L152.2 137.5L149.3 137z" fill="#ee6394"/>
<path d="M158.6 131.2L161.5 131.8L158.4 134.9L155.4 134.4z" fill="#ed5e8d"/>
<path d="M164.7 128.7L167.7 129.2L164.5 132.3L161.5 131.8z" fill="#eb5a87"/>
<path d="M170.8 126.2L173.8 126.8L170.6 129.9L167.7 129.2z" fill="#e95580"/>
<path d="M183.1 121.4L186.1 122L182.9 125.1L179.9 124.4z" fill="#e54d74"/>
<path d="M189.3 119.1L192.2 119.8L189.1 122.8L186.1 122z" fill="#e3496f"/>
<path d="M195.4 116.9L198.4 117.6L195.2 120.5L192.2 119.8z" fill="#e14569"/>
<path d="M201.6 114.7L204.6 115.5L201.4 118.4L198.4 117.6z" fill="#e04164"/>
<path d="M213.9 110.7L216.9 111.5L213.7 114.3L210.7 113.4z" fill="#dd3a5a"/>
<path d="M220.1 108.8L223.1 109.6L219.9 112.3L216.9 111.5z" fill="#db3756"/>
<path d="M226.3 107L229.3 107.8L226.1 110.5L223.1 109.6z" fill="#da3452"/>
<path d="M232.5 105.2L235.5 106.1L232.3 108.7L229.3 107.8z" fill="#d9324f"/>
<path d="M124.9 148.2L127.9 148.5L124.7 151.7L121.8 151.4z" fill="#f57eb7"/>
<path d="M137.1 142.5L140 142.9L136.9 146.1L133.9 145.7z" fill="#f273a8"/>
<path d="M143.2 139.7L146.1 140.2L143 143.4L140 142.9z" fill="#f16ea1"/>
<path d="M149.3 137L152.2 137.5L149.1 140.7L146.1 140.2z" fill="#ef689a"/>
<path d="M155.4 134.4L158.4 134.9L155.2 138.1L152.2 137.5z" fill="#ee6394"/>
<path d="M167.7 129.2L170.6 129.9L167.5 133L164.5 132.3z" fill="#eb5a87"/>
<path d="M173.8 126.8L176.8 127.4L173.6 130.5L170.6 129.9z" fill="#e95581"/>
<path d="M179.9 124.4L182.9 125.1L179.7 128.2L176.8 127.4z" fill="#e7517b"/>
<path d="M186.1 122L189.1 122.8L185.9 125.8L182.9 125.1z" fill="#e54d75"/>
<path d="M198.4 117.6L201.4 118.4L198.2 121.3L195.2 120.5z" fill="#e2456a"/>
<path d="M204.6 115.5L207.5 116.3L204.4 119.2L201.4 118.4z" fill="#e04165"/>
<path d="M210.7 113.4L213.7 114.3L210.5 117.1L207.5 116.3z" fill="#de3e60"/>
<path d="M216.9 111.5L219.9 112.3L216.7 115.1L213.7 114.3z" fill="#dd3a5b"/>
<path d="M229.3 107.8L232.3 108.7L229.1 111.3L226.1 110.5z" fill="#da3452"/>
<path d="M131 145.3L133.9 145.7L130.8 148.9L127.9 148.5z" fill="#f478b0"/>
<path d="M161.5 131.8L164.5 132.3L161.3 135.5L158.4 134.9z" fill="#ed5e8d"/>
<path d="M192.2 119.8L195.2 120.5L192 123.5L189.1 122.8z" fill="#e3496f"/>
<path d="M223.1 109.6L226.1 110.5L222.9 113.2L219.9 112.3z" fill="#db3756"/>
<path d="M140 142.9L143 143.4L139.8 146.6L136.9 146.1z" fill="#f273a8"/>
<path d="M146.1 140.2L149.1 140.7L145.9 143.9L143 143.4z" fill="#f16da1"/>
<path d="M152.2 137.5L155.2 138.1L152.1 141.3L149.1 140.7z" fill="#ef689a"/>
<path d="M170.6 129.9L173.6 130.5L170.4 133.7L167.5 133z" fill="#eb5a87"/>
<path d="M176.8 127.4L179.7 128.2L176.6 131.3L173.6 130.5z" fill="#e95681"/>
<path d="M182.9 125.1L185.9 125.8L182.7 128.9L179.7 128.2z" fill="#e7517b"/>
<path d="M201.4 118.4L204.4 119.2L201.2 122.2L198.2 121.3z" fill="#e2466b"/>
<path d="M207.5 116.3L210.5 117.1L207.3 120.1L204.4 119.2z" fill="#e04266"/>
<path d="M213.7 114.3L216.7 115.1L213.5 118L210.5 117.1z" fill="#df3f61"/>
<path d="M127.9 148.5L130.8 148.9L127.7 152.1L124.7 151.7z" fill="#f57eb6"/>
<path d="M133.9 145.7L136.9 146.1L133.8 149.4L130.8 148.9z" fill="#f478af"/>
<path d="M158.4 134.9L161.3 135.5L158.2 138.7L155.2 138.1z" fill="#ee6394"/>
<path d="M164.5 132.3L167.5 133L164.3 136.2L161.3 135.5z" fill="#ed5f8d"/>
<path d="M189.1 122.8L192 123.5L188.8 126.6L185.9 125.8z" fill="#e54d76"/>
<path d="M195.2 120.5L198.2 121.3L195 124.4L192 123.5z" fill="#e44a70"/>
<path d="M219.9 112.3L222.9 113.2L219.7 116L216.7 115.1z" fill="#dd3b5c"/>
<path d="M226.1 110.5L229.1 111.3L225.9 114.1L222.9 113.2z" fill="#dc3858"/>
<path d="M130.8 148.9L133.8 149.4L130.6 152.6L127.7 152.1z" fill="#f57db6"/>
<path d="M136.9 146.1L139.8 146.6L136.7 149.9L133.8 149.4z" fill="#f478af"/>
<path d="M143 143.4L145.9 143.9L142.8 147.2L139.8 146.6z" fill="#f273a8"/>
<path d="M149.1 140.7L152.1 141.3L148.9 144.6L145.9 143.9z" fill="#f16da1"/>
<path d="M155.2 138.1L158.2 138.7L155 142L152.1 141.3z" fill="#ef689b"/>
<path d="M161.3 135.5L164.3 136.2L161.1 139.4L158.2 138.7z" fill="#ee6494"/>
<path d="M167.5 133L170.4 133.7L167.3 136.9L164.3 136.2z" fill="#ed5f8e"/>
<path d="M173.6 130.5L176.6 131.3L173.4 134.5L170.4 133.7z" fill="#eb5a88"/>
<path d="M179.7 128.2L182.7 128.9L179.5 132.1L176.6 131.3z" fill="#e95682"/>
<path d="M185.9 125.8L188.8 126.6L185.7 129.8L182.7 128.9z" fill="#e7527c"/>
<path d="M192 123.5L195 124.4L191.8 127.5L188.8 126.6z" fill="#e64e76"/>
<path d="M198.2 121.3L201.2 122.2L198 125.3L195 124.4z" fill="#e44a71"/>
<path d="M204.4 119.2L207.3 120.1L204.1 123.1L201.2 122.2z" fill="#e2466c"/>
<path d="M210.5 117.1L213.5 118L210.3 121L207.3 120.1z" fill="#e14367"/>
<path d="M216.7 115.1L219.7 116L216.5 119L213.5 118z" fill="#df3f62"/>
<path d="M222.9 113.2L225.9 114.1L222.7 117L219.7 116z" fill="#de3c5d"/>
<path d="M133.8 149.4L136.7 149.9L133.6 153.2L130.6 152.6z" fill="#f57db6"/>
<path d="M158.2 138.7L161.1 139.4L158 142.7L155 142z" fill="#f0699b"/>
<path d="M164.3 136.2L167.3 136.9L164.1 140.2L161.1 139.4z" fill="#ee6494"/>
<path d="M188.8 126.6L191.8 127.5L188.6 130.7L185.7 129.8z" fill="#e8537d"/>
<path d="M195 124.4L198 125.3L194.8 128.4L191.8 127.5z" fill="#e64f77"/>
<path d="M219.7 116L222.7 117L219.4 119.9L216.5 119z" fill="#df4063"/>
<path d="M139.8 146.6L142.8 147.2L139.7 150.5L136.7 149.9z" fill="#f478af"/>
<path d="M145.9 143.9L148.9 144.6L145.8 147.9L142.8 147.2z" fill="#f273a8"/>
<path d="M152.1 141.3L155 142L151.9 145.3L148.9 144.6z" fill="#f16ea1"/>
<path d="M170.4 133.7L173.4 134.5L170.2 137.8L167.3 136.9z" fill="#ed5f8e"/>
<path d="M176.6 131.3L179.5 132.1L176.4 135.3L173.4 134.5z" fill="#eb5b88"/>
<path d="M182.7 128.9L185.7 129.8L182.5 133L179.5 132.1z" fill="#ea5782"/>
<path d="M201.2 122.2L204.1 123.1L200.9 126.2L198 125.3z" fill="#e44b72"/>
<path d="M207.3 120.1L210.3 121L207.1 124.1L204.1 123.1z" fill="#e3476d"/>
<path d="M213.5 118L216.5 119L213.3 122L210.3 121z" fill="#e14468"/>
<path d="M161.1 139.4L164.1 140.2L160.9 143.5L158 142.7z" fill="#f0699b"/>
<path d="M191.8 127.5L194.8 128.4L191.6 131.6L188.6 130.7z" fill="#e8537e"/>
<path d="M136.7 149.9L139.7 150.5L136.5 153.8L133.6 153.2z" fill="#f57db6"/>
<path d="M142.8 147.2L145.8 147.9L142.6 151.2L139.7 150.5z" fill="#f478af"/>
<path d="M148.9 144.6L151.9 145.3L148.7 148.6L145.8 147.9z" fill="#f273a8"/>
<path d="M155 142L158 142.7L154.8 146L151.9 145.3z" fill="#f16ea2"/>
<path d="M167.3 136.9L170.2 137.8L167.1 141.1L164.1 140.2z" fill="#ee6495"/>
<path d="M173.4 134.5L176.4 135.3L173.2 138.6L170.2 137.8z" fill="#ed608f"/>
<path d="M179.5 132.1L182.5 133L179.3 136.2L176.4 135.3z" fill="#ec5b89"/>
<path d="M185.7 129.8L188.6 130.7L185.5 133.9L182.5 133z" fill="#ea5783"/>
<path d="M198 125.3L200.9 126.2L197.8 129.4L194.8 128.4z" fill="#e64f78"/>
<path d="M204.1 123.1L207.1 124.1L203.9 127.2L200.9 126.2z" fill="#e54c73"/>
<path d="M210.3 121L213.3 122L210.1 125.1L207.1 124.1z" fill="#e3486e"/>
<path d="M216.5 119L219.4 119.9L216.2 123L213.3 122z" fill="#e14469"/>
<path d="M139.7 150.5L142.6 151.2L139.5 154.6L136.5 153.8z" fill="#f57db6"/>
<path d="M151.9 145.3L154.8 146L151.7 149.4L148.7 148.6z" fill="#f273a9"/>
<path d="M158 142.7L160.9 143.5L157.8 146.9L154.8 146z" fill="#f16ea2"/>
<path d="M164.1 140.2L167.1 141.1L163.9 144.4L160.9 143.5z" fill="#f0699c"/>
<path d="M170.2 137.8L173.2 138.6L170 142L167.1 141.1z" fill="#ee6596"/>
<path d="M182.5 133L185.5 133.9L182.3 137.2L179.3 136.2z" fill="#ec5c8a"/>
<path d="M188.6 130.7L191.6 131.6L188.4 134.9L185.5 133.9z" fill="#ea5884"/>
<path d="M194.8 128.4L197.8 129.4L194.6 132.6L191.6 131.6z" fill="#e8547f"/>
<path d="M200.9 126.2L203.9 127.2L200.7 130.4L197.8 129.4z" fill="#e75079"/>
<path d="M213.3 122L216.2 123L213 126.1L210.1 125.1z" fill="#e3496f"/>
<path d="M145.8 147.9L148.7 148.6L145.6 152L142.6 151.2z" fill="#f478af"/>
<path d="M176.4 135.3L179.3 136.2L176.1 139.6L173.2 138.6z" fill="#ed6090"/>
<path d="M207.1 124.1L210.1 125.1L206.9 128.2L203.9 127.2z" fill="#e54c74"/>
<path d="M154.8 146L157.8 146.9L154.6 150.3L151.7 149.4z" fill="#f373a9"/>
<path d="M160.9 143.5L163.9 144.4L160.7 147.8L157.8 146.9z" fill="#f16fa3"/>
<path d="M167.1 141.1L170 142L166.8 145.3L163.9 144.4z" fill="#f06a9d"/>
<path d="M185.5 133.9L188.4 134.9L185.2 138.2L182.3 137.2z" fill="#ec5d8b"/>
<path d="M191.6 131.6L194.6 132.6L191.4 135.9L188.4 134.9z" fill="#ea5985"/>
<path d="M197.8 129.4L200.7 130.4L197.5 133.7L194.6 132.6z" fill="#e95580"/>
<path d="M142.6 151.2L145.6 152L142.4 155.4L139.5 154.6z" fill="#f57db6"/>
<path d="M148.7 148.6L151.7 149.4L148.5 152.8L145.6 152z" fill="#f478af"/>
<path d="M173.2 138.6L176.1 139.6L173 142.9L170 142z" fill="#ef6697"/>
<path d="M179.3 136.2L182.3 137.2L179.1 140.6L176.1 139.6z" fill="#ed6191"/>
<path d="M203.9 127.2L206.9 128.2L203.7 131.5L200.7 130.4z" fill="#e7517b"/>
<path d="M210.1 125.1L213 126.1L209.8 129.3L206.9 128.2z" fill="#e54d75"/>
<path d="M145.6 152L148.5 152.8L145.4 156.2L142.4 155.4z" fill="#f57eb6"/>
<path d="M151.7 149.4L154.6 150.3L151.5 153.7L148.5 152.8z" fill="#f479b0"/>
<path d="M157.8 146.9L160.7 147.8L157.6 151.2L154.6 150.3z" fill="#f374aa"/>
<path d="M163.9 144.4L166.8 145.3L163.7 148.8L160.7 147.8z" fill="#f16fa4"/>
<path d="M170 142L173 142.9L169.8 146.3L166.8 145.3z" fill="#f06b9e"/>
<path d="M176.1 139.6L179.1 140.6L175.9 144L173 142.9z" fill="#ef6698"/>
<path d="M182.3 137.2L185.2 138.2L182.1 141.6L179.1 140.6z" fill="#ee6292"/>
<path d="M188.4 134.9L191.4 135.9L188.2 139.3L185.2 138.2z" fill="#ec5e8c"/>
<path d="M194.6 132.6L197.5 133.7L194.3 137L191.4 135.9z" fill="#eb5a87"/>
<path d="M200.7 130.4L203.7 131.5L200.5 134.8L197.5 133.7z" fill="#e95681"/>
<path d="M206.9 128.2L209.8 129.3L206.7 132.6L203.7 131.5z" fill="#e7527c"/>
<path d="M148.5 152.8L151.5 153.7L148.3 157.2L145.4 156.2z" fill="#f57eb7"/>
<path d="M173 142.9L175.9 144L172.8 147.4L169.8 146.3z" fill="#f06c9f"/>
<path d="M179.1 140.6L182.1 141.6L178.9 145L175.9 144z" fill="#ef6799"/>
<path d="M203.7 131.5L206.7 132.6L203.5 135.9L200.5 134.8z" fill="#ea5783"/>
<path d="M154.6 150.3L157.6 151.2L154.4 154.7L151.5 153.7z" fill="#f479b1"/>
<path d="M160.7 147.8L163.7 148.8L160.5 152.2L157.6 151.2z" fill="#f375ab"/>
<path d="M166.8 145.3L169.8 146.3L166.6 149.8L163.7 148.8z" fill="#f270a5"/>
<path d="M185.2 138.2L188.2 139.3L185 142.7L182.1 141.6z" fill="#ee6393"/>
<path d="M191.4 135.9L194.3 137L191.2 140.4L188.2 139.3z" fill="#ed5f8d"/>
<path d="M197.5 133.7L200.5 134.8L197.3 138.1L194.3 137z" fill="#eb5a88"/>
<path d="M175.9 144L178.9 145L175.7 148.5L172.8 147.4z" fill="#f16ca0"/>
<path d="M151.5 153.7L154.4 154.7L151.3 158.2L148.3 157.2z" fill="#f67fb8"/>
<path d="M157.6 151.2L160.5 152.2L157.4 155.7L154.4 154.7z" fill="#f47ab2"/>
<path d="M163.7 148.8L166.6 149.8L163.5 153.3L160.5 152.2z" fill="#f375ac"/>
<path d="M169.8 146.3L172.8 147.4L169.6 150.9L166.6 149.8z" fill="#f271a6"/>
<path d="M182.1 141.6L185 142.7L181.8 146.2L178.9 145z" fill="#ef689a"/>
<path d="M188.2 139.3L191.2 140.4L188 143.8L185 142.7z" fill="#ee6494"/>
<path d="M194.3 137L197.3 138.1L194.1 141.6L191.2 140.4z" fill="#ed608f"/>
<path d="M200.5 134.8L203.5 135.9L200.3 139.3L197.3 138.1z" fill="#ec5b89"/>
<path d="M154.4 154.7L157.4 155.7L154.2 159.3L151.3 158.2z" fill="#f67fb9"/>
<path d="M166.6 149.8L169.6 150.9L166.4 154.4L163.5 153.3z" fill="#f376ad"/>
<path d="M172.8 147.4L175.7 148.5L172.5 152L169.6 150.9z" fill="#f272a7"/>
<path d="M178.9 145L181.8 146.2L178.7 149.7L175.7 148.5z" fill="#f16da1"/>
<path d="M185 142.7L188 143.8L184.8 147.4L181.8 146.2z" fill="#f0699b"/>
<path d="M197.3 138.1L200.3 139.3L197.1 142.8L194.1 141.6z" fill="#ed6190"/>
<path d="M160.5 152.2L163.5 153.3L160.3 156.8L157.4 155.7z" fill="#f57bb3"/>
<path d="M191.2 140.4L194.1 141.6L190.9 145L188 143.8z" fill="#ee6596"/>
<path d="M169.6 150.9L172.5 152L169.4 155.6L166.4 154.4z" fill="#f477ae"/>
<path d="M175.7 148.5L178.7 149.7L175.5 153.2L172.5 152z" fill="#f273a8"/>
<path d="M181.8 146.2L184.8 147.4L181.6 150.9L178.7 149.7z" fill="#f16fa3"/>
<path d="M157.4 155.7L160.3 156.8L157.2 160.4L154.2 159.3z" fill="#f680ba"/>
<path d="M163.5 153.3L166.4 154.4L163.3 158L160.3 156.8z" fill="#f57cb4"/>
<path d="M188 143.8L190.9 145L187.8 148.6L184.8 147.4z" fill="#f06a9d"/>
<path d="M194.1 141.6L197.1 142.8L193.9 146.3L190.9 145z" fill="#ef6697"/>
<path d="M160.3 156.8L163.3 158L160.1 161.6L157.2 160.4z" fill="#f681bb"/>
<path d="M166.4 154.4L169.4 155.6L166.2 159.2L163.3 158z" fill="#f57db5"/>
<path d="M172.5 152L175.5 153.2L172.3 156.9L169.4 155.6z" fill="#f478b0"/>
<path d="M178.7 149.7L181.6 150.9L178.4 154.5L175.5 153.2z" fill="#f374aa"/>
<path d="M184.8 147.4L187.8 148.6L184.6 152.2L181.6 150.9z" fill="#f170a4"/>
<path d="M190.9 145L193.9 146.3L190.7 149.9L187.8 148.6z" fill="#f06b9e"/>
<path d="M163.3 158L166.2 159.2L163 162.8L160.1 161.6z" fill="#f782bd"/>
<path d="M187.8 148.6L190.7 149.9L187.5 153.5L184.6 152.2z" fill="#f271a6"/>
<path d="M169.4 155.6L172.3 156.9L169.2 160.5L166.2 159.2z" fill="#f57eb7"/>
<path d="M175.5 153.2L178.4 154.5L175.3 158.1L172.3 156.9z" fill="#f479b1"/>
<path d="M181.6 150.9L184.6 152.2L181.4 155.8L178.4 154.5z" fill="#f375ab"/>
<path d="M166.2 159.2L169.2 160.5L166 164.2L163 162.8z" fill="#f783be"/>
<path d="M172.3 156.9L175.3 158.1L172.1 161.8L169.2 160.5z" fill="#f67fb8"/>
<path d="M178.4 154.5L181.4 155.8L178.2 159.5L175.3 158.1z" fill="#f57bb3"/>
<path d="M184.6 152.2L187.5 153.5L184.3 157.2L181.4 155.8z" fill="#f376ad"/>
<path d="M169.2 160.5L172.1 161.8L168.9 165.5L166 164.2z" fill="#f785c0"/>
<path d="M181.4 155.8L184.3 157.2L181.2 160.9L178.2 159.5z" fill="#f57cb4"/>
<path d="M175.3 158.1L178.2 159.5L175 163.2L172.1 161.8z" fill="#f680ba"/>
<path d="M172.1 161.8L175 163.2L171.9 166.9L168.9 165.5z" fill="#f886c2"/>
<path d="M178.2 159.5L181.2 160.9L178 164.6L175 163.2z" fill="#f782bc"/>
<path d="M175 163.2L178 164.6L174.8 168.4L171.9 166.9z" fill="#f887c3"/>
</g>
<rect x="279" y="18" width="8.5" height="38.5" fill="url(#cb)"/>
<defs><linearGradient id="eg" x1="0" y1="0" x2="1" y2="0"><stop offset="0" stop-color="#9000c8" stop-opacity="0"/><stop offset="0.6" stop-color="#9000c8" stop-opacity="0.12"/><stop offset="1" stop-color="#9000c8" stop-opacity="0.42"/></linearGradient><radialGradient id="rg" gradientUnits="userSpaceOnUse" cx="0" cy="0" r="10.5711" gradientTransform="matrix(28.9439 0.0000 -6.1369 -31.4968 446.328 42.635)"><stop offset="0.0000" stop-color="#ff0000"/><stop offset="0.0167" stop-color="#ff0000"/><stop offset="0.0333" stop-color="#ff0000"/><stop offset="0.0500" stop-color="#ff0000"/><stop offset="0.0667" stop-color="#ff0000"/><stop offset="0.0833" stop-color="#ff0000"/><stop offset="0.1000" stop-color="#ff0000"/><stop offset="0.1167" stop-color="#ff0000"/><stop offset="0.1333" stop-color="#ff0000"/><stop offset="0.1500" stop-color="#ff0000"/><stop offset="0.1667" stop-color="#ff0000"/><stop offset="0.1833" stop-color="#ff0001"/><stop offset="0.2000" stop-color="#ff0001"/><stop offset="0.2167" stop-color="#ff0001"/><stop offset="0.2333" stop-color="#ff0001"/><stop offset="0.2500" stop-color="#ff0001"/><stop offset="0.2667" stop-color="#ff0002"/><stop offset="0.2833" stop-color="#ff0002"/><stop offset="0.3000" stop-color="#ff0003"/><stop offset="0.3167" stop-color="#ff0005"/><stop offset="0.3333" stop-color="#ff0008"/><stop offset="0.3500" stop-color="#ff000b"/><stop offset="0.3667" stop-color="#ff000e"/><stop offset="0.3833" stop-color="#ff0011"/><stop offset="0.4000" stop-color="#ff0016"/><stop offset="0.4167" stop-color="#ff001b"/><stop offset="0.4333" stop-color="#ff0020"/><stop offset="0.4500" stop-color="#ff0026"/><stop offset="0.4667" stop-color="#ff002b"/><stop offset="0.4833" stop-color="#ff0030"/><stop offset="0.5000" stop-color="#ff0036"/><stop offset="0.5167" stop-color="#ff003b"/><stop offset="0.5333" stop-color="#ff0041"/><stop offset="0.5500" stop-color="#ff0047"/><stop offset="0.5667" stop-color="#ff004d"/><stop offset="0.5833" stop-color="#ff0054"/><stop offset="0.6000" stop-color="#ff005a"/><stop offset="0.6167" stop-color="#ff0061"/><stop offset="0.6333" stop-color="#ff0067"/><stop offset="0.6500" stop-color="#ff006e"/><stop offset="0.6667" stop-color="#ff0074"/><stop offset="0.6833" stop-color="#ff007b"/><stop offset="0.7000" stop-color="#fd0084"/><stop offset="0.7167" stop-color="#fb008d"/><stop offset="0.7333" stop-color="#f40097"/><stop offset="0.7500" stop-color="#e400a1"/><stop offset="0.7667" stop-color="#cf00a8"/><stop offset="0.7833" stop-color="#bd00ac"/><stop offset="0.8000" stop-color="#ab00af"/><stop offset="0.8167" stop-color="#9c00af"/><stop offset="0.8333" stop-color="#8d00ae"/><stop offset="0.8500" stop-color="#7f00ad"/><stop offset="0.8667" stop-color="#7200ab"/><stop offset="0.8833" stop-color="#6700aa"/><stop offset="0.9000" stop-color="#5d00aa"/><stop offset="0.9167" stop-color="#5500aa"/><stop offset="0.9333" stop-color="#4d00aa"/><stop offset="0.9500" stop-color="#4700aa"/><stop offset="0.9667" stop-color="#4400aa"/><stop offset="0.9833" stop-color="#4100aa"/><stop offset="1.0000" stop-color="#3e00aa"/></radialGradient><clipPath id="cp"><rect x="405.8" y="9.2" width="262.8" height="262.1"/></clipPath></defs>
<rect x="405.8" y="9.2" width="262.8" height="262.1" fill="url(#rg)"/>
<rect x="634.6" y="9.2" width="34" height="262.1" fill="url(#eg)"/>
<line x1="405.8" y1="140.25" x2="668.6" y2="140.25" stroke="#ffffff" stroke-width="1" opacity="0.4"/>
<line x1="537.2" y1="9.2" x2="537.2" y2="271.3" stroke="#ffffff" stroke-width="1" opacity="0.4"/>
<g clip-path="url(#cp)">
<circle cx="0" cy="0" r="4.6635" transform="matrix(28.9439 0.0000 -6.1369 -31.4968 446.328 42.635)" fill="none" stroke="#ee0020" stroke-width="1.0" vector-effect="non-scaling-stroke"/>
<circle cx="0" cy="0" r="6.4613" transform="matrix(28.9439 0.0000 -6.1369 -31.4968 446.328 42.635)" fill="none" stroke="#ea0030" stroke-width="1.2" vector-effect="non-scaling-stroke"/>
<circle cx="0" cy="0" r="7.8580" transform="matrix(28.9439 0.0000 -6.1369 -31.4968 446.328 42.635)" fill="none" stroke="#e80038" stroke-width="1.3" vector-effect="non-scaling-stroke"/>
<circle cx="0" cy="0" r="9.0415" transform="matrix(28.9439 0.0000 -6.1369 -31.4968 446.328 42.635)" fill="none" stroke="#e60040" stroke-width="1.3" vector-effect="non-scaling-stroke"/>
</g>
<line x1="397.6" y1="9.2" x2="405.8" y2="9.2" stroke="#111" stroke-width="1.2"/>
<line x1="397.6" y1="140.25" x2="405.8" y2="140.25" stroke="#111" stroke-width="1.2"/>
<line x1="397.6" y1="271.3" x2="405.8" y2="271.3" stroke="#111" stroke-width="1.2"/>
<line x1="405.8" y1="271.3" x2="405.8" y2="278.90000000000003" stroke="#111" stroke-width="1.2"/>
<line x1="537.2" y1="271.3" x2="537.2" y2="278.90000000000003" stroke="#111" stroke-width="1.2"/>
<line x1="668.0" y1="271.3" x2="668.0" y2="278.90000000000003" stroke="#111" stroke-width="1.2"/>
</svg>
<div class="t" style="left:17.2px;top:34.8px;transform-origin:0 50%;transform:scaleX(1.09);">120</div>
<div class="t" style="left:25.7px;top:67.8px;transform-origin:0 50%;transform:scaleX(1.17);">90</div>
<div class="t" style="left:25.7px;top:100.0px;transform-origin:0 50%;transform:scaleX(1.17);">60</div>
<div class="t" style="left:27.1px;top:131.2px;transform-origin:0 50%;transform:scaleX(1.17);">30</div>
<div class="t" style="left:37.8px;top:163.3px;transform-origin:0 50%;transform:scaleX(1.17);">0</div>
<div class="t" style="left:25.5px;top:227.5px;">5.0</div>
<div class="t" style="left:73.5px;top:246.1px;">10.0</div>
<div class="t" style="left:131.7px;top:263.7px;">15.0</div>
<div class="t" style="left:187px;top:263.7px;">10.5</div>
<div class="t" style="left:248px;top:246.0px;">7.0</div>
<div class="t" style="left:309.8px;top:229.3px;">3.5</div>
<div class="t" style="left:363.3px;top:-0.9px;">15.0</div>
<div class="t" style="left:363.3px;top:130.2px;">10.0</div>
<div class="t" style="left:372.4px;top:262.2px;">5.0</div>
<div class="t" style="left:394.4px;top:283.2px;">3.5</div>
<div class="t" style="left:526px;top:282.8px;">7.0</div>
<div class="t" style="left:651.8px;top:282.9px;">10.5</div>
<div class="t b" style="left:6.9px;top:268.6px;font-size:16px;letter-spacing:0px;">B</div>
<div class="t b" style="left:20.6px;top:268.6px;font-size:16px;letter-spacing:0px;"><span style='font-weight:normal'>:</span></div>
<div class="t b" style="left:29.6px;top:268.6px;font-size:16px;letter-spacing:0.85px;">bioflocculant</div>
<div class="t b" style="left:6.8px;top:286.4px;font-size:16px;letter-spacing:0.85px;">dosage</div>
<div class="t b" style="left:69.0px;top:286.4px;font-size:16px;letter-spacing:0px;"><span style='font-weight:normal'>(</span></div>
<div class="t b" style="left:78.5px;top:286.4px;font-size:16px;letter-spacing:0.2px;">mg/L</div>
<div class="t b" style="left:118.6px;top:286.4px;font-size:16px;letter-spacing:0px;"><span style='font-weight:normal'>)</span></div>
<div class="t b" style="left:248.9px;top:272.5px;font-size:16px;letter-spacing:0.6px;">D: pH</div>
<div class="t b" style="left:508.6px;top:301.2px;font-size:16px;letter-spacing:0.6px;">D: pH</div>
<div class="t b" style="left:435.6px;top:15.7px;font-size:16px;letter-spacing:1.03px;color:#fff;">Flocculation<span style='margin-left:-2.2px'> </span>efficiency (%)</div>
<div class="t b" style="left:0;top:0;font-size:16px;letter-spacing:0.89px;transform-origin:0 0;transform:translate(1.9px,230.3px) rotate(-90deg);">Flocculation efficiency<span style="font-weight:normal;font-size:15px;letter-spacing:0;margin-left:11px;position:relative;top:-3.3px">(</span><span style="font-weight:normal;font-family:'Liberation Mono',monospace;font-size:14px;letter-spacing:0;margin-left:0.5px;position:relative;top:-3.5px">%</span><span style="font-weight:normal;font-size:15px;letter-spacing:0;margin-left:2.8px;position:relative;top:-3.3px">)</span></div>
<div class="t b" style="left:0;top:0;font-size:16px;letter-spacing:0.98px;transform-origin:0 0;transform:translate(348px,263px) rotate(-90deg);">B:bioflocculant dosage (mg/L)</div>
<div class="t" style="left:290.6px;top:19.7px;font-family:'Liberation Sans',sans-serif;font-size:10.1px;color:#b8001e;-webkit-text-stroke:0.35px #b8001e;">95.3725</div>
<div class="t" style="left:290.6px;top:44.8px;font-family:'Liberation Sans',sans-serif;font-size:10.1px;color:#1818b0;-webkit-text-stroke:0.35px #1818b0;">2.53012</div>
<div class="lab" style="left:431.7px;top:42.4px;width:27.2px;height:18.7px;line-height:19.2px;">100</div>
<div class="lab" style="left:540.8px;top:136.7px;width:19.2px;height:17.9px;line-height:18.4px;">80</div>
<div class="lab" style="left:580px;top:185.6px;width:19px;height:19.0px;line-height:19.5px;">60</div>
<div class="lab" style="left:626.1px;top:206.5px;width:19.2px;height:18.5px;line-height:19.0px;">40</div>
<div class="lab" style="left:646.3px;top:245.8px;width:19.4px;height:18.1px;line-height:18.6px;">20</div>
</body></html>
